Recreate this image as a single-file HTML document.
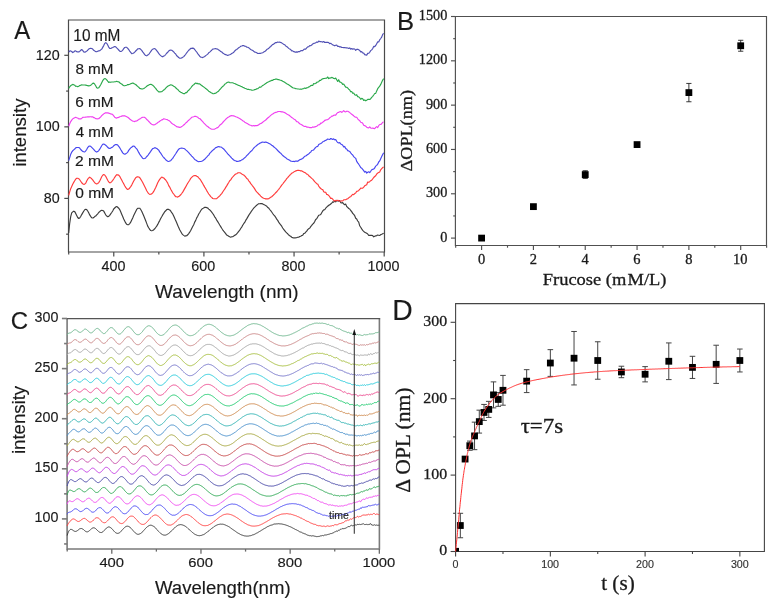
<!DOCTYPE html>
<html><head><meta charset="utf-8"><title>figure</title>
<style>html,body{margin:0;padding:0;background:#fff;}svg{display:block;will-change:transform;}</style></head>
<body><svg width="772" height="602" viewBox="0 0 772 602">
<rect width="772" height="602" fill="#fff"/>
<path d="M68.5 20.0 V252.0 H384.5 V20.0 Z" fill="none" stroke="#4a4a4a" stroke-width="1.2"/>
<path d="M68.7 233.0L69.7 223.3L70.7 216.6L71.7 212.9L72.7 211.9L73.7 211.2L74.7 211.6L75.7 213.4L76.7 215.5L77.7 217.5L78.7 218.5L79.7 217.9L80.7 216.5L81.7 214.6L82.7 212.9L83.7 211.2L84.7 209.7L85.7 209.3L86.7 209.6L87.7 211.0L88.7 212.8L89.7 214.9L90.7 216.4L91.7 217.8L92.7 218.0L93.7 217.6L94.7 216.6L95.7 216.0L96.7 214.9L97.7 213.8L98.7 212.5L99.7 211.6L100.7 210.7L101.7 210.3L102.7 210.5L103.7 211.1L104.7 212.9L105.7 214.8L106.7 216.0L107.7 216.7L108.7 216.4L109.7 215.4L110.7 213.9L111.7 212.5L112.7 211.0L113.7 209.0L114.7 208.0L115.7 207.0L116.7 206.5L117.7 207.3L118.7 208.2L119.7 209.6L120.7 211.8L121.7 214.2L122.7 216.5L123.7 219.0L124.7 221.0L125.7 222.9L126.7 224.3L127.7 224.7L128.7 224.6L129.7 223.6L130.7 222.2L131.7 220.0L132.7 217.9L133.7 215.6L134.7 213.5L135.7 211.5L136.7 209.4L137.7 208.4L138.7 208.2L139.7 208.2L140.7 209.5L141.7 211.2L142.7 213.5L143.7 215.8L144.7 218.2L145.7 220.8L146.7 223.4L147.7 226.1L148.7 227.8L149.7 229.4L150.7 230.5L151.7 230.8L152.7 230.5L153.7 229.7L154.7 228.8L155.7 227.5L156.7 226.2L157.7 224.4L158.7 222.4L159.7 220.6L160.7 218.5L161.7 216.8L162.7 214.9L163.7 213.4L164.7 211.7L165.7 210.8L166.7 209.6L167.7 209.2L168.7 209.4L169.7 209.9L170.7 211.0L171.7 212.7L172.7 213.9L173.7 215.9L174.7 218.2L175.7 220.6L176.7 222.8L177.7 225.2L178.7 227.6L179.7 229.7L180.7 231.5L181.7 233.3L182.7 234.6L183.7 235.4L184.7 236.1L185.7 235.9L186.7 235.7L187.7 234.8L188.7 233.6L189.7 232.1L190.7 230.5L191.7 228.4L192.7 226.5L193.7 224.7L194.7 222.1L195.7 220.4L196.7 217.9L197.7 216.2L198.7 214.0L199.7 212.5L200.7 210.8L201.7 209.2L202.7 208.6L203.7 207.9L204.7 207.3L205.7 207.3L206.7 207.6L207.7 208.0L208.7 209.1L209.7 209.8L210.7 210.9L211.7 212.1L212.7 213.5L213.7 214.9L214.7 216.8L215.7 218.2L216.7 220.1L217.7 221.6L218.7 223.2L219.7 225.0L220.7 226.6L221.7 228.3L222.7 229.8L223.7 231.2L224.7 232.4L225.7 233.7L226.7 235.1L227.7 235.6L228.7 236.2L229.7 236.8L230.7 237.2L231.7 236.7L232.7 236.7L233.7 236.1L234.7 235.3L235.7 234.9L236.7 233.8L237.7 232.7L238.7 231.3L239.7 230.1L240.7 228.5L241.7 227.1L242.7 225.3L243.7 223.7L244.7 222.4L245.7 220.4L246.7 218.9L247.7 217.1L248.7 215.4L249.7 213.8L250.7 212.4L251.7 210.8L252.7 209.5L253.7 208.2L254.7 207.2L255.7 206.1L256.7 205.2L257.7 204.4L258.7 203.7L259.7 203.8L260.7 203.6L261.7 203.6L262.7 203.9L263.7 204.4L264.7 204.9L265.7 205.6L266.7 206.2L267.7 207.5L268.7 208.1L269.7 209.5L270.7 210.7L271.7 212.0L272.7 213.5L273.7 214.9L274.7 215.9L275.7 217.3L276.7 219.2L277.7 220.4L278.7 222.1L279.7 223.7L280.7 224.8L281.7 226.2L282.7 228.0L283.7 229.3L284.7 230.6L285.7 231.9L286.7 232.9L287.7 233.8L288.7 235.0L289.7 235.7L290.7 236.3L291.7 237.2L292.7 237.6L293.7 238.0L294.7 237.8L295.7 237.8L296.7 237.6L297.7 237.3L298.7 237.2L299.7 236.5L300.7 236.2L301.7 235.6L302.7 235.3L303.7 233.6L304.7 233.3L305.7 232.1L306.7 231.1L307.7 229.6L308.7 228.8L309.7 228.1L310.7 226.6L311.7 225.4L312.7 224.1L313.7 223.3L314.7 221.6L315.7 219.5L316.7 218.8L317.7 217.0L318.7 215.2L319.7 215.0L320.7 214.5L321.7 212.7L322.7 211.0L323.7 209.9L324.7 209.8L325.7 208.2L326.7 207.2L327.7 206.2L328.7 205.3L329.7 204.9L330.7 204.0L331.7 203.1L332.7 201.9L333.7 202.2L334.7 201.2L335.7 201.8L336.7 200.4L337.7 200.9L338.7 201.1L339.7 200.6L340.7 202.6L341.7 203.0L342.7 202.6L343.7 204.0L344.7 204.7L345.7 204.1L346.7 206.5L347.7 207.4L348.7 208.5L349.7 209.0L350.7 210.5L351.7 211.6L352.7 213.4L353.7 214.3L354.7 215.7L355.7 218.2L356.7 219.0L357.7 221.0L358.7 222.2L359.7 225.8L360.7 227.3L361.7 228.9L362.7 230.3L363.7 231.3L364.7 232.3L365.7 232.7L366.7 233.3L367.7 234.0L368.7 235.3L369.7 235.3L370.7 235.3L371.7 235.4L372.7 235.6L373.7 236.8L374.7 236.2L375.7 235.9L376.7 235.6L377.7 235.0L378.7 235.3L379.7 235.5L380.7 234.6L381.7 234.2L382.7 233.7L383.7 233.2" fill="none" stroke="#3c3c3c" stroke-width="1.15" stroke-linejoin="round"/>
<path d="M68.7 195.3L69.7 191.9L70.7 188.7L71.7 186.5L72.7 184.2L73.7 182.4L74.7 180.7L75.7 179.1L76.7 178.2L77.7 178.2L78.7 178.7L79.7 179.7L80.7 181.2L81.7 182.8L82.7 183.7L83.7 184.4L84.7 184.2L85.7 183.2L86.7 181.1L87.7 179.2L88.7 178.0L89.7 177.2L90.7 177.9L91.7 178.8L92.7 179.9L93.7 181.3L94.7 182.8L95.7 183.4L96.7 183.9L97.7 183.5L98.7 182.6L99.7 181.0L100.7 178.9L101.7 176.7L102.7 175.2L103.7 174.5L104.7 175.0L105.7 176.3L106.7 178.3L107.7 180.3L108.7 181.9L109.7 182.8L110.7 182.6L111.7 181.6L112.7 180.4L113.7 179.0L114.7 177.3L115.7 175.9L116.7 174.7L117.7 174.9L118.7 175.1L119.7 176.3L120.7 178.2L121.7 180.1L122.7 182.0L123.7 183.8L124.7 185.8L125.7 187.4L126.7 188.7L127.7 189.5L128.7 189.0L129.7 188.0L130.7 186.6L131.7 185.1L132.7 183.1L133.7 181.0L134.7 179.4L135.7 177.7L136.7 177.0L137.7 176.7L138.7 177.0L139.7 177.6L140.7 179.1L141.7 180.7L142.7 182.5L143.7 184.6L144.7 186.6L145.7 188.6L146.7 190.8L147.7 192.3L148.7 193.6L149.7 194.4L150.7 194.2L151.7 193.9L152.7 192.9L153.7 191.4L154.7 189.4L155.7 187.5L156.7 185.2L157.7 182.8L158.7 180.9L159.7 179.4L160.7 178.1L161.7 177.1L162.7 177.6L163.7 177.9L164.7 179.0L165.7 180.0L166.7 181.5L167.7 183.1L168.7 185.6L169.7 187.1L170.7 189.3L171.7 190.9L172.7 192.8L173.7 194.0L174.7 195.5L175.7 196.6L176.7 196.7L177.7 197.1L178.7 196.6L179.7 195.7L180.7 194.8L181.7 193.5L182.7 192.1L183.7 190.4L184.7 188.6L185.7 186.9L186.7 185.0L187.7 183.2L188.7 181.7L189.7 180.2L190.7 178.4L191.7 177.4L192.7 176.4L193.7 175.7L194.7 175.6L195.7 175.5L196.7 176.2L197.7 176.6L198.7 177.8L199.7 178.9L200.7 180.2L201.7 181.9L202.7 183.5L203.7 185.4L204.7 187.1L205.7 188.7L206.7 190.6L207.7 192.3L208.7 194.0L209.7 195.2L210.7 196.6L211.7 197.4L212.7 198.5L213.7 198.7L214.7 198.7L215.7 198.8L216.7 198.6L217.7 197.6L218.7 196.8L219.7 195.9L220.7 194.7L221.7 193.6L222.7 192.0L223.7 190.5L224.7 189.2L225.7 187.4L226.7 185.9L227.7 184.1L228.7 182.5L229.7 180.8L230.7 179.9L231.7 178.2L232.7 177.0L233.7 175.8L234.7 174.8L235.7 174.0L236.7 173.7L237.7 172.9L238.7 172.7L239.7 172.8L240.7 173.1L241.7 173.9L242.7 174.5L243.7 175.0L244.7 175.9L245.7 177.0L246.7 178.4L247.7 179.0L248.7 180.8L249.7 181.9L250.7 183.6L251.7 184.7L252.7 186.2L253.7 187.4L254.7 188.9L255.7 190.6L256.7 191.9L257.7 192.9L258.7 194.0L259.7 194.9L260.7 196.1L261.7 197.0L262.7 197.7L263.7 198.3L264.7 198.5L265.7 198.9L266.7 198.9L267.7 198.9L268.7 198.7L269.7 197.9L270.7 197.3L271.7 196.7L272.7 195.8L273.7 194.8L274.7 193.9L275.7 192.7L276.7 191.8L277.7 190.5L278.7 189.3L279.7 188.0L280.7 186.6L281.7 185.2L282.7 184.0L283.7 182.6L284.7 181.4L285.7 180.1L286.7 178.7L287.7 177.7L288.7 176.3L289.7 175.3L290.7 174.4L291.7 173.2L292.7 172.7L293.7 172.1L294.7 171.4L295.7 170.9L296.7 170.6L297.7 170.3L298.7 170.4L299.7 170.5L300.7 170.9L301.7 170.8L302.7 171.6L303.7 172.1L304.7 172.5L305.7 173.1L306.7 174.1L307.7 174.2L308.7 175.7L309.7 176.5L310.7 177.4L311.7 178.4L312.7 179.1L313.7 180.3L314.7 181.7L315.7 182.7L316.7 183.7L317.7 184.1L318.7 186.1L319.7 187.5L320.7 188.5L321.7 189.3L322.7 189.6L323.7 191.8L324.7 192.3L325.7 192.2L326.7 194.5L327.7 194.6L328.7 195.5L329.7 196.7L330.7 198.4L331.7 198.2L332.7 199.2L333.7 200.5L334.7 200.9L335.7 200.4L336.7 200.6L337.7 200.3L338.7 200.6L339.7 201.2L340.7 201.1L341.7 200.8L342.7 201.0L343.7 199.8L344.7 199.7L345.7 199.7L346.7 199.1L347.7 198.8L348.7 197.9L349.7 197.0L350.7 196.7L351.7 195.3L352.7 194.3L353.7 194.7L354.7 193.6L355.7 193.0L356.7 191.3L357.7 191.2L358.7 190.4L359.7 189.5L360.7 188.1L361.7 188.3L362.7 188.2L363.7 187.1L364.7 185.8L365.7 185.2L366.7 184.7L367.7 182.0L368.7 182.3L369.7 181.7L370.7 180.7L371.7 180.2L372.7 178.9L373.7 177.5L374.7 176.5L375.7 175.7L376.7 174.0L377.7 173.1L378.7 172.5L379.7 171.9L380.7 169.8L381.7 168.7L382.7 167.6L383.7 167.0" fill="none" stroke="#ff3b3b" stroke-width="1.15" stroke-linejoin="round"/>
<path d="M68.7 160.6L69.7 157.6L70.7 154.3L71.7 152.2L72.7 150.8L73.7 149.9L74.7 149.0L75.7 147.9L76.7 147.5L77.7 147.5L78.7 147.5L79.7 148.1L80.7 149.5L81.7 150.5L82.7 151.4L83.7 151.8L84.7 152.0L85.7 150.8L86.7 149.5L87.7 147.6L88.7 146.3L89.7 146.0L90.7 146.3L91.7 147.3L92.7 148.3L93.7 149.3L94.7 150.6L95.7 151.5L96.7 152.1L97.7 151.6L98.7 150.6L99.7 149.2L100.7 147.5L101.7 145.8L102.7 144.3L103.7 144.0L104.7 144.6L105.7 145.2L106.7 146.1L107.7 147.3L108.7 148.2L109.7 148.4L110.7 148.1L111.7 147.5L112.7 146.9L113.7 145.8L114.7 145.0L115.7 144.5L116.7 144.6L117.7 145.1L118.7 146.4L119.7 147.7L120.7 149.5L121.7 151.1L122.7 152.9L123.7 153.7L124.7 154.1L125.7 153.9L126.7 153.1L127.7 152.1L128.7 150.4L129.7 149.1L130.7 147.9L131.7 147.2L132.7 146.3L133.7 146.0L134.7 146.6L135.7 147.8L136.7 148.8L137.7 150.4L138.7 152.4L139.7 154.1L140.7 155.7L141.7 156.9L142.7 158.3L143.7 158.7L144.7 158.5L145.7 157.9L146.7 156.5L147.7 155.7L148.7 154.2L149.7 152.8L150.7 151.4L151.7 149.9L152.7 148.6L153.7 148.2L154.7 147.7L155.7 147.9L156.7 148.4L157.7 149.3L158.7 150.1L159.7 151.9L160.7 153.1L161.7 154.7L162.7 156.3L163.7 157.5L164.7 158.5L165.7 159.7L166.7 160.5L167.7 161.2L168.7 161.5L169.7 161.0L170.7 160.7L171.7 159.4L172.7 158.4L173.7 156.8L174.7 155.2L175.7 153.7L176.7 152.1L177.7 150.6L178.7 149.2L179.7 148.5L180.7 148.2L181.7 148.1L182.7 148.2L183.7 148.5L184.7 148.8L185.7 149.9L186.7 150.6L187.7 151.6L188.7 152.6L189.7 153.8L190.7 154.9L191.7 156.1L192.7 157.0L193.7 158.2L194.7 159.5L195.7 160.0L196.7 160.7L197.7 161.4L198.7 161.7L199.7 161.5L200.7 161.5L201.7 161.3L202.7 160.7L203.7 160.0L204.7 159.3L205.7 158.1L206.7 157.1L207.7 155.9L208.7 155.1L209.7 153.4L210.7 152.4L211.7 151.3L212.7 150.4L213.7 149.5L214.7 148.7L215.7 147.6L216.7 147.4L217.7 146.8L218.7 146.6L219.7 146.9L220.7 147.0L221.7 147.3L222.7 148.3L223.7 149.0L224.7 150.1L225.7 151.3L226.7 152.5L227.7 153.9L228.7 154.8L229.7 155.8L230.7 157.0L231.7 158.1L232.7 159.0L233.7 160.1L234.7 160.6L235.7 160.8L236.7 161.5L237.7 161.4L238.7 161.3L239.7 160.9L240.7 160.6L241.7 159.9L242.7 159.5L243.7 158.6L244.7 157.8L245.7 156.8L246.7 155.6L247.7 154.8L248.7 153.7L249.7 152.7L250.7 151.4L251.7 150.8L252.7 149.5L253.7 148.2L254.7 147.1L255.7 146.4L256.7 145.5L257.7 144.6L258.7 144.0L259.7 143.2L260.7 142.9L261.7 142.3L262.7 142.1L263.7 142.2L264.7 142.4L265.7 142.0L266.7 142.4L267.7 142.7L268.7 143.4L269.7 143.7L270.7 144.4L271.7 145.2L272.7 145.8L273.7 146.7L274.7 147.6L275.7 148.3L276.7 149.4L277.7 150.5L278.7 151.5L279.7 152.5L280.7 153.2L281.7 154.3L282.7 155.5L283.7 156.3L284.7 157.1L285.7 157.7L286.7 158.7L287.7 159.2L288.7 159.7L289.7 160.3L290.7 161.1L291.7 161.2L292.7 161.5L293.7 161.3L294.7 161.6L295.7 161.1L296.7 161.0L297.7 161.3L298.7 160.5L299.7 159.8L300.7 159.4L301.7 158.9L302.7 158.5L303.7 157.4L304.7 156.3L305.7 156.0L306.7 155.2L307.7 154.5L308.7 154.0L309.7 152.8L310.7 152.1L311.7 150.5L312.7 150.3L313.7 149.9L314.7 148.5L315.7 147.4L316.7 146.6L317.7 146.4L318.7 144.5L319.7 144.0L320.7 143.5L321.7 142.9L322.7 141.8L323.7 141.5L324.7 140.7L325.7 140.4L326.7 139.8L327.7 139.0L328.7 139.3L329.7 139.5L330.7 138.5L331.7 138.9L332.7 139.5L333.7 138.8L334.7 139.8L335.7 139.6L336.7 141.3L337.7 142.5L338.7 143.0L339.7 142.6L340.7 143.9L341.7 144.4L342.7 145.3L343.7 146.9L344.7 146.4L345.7 148.6L346.7 149.0L347.7 150.6L348.7 150.9L349.7 151.4L350.7 152.8L351.7 154.1L352.7 155.0L353.7 156.6L354.7 157.6L355.7 158.3L356.7 161.4L357.7 162.9L358.7 164.2L359.7 165.7L360.7 167.6L361.7 168.2L362.7 169.3L363.7 170.6L364.7 172.1L365.7 171.4L366.7 173.1L367.7 172.3L368.7 171.8L369.7 172.6L370.7 171.3L371.7 169.8L372.7 169.4L373.7 169.0L374.7 168.0L375.7 166.1L376.7 165.4L377.7 164.2L378.7 162.0L379.7 160.9L380.7 158.8L381.7 156.6L382.7 154.6L383.7 152.7" fill="none" stroke="#4646f0" stroke-width="1.15" stroke-linejoin="round"/>
<path d="M68.7 126.4L69.7 123.8L70.7 121.6L71.7 120.1L72.7 118.9L73.7 118.2L74.7 117.7L75.7 117.3L76.7 117.7L77.7 118.0L78.7 118.9L79.7 118.8L80.7 118.9L81.7 118.4L82.7 117.4L83.7 117.2L84.7 117.2L85.7 117.1L86.7 117.0L87.7 116.8L88.7 116.8L89.7 116.8L90.7 116.7L91.7 116.9L92.7 116.8L93.7 117.6L94.7 117.9L95.7 118.6L96.7 118.8L97.7 118.8L98.7 118.7L99.7 117.8L100.7 116.8L101.7 115.6L102.7 114.8L103.7 113.9L104.7 113.2L105.7 112.7L106.7 112.9L107.7 112.9L108.7 113.1L109.7 113.5L110.7 113.9L111.7 114.1L112.7 114.6L113.7 115.8L114.7 117.2L115.7 117.9L116.7 118.1L117.7 117.6L118.7 117.4L119.7 116.8L120.7 116.5L121.7 116.1L122.7 115.7L123.7 115.9L124.7 115.7L125.7 116.2L126.7 116.7L127.7 117.2L128.7 118.0L129.7 119.0L130.7 119.8L131.7 120.5L132.7 121.1L133.7 121.2L134.7 121.6L135.7 121.1L136.7 121.0L137.7 120.3L138.7 119.6L139.7 119.0L140.7 118.4L141.7 117.6L142.7 117.2L143.7 117.2L144.7 117.4L145.7 118.2L146.7 119.5L147.7 120.2L148.7 121.5L149.7 122.3L150.7 123.6L151.7 124.2L152.7 124.7L153.7 124.9L154.7 124.8L155.7 124.1L156.7 123.5L157.7 122.6L158.7 122.1L159.7 121.2L160.7 120.6L161.7 119.9L162.7 119.6L163.7 118.8L164.7 119.0L165.7 119.3L166.7 119.5L167.7 119.9L168.7 120.6L169.7 121.1L170.7 122.1L171.7 123.3L172.7 123.9L173.7 124.4L174.7 125.2L175.7 125.9L176.7 126.7L177.7 126.9L178.7 127.1L179.7 127.4L180.7 127.2L181.7 126.6L182.7 125.9L183.7 125.0L184.7 124.2L185.7 123.0L186.7 122.3L187.7 121.1L188.7 120.2L189.7 119.4L190.7 118.4L191.7 117.3L192.7 117.0L193.7 116.7L194.7 116.3L195.7 116.4L196.7 116.8L197.7 117.1L198.7 118.3L199.7 118.5L200.7 119.5L201.7 120.6L202.7 121.7L203.7 122.8L204.7 123.8L205.7 124.8L206.7 126.0L207.7 126.4L208.7 127.5L209.7 128.1L210.7 128.8L211.7 129.1L212.7 129.2L213.7 129.2L214.7 129.1L215.7 128.6L216.7 127.9L217.7 127.6L218.7 126.8L219.7 125.3L220.7 124.5L221.7 123.8L222.7 122.5L223.7 121.4L224.7 120.3L225.7 119.3L226.7 118.4L227.7 117.5L228.7 117.0L229.7 116.3L230.7 115.9L231.7 115.6L232.7 115.8L233.7 115.8L234.7 116.2L235.7 116.7L236.7 117.0L237.7 117.5L238.7 118.1L239.7 118.6L240.7 119.2L241.7 119.9L242.7 120.7L243.7 121.2L244.7 122.2L245.7 122.7L246.7 123.2L247.7 123.8L248.7 124.4L249.7 125.0L250.7 125.2L251.7 125.8L252.7 125.8L253.7 125.6L254.7 125.9L255.7 125.5L256.7 125.6L257.7 125.4L258.7 124.8L259.7 124.0L260.7 123.5L261.7 123.1L262.7 122.2L263.7 121.4L264.7 120.7L265.7 120.1L266.7 119.0L267.7 118.0L268.7 117.2L269.7 116.4L270.7 115.4L271.7 114.6L272.7 114.1L273.7 113.3L274.7 112.8L275.7 112.4L276.7 112.3L277.7 111.6L278.7 111.5L279.7 111.5L280.7 111.6L281.7 111.9L282.7 111.9L283.7 112.2L284.7 112.6L285.7 113.2L286.7 113.9L287.7 114.5L288.7 115.0L289.7 115.8L290.7 116.6L291.7 117.5L292.7 118.1L293.7 118.9L294.7 119.4L295.7 120.3L296.7 121.7L297.7 121.7L298.7 122.8L299.7 123.7L300.7 124.2L301.7 124.7L302.7 125.5L303.7 126.1L304.7 126.5L305.7 126.3L306.7 127.1L307.7 127.1L308.7 127.3L309.7 127.6L310.7 127.6L311.7 127.6L312.7 126.9L313.7 127.2L314.7 126.9L315.7 126.6L316.7 126.3L317.7 125.2L318.7 124.7L319.7 124.6L320.7 123.1L321.7 123.2L322.7 122.2L323.7 121.6L324.7 120.4L325.7 120.1L326.7 119.8L327.7 119.6L328.7 119.0L329.7 117.8L330.7 117.1L331.7 116.1L332.7 116.1L333.7 115.2L334.7 115.1L335.7 115.1L336.7 113.7L337.7 112.5L338.7 112.4L339.7 111.7L340.7 111.5L341.7 112.4L342.7 111.7L343.7 110.7L344.7 111.7L345.7 111.9L346.7 111.2L347.7 111.3L348.7 111.8L349.7 112.6L350.7 113.3L351.7 114.3L352.7 115.0L353.7 115.8L354.7 116.8L355.7 117.3L356.7 117.2L357.7 118.8L358.7 120.0L359.7 120.6L360.7 122.2L361.7 122.5L362.7 123.2L363.7 125.2L364.7 125.6L365.7 126.2L366.7 127.2L367.7 127.8L368.7 127.9L369.7 126.9L370.7 128.0L371.7 128.3L372.7 128.0L373.7 128.4L374.7 128.6L375.7 127.4L376.7 126.6L377.7 127.6L378.7 125.7L379.7 124.5L380.7 124.5L381.7 123.7L382.7 122.2L383.7 122.0" fill="none" stroke="#f040f0" stroke-width="1.15" stroke-linejoin="round"/>
<path d="M68.7 88.4L69.7 86.8L70.7 85.7L71.7 84.9L72.7 84.4L73.7 84.8L74.7 85.2L75.7 86.3L76.7 86.2L77.7 86.7L78.7 86.2L79.7 85.6L80.7 85.2L81.7 84.9L82.7 85.0L83.7 85.0L84.7 85.0L85.7 85.1L86.7 85.4L87.7 85.6L88.7 85.9L89.7 85.7L90.7 85.2L91.7 84.4L92.7 83.4L93.7 83.1L94.7 84.2L95.7 85.8L96.7 87.8L97.7 88.1L98.7 87.8L99.7 86.4L100.7 84.8L101.7 82.7L102.7 80.7L103.7 79.3L104.7 78.6L105.7 78.8L106.7 79.8L107.7 81.2L108.7 82.4L109.7 82.0L110.7 82.3L111.7 82.0L112.7 82.0L113.7 82.0L114.7 81.7L115.7 81.7L116.7 81.3L117.7 81.7L118.7 81.8L119.7 82.7L120.7 83.5L121.7 84.0L122.7 85.0L123.7 85.6L124.7 85.8L125.7 85.5L126.7 85.2L127.7 84.6L128.7 84.6L129.7 84.3L130.7 83.7L131.7 83.4L132.7 83.0L133.7 83.4L134.7 84.0L135.7 84.5L136.7 85.5L137.7 86.4L138.7 87.2L139.7 88.4L140.7 88.6L141.7 89.0L142.7 88.9L143.7 88.5L144.7 87.9L145.7 87.1L146.7 86.2L147.7 85.5L148.7 85.1L149.7 84.5L150.7 84.3L151.7 84.6L152.7 85.3L153.7 86.1L154.7 87.3L155.7 88.4L156.7 89.9L157.7 90.9L158.7 91.9L159.7 91.8L160.7 91.8L161.7 91.7L162.7 90.9L163.7 90.0L164.7 89.4L165.7 88.2L166.7 87.1L167.7 86.2L168.7 85.7L169.7 85.2L170.7 84.8L171.7 85.0L172.7 85.6L173.7 86.2L174.7 86.7L175.7 87.8L176.7 88.7L177.7 89.4L178.7 90.6L179.7 91.6L180.7 92.2L181.7 92.6L182.7 93.3L183.7 93.6L184.7 93.6L185.7 92.6L186.7 92.6L187.7 91.1L188.7 90.3L189.7 89.2L190.7 88.0L191.7 86.7L192.7 85.4L193.7 84.7L194.7 83.8L195.7 83.0L196.7 83.6L197.7 83.4L198.7 83.9L199.7 83.9L200.7 84.8L201.7 85.5L202.7 86.3L203.7 86.9L204.7 87.6L205.7 88.6L206.7 89.2L207.7 90.1L208.7 91.2L209.7 91.8L210.7 92.5L211.7 93.0L212.7 93.6L213.7 93.7L214.7 93.4L215.7 93.3L216.7 92.4L217.7 91.7L218.7 91.0L219.7 89.6L220.7 88.7L221.7 87.4L222.7 86.5L223.7 85.6L224.7 84.3L225.7 83.6L226.7 82.8L227.7 82.3L228.7 82.1L229.7 82.6L230.7 82.8L231.7 82.7L232.7 82.8L233.7 83.3L234.7 83.5L235.7 84.1L236.7 84.4L237.7 84.9L238.7 85.4L239.7 85.7L240.7 86.3L241.7 86.6L242.7 87.2L243.7 87.6L244.7 88.2L245.7 88.5L246.7 89.0L247.7 89.4L248.7 89.4L249.7 89.7L250.7 89.8L251.7 90.1L252.7 90.2L253.7 90.0L254.7 89.6L255.7 89.5L256.7 88.7L257.7 88.7L258.7 87.9L259.7 87.0L260.7 87.2L261.7 86.4L262.7 85.4L263.7 84.9L264.7 84.2L265.7 83.6L266.7 82.7L267.7 82.2L268.7 81.8L269.7 81.2L270.7 80.9L271.7 80.3L272.7 80.3L273.7 79.5L274.7 79.5L275.7 79.0L276.7 79.1L277.7 79.6L278.7 79.5L279.7 80.0L280.7 80.3L281.7 80.6L282.7 81.2L283.7 81.7L284.7 82.3L285.7 83.1L286.7 83.7L287.7 84.2L288.7 84.8L289.7 85.6L290.7 86.2L291.7 87.0L292.7 87.8L293.7 88.0L294.7 88.3L295.7 88.6L296.7 88.8L297.7 89.0L298.7 89.0L299.7 89.2L300.7 89.1L301.7 89.3L302.7 88.8L303.7 88.6L304.7 88.0L305.7 88.5L306.7 87.7L307.7 87.7L308.7 86.9L309.7 86.7L310.7 85.6L311.7 85.4L312.7 85.5L313.7 83.5L314.7 83.8L315.7 83.5L316.7 82.4L317.7 82.0L318.7 81.7L319.7 80.3L320.7 80.3L321.7 79.3L322.7 78.9L323.7 78.5L324.7 78.4L325.7 78.2L326.7 78.1L327.7 77.0L328.7 78.6L329.7 78.1L330.7 77.9L331.7 77.4L332.7 77.8L333.7 78.4L334.7 78.7L335.7 78.1L336.7 79.8L337.7 81.5L338.7 79.7L339.7 81.9L340.7 82.3L341.7 82.9L342.7 84.5L343.7 84.0L344.7 85.6L345.7 87.1L346.7 87.2L347.7 88.0L348.7 89.2L349.7 89.9L350.7 91.8L351.7 91.5L352.7 93.3L353.7 93.0L354.7 94.8L355.7 95.2L356.7 94.7L357.7 96.7L358.7 96.8L359.7 97.8L360.7 99.3L361.7 98.4L362.7 98.8L363.7 100.4L364.7 99.9L365.7 100.8L366.7 100.2L367.7 99.4L368.7 99.4L369.7 99.5L370.7 98.7L371.7 97.3L372.7 96.3L373.7 95.0L374.7 93.5L375.7 93.4L376.7 90.9L377.7 88.7L378.7 87.4L379.7 86.2L380.7 84.4L381.7 82.2L382.7 80.1L383.7 78.6" fill="none" stroke="#2aa84a" stroke-width="1.15" stroke-linejoin="round"/>
<path d="M68.7 52.1L69.7 51.0L70.7 50.9L71.7 51.5L72.7 52.6L73.7 52.0L74.7 51.0L75.7 50.9L76.7 51.7L77.7 51.9L78.7 51.9L79.7 51.4L80.7 50.3L81.7 49.5L82.7 50.4L83.7 52.0L84.7 52.1L85.7 51.9L86.7 51.1L87.7 50.2L88.7 49.1L89.7 48.6L90.7 48.3L91.7 48.5L92.7 49.1L93.7 50.3L94.7 50.9L95.7 51.6L96.7 51.7L97.7 51.2L98.7 50.9L99.7 50.7L100.7 49.9L101.7 49.1L102.7 47.4L103.7 45.6L104.7 43.4L105.7 42.7L106.7 43.2L107.7 45.0L108.7 47.1L109.7 48.4L110.7 48.5L111.7 47.9L112.7 47.5L113.7 47.0L114.7 46.5L115.7 46.8L116.7 47.9L117.7 48.9L118.7 50.0L119.7 51.1L120.7 51.5L121.7 51.2L122.7 50.2L123.7 48.6L124.7 47.5L125.7 47.2L126.7 47.3L127.7 48.4L128.7 49.5L129.7 51.1L130.7 52.4L131.7 53.7L132.7 53.5L133.7 53.0L134.7 52.1L135.7 51.0L136.7 50.0L137.7 48.9L138.7 48.7L139.7 48.5L140.7 49.4L141.7 50.4L142.7 51.9L143.7 53.1L144.7 54.6L145.7 55.5L146.7 55.8L147.7 55.0L148.7 54.5L149.7 53.0L150.7 51.6L151.7 50.2L152.7 49.2L153.7 48.7L154.7 48.6L155.7 49.3L156.7 50.6L157.7 51.9L158.7 53.3L159.7 54.6L160.7 55.6L161.7 56.4L162.7 56.8L163.7 56.0L164.7 55.7L165.7 54.5L166.7 53.2L167.7 52.3L168.7 51.0L169.7 50.2L170.7 50.0L171.7 50.3L172.7 51.0L173.7 51.9L174.7 53.1L175.7 54.0L176.7 55.7L177.7 56.5L178.7 57.6L179.7 58.2L180.7 58.2L181.7 57.9L182.7 57.3L183.7 56.6L184.7 55.5L185.7 54.3L186.7 52.8L187.7 51.5L188.7 50.3L189.7 49.5L190.7 48.4L191.7 48.4L192.7 48.1L193.7 48.4L194.7 49.5L195.7 50.8L196.7 52.0L197.7 53.6L198.7 54.8L199.7 56.2L200.7 57.1L201.7 57.3L202.7 57.6L203.7 57.1L204.7 56.5L205.7 55.6L206.7 54.9L207.7 54.1L208.7 52.8L209.7 52.1L210.7 51.1L211.7 50.2L212.7 49.1L213.7 49.0L214.7 48.8L215.7 48.6L216.7 49.0L217.7 49.1L218.7 50.1L219.7 50.6L220.7 51.5L221.7 51.9L222.7 53.0L223.7 53.6L224.7 54.4L225.7 54.6L226.7 55.0L227.7 55.5L228.7 55.0L229.7 54.7L230.7 54.2L231.7 53.5L232.7 53.0L233.7 52.3L234.7 51.0L235.7 50.0L236.7 49.5L237.7 48.6L238.7 47.8L239.7 47.1L240.7 46.3L241.7 46.0L242.7 45.6L243.7 45.6L244.7 46.2L245.7 46.2L246.7 47.1L247.7 47.3L248.7 47.8L249.7 48.6L250.7 49.5L251.7 50.0L252.7 50.4L253.7 51.3L254.7 52.1L255.7 52.3L256.7 52.8L257.7 53.4L258.7 53.5L259.7 53.3L260.7 53.3L261.7 53.0L262.7 52.7L263.7 52.1L264.7 51.6L265.7 50.8L266.7 49.6L267.7 49.1L268.7 48.3L269.7 47.3L270.7 46.5L271.7 45.4L272.7 44.5L273.7 44.1L274.7 43.2L275.7 42.5L276.7 42.6L277.7 42.1L278.7 42.2L279.7 42.1L280.7 42.5L281.7 42.9L282.7 43.6L283.7 44.4L284.7 44.7L285.7 46.0L286.7 46.5L287.7 47.4L288.7 48.4L289.7 49.1L290.7 49.6L291.7 50.9L292.7 50.9L293.7 51.6L294.7 51.9L295.7 52.3L296.7 51.9L297.7 52.1L298.7 51.5L299.7 51.6L300.7 50.8L301.7 50.5L302.7 50.6L303.7 49.6L304.7 49.0L305.7 49.1L306.7 47.9L307.7 46.9L308.7 46.8L309.7 45.5L310.7 45.7L311.7 45.1L312.7 43.9L313.7 43.4L314.7 43.2L315.7 42.7L316.7 42.0L317.7 42.3L318.7 41.1L319.7 41.6L320.7 41.6L321.7 41.7L322.7 42.1L323.7 41.5L324.7 42.5L325.7 42.4L326.7 42.4L327.7 42.3L328.7 42.6L329.7 43.7L330.7 43.3L331.7 44.1L332.7 44.9L333.7 45.2L334.7 45.8L335.7 45.2L336.7 45.1L337.7 46.4L338.7 46.3L339.7 47.0L340.7 46.7L341.7 47.5L342.7 47.5L343.7 47.6L344.7 47.6L345.7 47.8L346.7 47.8L347.7 48.0L348.7 48.5L349.7 47.9L350.7 49.2L351.7 48.5L352.7 49.2L353.7 48.9L354.7 49.0L355.7 50.4L356.7 49.4L357.7 49.2L358.7 49.8L359.7 50.4L360.7 52.0L361.7 51.6L362.7 53.0L363.7 53.1L364.7 54.6L365.7 54.9L366.7 55.2L367.7 53.4L368.7 53.3L369.7 52.3L370.7 50.6L371.7 49.9L372.7 48.6L373.7 46.4L374.7 46.6L375.7 45.5L376.7 43.7L377.7 41.9L378.7 41.9L379.7 39.8L380.7 38.5L381.7 37.1L382.7 34.4L383.7 33.3" fill="none" stroke="#5050b4" stroke-width="1.15" stroke-linejoin="round"/>
<line x1="64.30" y1="198.40" x2="68.50" y2="198.40" stroke="#4a4a4a" stroke-width="1.20"/>
<line x1="64.30" y1="126.85" x2="68.50" y2="126.85" stroke="#4a4a4a" stroke-width="1.20"/>
<line x1="64.30" y1="55.30" x2="68.50" y2="55.30" stroke="#4a4a4a" stroke-width="1.20"/>
<line x1="66.10" y1="234.18" x2="68.50" y2="234.18" stroke="#4a4a4a" stroke-width="1.20"/>
<line x1="66.10" y1="162.62" x2="68.50" y2="162.62" stroke="#4a4a4a" stroke-width="1.20"/>
<line x1="66.10" y1="91.08" x2="68.50" y2="91.08" stroke="#4a4a4a" stroke-width="1.20"/>
<line x1="113.77" y1="252.00" x2="113.77" y2="256.40" stroke="#4a4a4a" stroke-width="1.20"/>
<line x1="203.91" y1="252.00" x2="203.91" y2="256.40" stroke="#4a4a4a" stroke-width="1.20"/>
<line x1="294.05" y1="252.00" x2="294.05" y2="256.40" stroke="#4a4a4a" stroke-width="1.20"/>
<line x1="384.19" y1="252.00" x2="384.19" y2="256.40" stroke="#4a4a4a" stroke-width="1.20"/>
<line x1="68.70" y1="252.00" x2="68.70" y2="254.40" stroke="#4a4a4a" stroke-width="1.20"/>
<line x1="158.84" y1="252.00" x2="158.84" y2="254.40" stroke="#4a4a4a" stroke-width="1.20"/>
<line x1="248.98" y1="252.00" x2="248.98" y2="254.40" stroke="#4a4a4a" stroke-width="1.20"/>
<line x1="339.12" y1="252.00" x2="339.12" y2="254.40" stroke="#4a4a4a" stroke-width="1.20"/>
<path d="M455.4 16.5 V245.5 H766.5 V16.5 Z" fill="none" stroke="#505050" stroke-width="1.15"/>
<line x1="451.00" y1="238.10" x2="455.40" y2="238.10" stroke="#505050" stroke-width="1.15"/>
<line x1="451.00" y1="193.78" x2="455.40" y2="193.78" stroke="#505050" stroke-width="1.15"/>
<line x1="451.00" y1="149.46" x2="455.40" y2="149.46" stroke="#505050" stroke-width="1.15"/>
<line x1="451.00" y1="105.14" x2="455.40" y2="105.14" stroke="#505050" stroke-width="1.15"/>
<line x1="451.00" y1="60.82" x2="455.40" y2="60.82" stroke="#505050" stroke-width="1.15"/>
<line x1="451.00" y1="16.50" x2="455.40" y2="16.50" stroke="#505050" stroke-width="1.15"/>
<line x1="453.20" y1="215.94" x2="455.40" y2="215.94" stroke="#505050" stroke-width="1.15"/>
<line x1="453.20" y1="171.62" x2="455.40" y2="171.62" stroke="#505050" stroke-width="1.15"/>
<line x1="453.20" y1="127.30" x2="455.40" y2="127.30" stroke="#505050" stroke-width="1.15"/>
<line x1="453.20" y1="82.98" x2="455.40" y2="82.98" stroke="#505050" stroke-width="1.15"/>
<line x1="453.20" y1="38.66" x2="455.40" y2="38.66" stroke="#505050" stroke-width="1.15"/>
<line x1="481.60" y1="245.50" x2="481.60" y2="249.90" stroke="#505050" stroke-width="1.15"/>
<line x1="533.42" y1="245.50" x2="533.42" y2="249.90" stroke="#505050" stroke-width="1.15"/>
<line x1="585.24" y1="245.50" x2="585.24" y2="249.90" stroke="#505050" stroke-width="1.15"/>
<line x1="637.06" y1="245.50" x2="637.06" y2="249.90" stroke="#505050" stroke-width="1.15"/>
<line x1="688.88" y1="245.50" x2="688.88" y2="249.90" stroke="#505050" stroke-width="1.15"/>
<line x1="740.70" y1="245.50" x2="740.70" y2="249.90" stroke="#505050" stroke-width="1.15"/>
<line x1="455.69" y1="245.50" x2="455.69" y2="247.70" stroke="#505050" stroke-width="1.15"/>
<line x1="507.51" y1="245.50" x2="507.51" y2="247.70" stroke="#505050" stroke-width="1.15"/>
<line x1="559.33" y1="245.50" x2="559.33" y2="247.70" stroke="#505050" stroke-width="1.15"/>
<line x1="611.15" y1="245.50" x2="611.15" y2="247.70" stroke="#505050" stroke-width="1.15"/>
<line x1="662.97" y1="245.50" x2="662.97" y2="247.70" stroke="#505050" stroke-width="1.15"/>
<line x1="714.79" y1="245.50" x2="714.79" y2="247.70" stroke="#505050" stroke-width="1.15"/>
<line x1="766.61" y1="245.50" x2="766.61" y2="247.70" stroke="#505050" stroke-width="1.15"/>
<rect x="478.20" y="234.70" width="6.80" height="6.80" fill="#000"/>
<rect x="530.02" y="203.23" width="6.80" height="6.80" fill="#000"/>
<line x1="585.24" y1="170.74" x2="585.24" y2="178.42" stroke="#222" stroke-width="0.90"/>
<line x1="582.64" y1="170.74" x2="587.84" y2="170.74" stroke="#222" stroke-width="0.90"/>
<line x1="582.64" y1="178.42" x2="587.84" y2="178.42" stroke="#222" stroke-width="0.90"/>
<rect x="581.84" y="171.18" width="6.80" height="6.80" fill="#000"/>
<rect x="633.66" y="141.19" width="6.80" height="6.80" fill="#000"/>
<line x1="688.88" y1="83.43" x2="688.88" y2="101.75" stroke="#222" stroke-width="0.90"/>
<line x1="686.28" y1="83.43" x2="691.48" y2="83.43" stroke="#222" stroke-width="0.90"/>
<line x1="686.28" y1="101.75" x2="691.48" y2="101.75" stroke="#222" stroke-width="0.90"/>
<rect x="685.48" y="89.19" width="6.80" height="6.80" fill="#000"/>
<line x1="740.70" y1="40.29" x2="740.70" y2="51.22" stroke="#222" stroke-width="0.90"/>
<line x1="738.10" y1="40.29" x2="743.30" y2="40.29" stroke="#222" stroke-width="0.90"/>
<line x1="738.10" y1="51.22" x2="743.30" y2="51.22" stroke="#222" stroke-width="0.90"/>
<rect x="737.30" y="42.36" width="6.80" height="6.80" fill="#000"/>
<path d="M67.1 318.5 V549.0 H379.4 V318.5" fill="none" stroke="#7a7a7a" stroke-width="1.6"/>
<line x1="66.30" y1="318.50" x2="380.20" y2="318.50" stroke="#555" stroke-width="1.25"/>
<path d="M67.2 535.5L67.6 533.9L68.1 532.7L68.5 531.7L69.0 530.9L69.4 530.3L69.9 529.8L70.3 529.5L70.8 529.4L71.2 529.4L71.7 529.5L72.1 529.7L72.6 530.0L73.0 530.3L73.4 530.6L73.9 531.0L74.3 531.2L74.8 531.3L75.2 531.4L75.7 531.4L76.1 531.3L76.6 531.1L77.0 530.8L77.5 530.6L77.9 530.2L78.3 529.9L78.8 529.5L79.2 529.2L79.7 528.8L80.1 528.7L80.6 528.6L81.0 528.5L81.5 528.5L81.9 528.7L82.4 528.9L82.8 529.1L83.3 529.4L83.7 529.8L84.1 530.2L84.6 530.6L85.0 531.0L85.5 531.3L85.9 531.5L86.4 531.7L86.8 531.9L87.3 531.9L87.7 531.7L88.2 531.5L88.6 531.3L89.0 531.0L89.5 530.6L89.9 530.2L90.4 529.8L90.8 529.4L91.3 529.0L91.7 528.6L92.2 528.3L92.6 528.0L93.1 527.8L93.5 527.8L94.0 527.8L94.4 527.9L94.8 528.2L95.3 528.4L95.7 528.7L96.2 529.1L96.6 529.6L97.1 530.1L97.5 530.5L98.0 530.9L98.4 531.3L98.9 531.7L99.3 532.0L99.8 532.3L100.2 532.4L100.6 532.5L101.1 532.6L101.5 532.5L102.0 532.3L102.4 532.1L102.9 531.8L103.3 531.4L103.8 530.9L104.2 530.5L104.7 530.0L105.1 529.5L105.5 529.0L106.0 528.5L106.4 528.1L106.9 527.8L107.3 527.5L107.8 527.3L108.2 527.1L108.7 526.9L109.1 526.9L109.6 527.1L110.0 527.3L110.5 527.6L110.9 527.9L111.3 528.2L111.8 528.6L112.2 529.1L112.7 529.6L113.1 530.1L113.6 530.7L114.0 531.2L114.5 531.7L114.9 532.1L115.4 532.5L115.8 532.8L116.2 533.0L116.7 533.2L117.1 533.3L117.6 533.4L118.0 533.4L118.5 533.2L118.9 533.1L119.4 532.8L119.8 532.5L120.3 532.1L120.7 531.7L121.2 531.3L121.6 530.7L122.0 530.1L122.5 529.6L122.9 529.2L123.4 528.8L123.8 528.3L124.3 527.8L124.7 527.4L125.2 527.0L125.6 526.7L126.1 526.5L126.5 526.3L127.0 526.2L127.4 526.2L127.8 526.2L128.3 526.3L128.7 526.5L129.2 526.7L129.6 527.0L130.1 527.3L130.5 527.8L131.0 528.2L131.4 528.7L131.9 529.2L132.3 529.7L132.7 530.2L133.2 530.7L133.6 531.2L134.1 531.7L134.5 532.1L135.0 532.6L135.4 533.1L135.9 533.4L136.3 533.7L136.8 533.9L137.2 534.1L137.7 534.3L138.1 534.3L138.5 534.3L139.0 534.2L139.4 534.0L139.9 533.8L140.3 533.6L140.8 533.4L141.2 533.1L141.7 532.7L142.1 532.2L142.6 531.8L143.0 531.3L143.4 530.8L143.9 530.3L144.3 529.8L144.8 529.3L145.2 528.8L145.7 528.3L146.1 527.8L146.6 527.4L147.0 527.0L147.5 526.7L147.9 526.3L148.4 526.0L148.8 525.7L149.2 525.5L149.7 525.4L150.1 525.3L150.6 525.2L151.0 525.2L151.5 525.3L151.9 525.5L152.4 525.7L152.8 525.9L153.3 526.0L153.7 526.4L154.2 526.7L154.6 527.1L155.0 527.4L155.5 527.9L155.9 528.5L156.4 529.0L156.8 529.4L157.3 529.9L157.7 530.5L158.2 531.0L158.6 531.4L159.1 531.9L159.5 532.3L159.9 532.7L160.4 533.1L160.8 533.5L161.3 533.9L161.7 534.1L162.2 534.4L162.6 534.7L163.1 534.9L163.5 535.0L164.0 535.0L164.4 535.1L164.9 535.2L165.3 535.1L165.7 535.1L166.2 534.9L166.6 534.7L167.1 534.5L167.5 534.2L168.0 534.0L168.4 533.7L168.9 533.3L169.3 533.0L169.8 532.6L170.2 532.1L170.6 531.6L171.1 531.3L171.5 530.9L172.0 530.5L172.4 530.0L172.9 529.5L173.3 529.0L173.8 528.6L174.2 528.2L174.7 527.8L175.1 527.4L175.6 526.9L176.0 526.6L176.4 526.3L176.9 526.0L177.3 525.7L177.8 525.4L178.2 525.1L178.7 525.0L179.1 524.9L179.6 524.8L180.0 524.7L180.5 524.6L180.9 524.7L181.4 524.7L181.8 524.8L182.2 524.9L182.7 525.0L183.1 525.1L183.6 525.4L184.0 525.5L184.5 525.8L184.9 526.0L185.4 526.3L185.8 526.6L186.3 526.9L186.7 527.3L187.1 527.6L187.6 528.1L188.0 528.5L188.5 528.9L188.9 529.3L189.4 529.8L189.8 530.1L190.3 530.5L190.7 530.9L191.2 531.3L191.6 531.7L192.1 532.2L192.5 532.5L192.9 532.8L193.4 533.2L193.8 533.5L194.3 533.9L194.7 534.2L195.2 534.5L195.6 534.6L196.1 534.8L196.5 535.0L197.0 535.2L197.4 535.4L197.8 535.5L198.3 535.6L198.7 535.6L199.2 535.7L199.6 535.7L200.1 535.7L200.5 535.5L201.0 535.5L201.4 535.4L201.9 535.2L202.3 535.0L202.8 534.8L203.2 534.7L203.6 534.6L204.1 534.3L204.5 534.1L205.0 533.7L205.4 533.4L205.9 533.1L206.3 532.7L206.8 532.4L207.2 532.1L207.7 531.8L208.1 531.4L208.6 531.0L209.0 530.7L209.4 530.3L209.9 529.9L210.3 529.6L210.8 529.2L211.2 528.9L211.7 528.4L212.1 528.1L212.6 527.8L213.0 527.6L213.5 527.2L213.9 526.8L214.3 526.5L214.8 526.2L215.2 525.9L215.7 525.7L216.1 525.5L216.6 525.2L217.0 525.0L217.5 524.8L217.9 524.6L218.4 524.5L218.8 524.4L219.3 524.3L219.7 524.3L220.1 524.2L220.6 524.1L221.0 524.1L221.5 524.2L221.9 524.3L222.4 524.2L222.8 524.2L223.3 524.3L223.7 524.4L224.2 524.6L224.6 524.7L225.0 524.9L225.5 525.1L225.9 525.2L226.4 525.5L226.8 525.7L227.3 525.9L227.7 526.1L228.2 526.3L228.6 526.6L229.1 526.9L229.5 527.1L230.0 527.4L230.4 527.7L230.8 528.0L231.3 528.5L231.7 528.8L232.2 529.1L232.6 529.4L233.1 529.7L233.5 530.0L234.0 530.3L234.4 530.6L234.9 530.9L235.3 531.2L235.8 531.6L236.2 531.9L236.6 532.2L237.1 532.5L237.5 532.8L238.0 533.1L238.4 533.3L238.9 533.6L239.3 533.8L239.8 534.0L240.2 534.3L240.7 534.6L241.1 534.8L241.5 534.9L242.0 535.1L242.4 535.2L242.9 535.4L243.3 535.5L243.8 535.7L244.2 535.8L244.7 535.9L245.1 535.9L245.6 536.0L246.0 536.1L246.5 536.1L246.9 536.1L247.3 536.1L247.8 536.1L248.2 536.1L248.7 536.0L249.1 535.9L249.6 535.8L250.0 535.8L250.5 535.7L250.9 535.6L251.4 535.5L251.8 535.2L252.2 535.0L252.7 534.9L253.1 534.8L253.6 534.7L254.0 534.5L254.5 534.3L254.9 534.1L255.4 533.8L255.8 533.6L256.3 533.3L256.7 533.1L257.2 532.9L257.6 532.7L258.0 532.4L258.5 532.1L258.9 531.9L259.4 531.6L259.8 531.3L260.3 531.1L260.7 530.8L261.2 530.5L261.6 530.2L262.1 529.9L262.5 529.7L263.0 529.4L263.4 529.1L263.8 528.9L264.3 528.7L264.7 528.3L265.2 528.1L265.6 527.9L266.1 527.6L266.5 527.3L267.0 527.0L267.4 526.7L267.9 526.5L268.3 526.4L268.7 526.2L269.2 525.9L269.6 525.7L270.1 525.5L270.5 525.3L271.0 525.2L271.4 525.1L271.9 525.0L272.3 524.9L272.8 524.7L273.2 524.5L273.7 524.2L274.1 524.1L274.5 524.0L275.0 524.1L275.4 524.0L275.9 524.0L276.3 523.9L276.8 523.9L277.2 523.9L277.7 523.8L278.1 523.7L278.6 523.7L279.0 523.7L279.4 523.8L279.9 523.9L280.3 523.9L280.8 523.9L281.2 523.9L281.7 524.0L282.1 524.1L282.6 524.2L283.0 524.3L283.5 524.4L283.9 524.5L284.4 524.6L284.8 524.7L285.2 524.8L285.7 525.0L286.1 525.2L286.6 525.3L287.0 525.5L287.5 525.6L287.9 525.8L288.4 526.0L288.8 526.2L289.3 526.4L289.7 526.6L290.2 526.7L290.6 526.9L291.0 527.1L291.5 527.3L291.9 527.6L292.4 527.8L292.8 528.1L293.3 528.3L293.7 528.5L294.2 528.7L294.6 529.0L295.1 529.2L295.5 529.5L295.9 529.7L296.4 529.8L296.8 530.1L297.3 530.3L297.7 530.6L298.2 530.8L298.6 531.0L299.1 531.4L299.5 531.7L300.0 531.8L300.4 532.0L300.9 532.1L301.3 532.2L301.7 532.4L302.2 532.8L302.6 533.0L303.1 533.2L303.5 533.3L304.0 533.5L304.4 533.7L304.9 533.9L305.3 534.0L305.8 534.1L306.2 534.4L306.6 534.7L307.1 535.0L307.5 535.1L308.0 535.2L308.4 535.3L308.9 535.6L309.3 535.7L309.8 535.7L310.2 535.7L310.7 535.7L311.1 535.9L311.6 536.0L312.0 536.0L312.4 535.8L312.9 535.8L313.3 535.8L313.8 536.0L314.2 536.1L314.7 536.2L315.1 536.2L315.6 536.4L316.0 536.5L316.5 536.6L316.9 536.7L317.3 536.6L317.8 536.5L318.2 536.4L318.7 536.5L319.1 536.4L319.6 536.3L320.0 536.1L320.5 535.9L320.9 535.8L321.4 535.8L321.8 535.7L322.3 535.5L322.7 535.5L323.1 535.6L323.6 535.7L324.0 535.3L324.5 535.1L324.9 534.9L325.4 535.0L325.8 534.9L326.3 534.9L326.7 534.9L327.2 534.8L327.6 534.5L328.1 534.5L328.5 534.3L328.9 534.3L329.4 534.1L329.8 534.0L330.3 533.7L330.7 533.6L331.2 533.6L331.6 533.5L332.1 533.4L332.5 533.1L333.0 532.9L333.4 532.8L333.8 532.6L334.3 532.1L334.7 531.8L335.2 531.8L335.6 531.7L336.1 531.2L336.5 531.0L337.0 531.2L337.4 531.3L337.9 530.9L338.3 530.4L338.8 530.2L339.2 530.5L339.6 530.2L340.1 529.6L340.5 529.1L341.0 529.1L341.4 529.2L341.9 528.7L342.3 528.5L342.8 528.8L343.2 528.8L343.7 528.5L344.1 528.2L344.5 528.6L345.0 528.4L345.4 528.3L345.9 527.9L346.3 527.8L346.8 527.5L347.2 527.3L347.7 527.0L348.1 526.6L348.6 526.6L349.0 526.7L349.5 526.7L349.9 526.2L350.3 525.9L350.8 525.6L351.2 525.3L351.7 525.4L352.1 525.6L352.6 525.8L353.0 525.7L353.5 525.6L353.9 525.4L354.4 525.3L354.8 525.0L355.3 524.8L355.7 525.0L356.1 525.0L356.6 525.1L357.0 524.6L357.5 524.4L357.9 524.3L358.4 524.5L358.8 524.5L359.3 524.4L359.7 524.3L360.2 524.5L360.6 524.5L361.0 524.4L361.5 524.3L361.9 524.2L362.4 524.0L362.8 524.0L363.3 523.9L363.7 523.8L364.2 524.2L364.6 524.6L365.1 524.6L365.5 524.5L366.0 524.4L366.4 524.4L366.8 524.3L367.3 524.4L367.7 524.8L368.2 524.8L368.6 524.4L369.1 524.2L369.5 524.3L370.0 524.4L370.4 523.7L370.9 523.8L371.3 524.3L371.7 525.0L372.2 525.0L372.6 525.2L373.1 525.2L373.5 525.2L374.0 524.9L374.4 524.8L374.9 524.9L375.3 525.3L375.8 525.1L376.2 525.0L376.7 525.1L377.1 525.2L377.5 525.3L378.0 525.4L378.4 525.3L378.9 525.1L379.3 525.3" fill="none" stroke="#3c3c3c" stroke-width="1" stroke-linejoin="round"/>
<path d="M67.2 525.9L67.6 524.8L68.1 524.0L68.5 523.4L69.0 522.7L69.4 522.1L69.9 521.6L70.3 521.1L70.8 520.5L71.2 520.0L71.7 519.6L72.1 519.3L72.6 519.1L73.0 518.9L73.4 518.9L73.9 519.0L74.3 519.2L74.8 519.4L75.2 519.7L75.7 520.0L76.1 520.4L76.6 520.7L77.0 521.0L77.5 521.3L77.9 521.4L78.3 521.5L78.8 521.4L79.2 521.3L79.7 521.1L80.1 520.9L80.6 520.5L81.0 520.1L81.5 519.7L81.9 519.4L82.4 519.1L82.8 518.9L83.3 518.6L83.7 518.4L84.1 518.3L84.6 518.4L85.0 518.5L85.5 518.8L85.9 519.2L86.4 519.5L86.8 519.9L87.3 520.3L87.7 520.8L88.2 521.1L88.6 521.4L89.0 521.7L89.5 522.0L89.9 522.1L90.4 522.1L90.8 522.0L91.3 521.8L91.7 521.6L92.2 521.3L92.6 521.0L93.1 520.5L93.5 520.0L94.0 519.6L94.4 519.2L94.8 518.7L95.3 518.3L95.7 518.1L96.2 517.9L96.6 517.7L97.1 517.7L97.5 517.8L98.0 517.9L98.4 518.1L98.9 518.4L99.3 518.7L99.8 519.2L100.2 519.7L100.6 520.2L101.1 520.7L101.5 521.3L102.0 521.7L102.4 522.1L102.9 522.3L103.3 522.5L103.8 522.7L104.2 522.8L104.7 522.7L105.1 522.6L105.5 522.5L106.0 522.2L106.4 521.8L106.9 521.4L107.3 521.0L107.8 520.5L108.2 520.1L108.7 519.6L109.1 519.1L109.6 518.6L110.0 518.1L110.5 517.7L110.9 517.4L111.3 517.2L111.8 516.9L112.2 516.8L112.7 516.8L113.1 516.8L113.6 517.0L114.0 517.3L114.5 517.6L114.9 518.0L115.4 518.4L115.8 518.9L116.2 519.4L116.7 519.9L117.1 520.5L117.6 521.0L118.0 521.5L118.5 522.0L118.9 522.5L119.4 522.8L119.8 523.1L120.3 523.3L120.7 523.4L121.2 523.5L121.6 523.6L122.0 523.6L122.5 523.4L122.9 523.2L123.4 522.9L123.8 522.6L124.3 522.2L124.7 521.7L125.2 521.3L125.6 520.8L126.1 520.3L126.5 519.7L127.0 519.1L127.4 518.6L127.8 518.1L128.3 517.7L128.7 517.3L129.2 516.9L129.6 516.6L130.1 516.4L130.5 516.2L131.0 516.1L131.4 516.1L131.9 516.1L132.3 516.1L132.7 516.3L133.2 516.4L133.6 516.7L134.1 517.1L134.5 517.5L135.0 518.0L135.4 518.5L135.9 519.0L136.3 519.4L136.8 519.9L137.2 520.4L137.7 520.9L138.1 521.5L138.5 522.0L139.0 522.4L139.4 522.8L139.9 523.2L140.3 523.6L140.8 523.9L141.2 524.1L141.7 524.3L142.1 524.4L142.6 524.4L143.0 524.5L143.4 524.4L143.9 524.3L144.3 524.1L144.8 523.9L145.2 523.6L145.7 523.2L146.1 522.8L146.6 522.4L147.0 521.9L147.5 521.4L147.9 521.0L148.4 520.4L148.8 519.9L149.2 519.4L149.7 518.9L150.1 518.3L150.6 517.9L151.0 517.5L151.5 517.0L151.9 516.6L152.4 516.3L152.8 516.0L153.3 515.7L153.7 515.4L154.2 515.2L154.6 515.1L155.0 515.0L155.5 515.0L155.9 515.1L156.4 515.2L156.8 515.3L157.3 515.6L157.7 515.9L158.2 516.1L158.6 516.4L159.1 516.8L159.5 517.2L159.9 517.6L160.4 518.1L160.8 518.6L161.3 519.1L161.7 519.5L162.2 519.9L162.6 520.4L163.1 521.0L163.5 521.5L164.0 522.0L164.4 522.4L164.9 522.8L165.3 523.2L165.7 523.6L166.2 523.9L166.6 524.3L167.1 524.6L167.5 524.8L168.0 524.9L168.4 525.0L168.9 525.1L169.3 525.1L169.8 525.1L170.2 525.2L170.6 525.1L171.1 525.0L171.5 524.8L172.0 524.6L172.4 524.3L172.9 524.1L173.3 523.9L173.8 523.5L174.2 523.2L174.7 522.8L175.1 522.4L175.6 521.9L176.0 521.4L176.4 521.0L176.9 520.7L177.3 520.3L177.8 519.8L178.2 519.3L178.7 518.8L179.1 518.4L179.6 518.0L180.0 517.6L180.5 517.2L180.9 516.8L181.4 516.4L181.8 516.1L182.2 515.8L182.7 515.6L183.1 515.4L183.6 515.2L184.0 515.0L184.5 514.9L184.9 514.7L185.4 514.6L185.8 514.5L186.3 514.5L186.7 514.5L187.1 514.6L187.6 514.7L188.0 514.8L188.5 515.0L188.9 515.2L189.4 515.4L189.8 515.6L190.3 515.9L190.7 516.3L191.2 516.6L191.6 516.9L192.1 517.2L192.5 517.6L192.9 518.0L193.4 518.4L193.8 518.7L194.3 519.1L194.7 519.6L195.2 520.0L195.6 520.4L196.1 520.8L196.5 521.2L197.0 521.6L197.4 521.9L197.8 522.3L198.3 522.7L198.7 523.0L199.2 523.4L199.6 523.7L200.1 524.1L200.5 524.3L201.0 524.6L201.4 524.8L201.9 525.1L202.3 525.3L202.8 525.4L203.2 525.5L203.6 525.6L204.1 525.6L204.5 525.7L205.0 525.7L205.4 525.7L205.9 525.7L206.3 525.6L206.8 525.5L207.2 525.5L207.7 525.4L208.1 525.2L208.6 525.0L209.0 524.8L209.4 524.6L209.9 524.3L210.3 524.1L210.8 523.8L211.2 523.5L211.7 523.3L212.1 522.9L212.6 522.6L213.0 522.3L213.5 521.9L213.9 521.5L214.3 521.2L214.8 520.9L215.2 520.6L215.7 520.2L216.1 519.8L216.6 519.4L217.0 519.0L217.5 518.7L217.9 518.4L218.4 518.0L218.8 517.7L219.3 517.3L219.7 517.0L220.1 516.7L220.6 516.4L221.0 516.1L221.5 515.9L221.9 515.6L222.4 515.3L222.8 515.1L223.3 514.9L223.7 514.7L224.2 514.6L224.6 514.4L225.0 514.4L225.5 514.3L225.9 514.2L226.4 514.1L226.8 514.0L227.3 514.0L227.7 514.0L228.2 514.1L228.6 514.1L229.1 514.2L229.5 514.3L230.0 514.4L230.4 514.5L230.8 514.6L231.3 514.8L231.7 514.9L232.2 515.1L232.6 515.3L233.1 515.5L233.5 515.8L234.0 516.0L234.4 516.2L234.9 516.4L235.3 516.7L235.8 517.0L236.2 517.3L236.6 517.5L237.1 517.8L237.5 518.1L238.0 518.3L238.4 518.6L238.9 519.0L239.3 519.4L239.8 519.7L240.2 520.1L240.7 520.4L241.1 520.7L241.5 520.9L242.0 521.2L242.4 521.6L242.9 521.9L243.3 522.2L243.8 522.5L244.2 522.8L244.7 523.0L245.1 523.3L245.6 523.6L246.0 523.8L246.5 524.0L246.9 524.3L247.3 524.6L247.8 524.7L248.2 524.9L248.7 525.1L249.1 525.2L249.6 525.3L250.0 525.5L250.5 525.7L250.9 525.8L251.4 525.9L251.8 526.0L252.2 526.0L252.7 526.1L253.1 526.1L253.6 526.1L254.0 526.1L254.5 526.1L254.9 526.1L255.4 526.0L255.8 526.0L256.3 525.9L256.7 525.9L257.2 525.8L257.6 525.7L258.0 525.6L258.5 525.6L258.9 525.4L259.4 525.2L259.8 525.1L260.3 524.9L260.7 524.7L261.2 524.4L261.6 524.3L262.1 524.1L262.5 523.9L263.0 523.6L263.4 523.4L263.8 523.1L264.3 522.9L264.7 522.6L265.2 522.4L265.6 522.1L266.1 521.9L266.5 521.7L267.0 521.4L267.4 521.1L267.9 520.8L268.3 520.6L268.7 520.3L269.2 520.0L269.6 519.8L270.1 519.5L270.5 519.2L271.0 519.0L271.4 518.7L271.9 518.4L272.3 518.1L272.8 517.9L273.2 517.6L273.7 517.4L274.1 517.2L274.5 517.0L275.0 516.8L275.4 516.5L275.9 516.3L276.3 516.1L276.8 515.9L277.2 515.7L277.7 515.5L278.1 515.3L278.6 515.2L279.0 515.0L279.4 514.9L279.9 514.6L280.3 514.5L280.8 514.4L281.2 514.3L281.7 514.1L282.1 514.1L282.6 514.0L283.0 514.0L283.5 513.9L283.9 513.9L284.4 513.8L284.8 513.9L285.2 513.8L285.7 513.8L286.1 513.7L286.6 513.6L287.0 513.6L287.5 513.7L287.9 513.8L288.4 513.9L288.8 513.9L289.3 514.0L289.7 514.1L290.2 514.0L290.6 514.1L291.0 514.2L291.5 514.4L291.9 514.5L292.4 514.6L292.8 514.7L293.3 514.9L293.7 515.1L294.2 515.2L294.6 515.4L295.1 515.6L295.5 515.6L295.9 515.7L296.4 515.9L296.8 516.2L297.3 516.5L297.7 516.6L298.2 516.7L298.6 516.9L299.1 517.2L299.5 517.3L300.0 517.6L300.4 517.9L300.9 518.1L301.3 518.1L301.7 518.3L302.2 518.6L302.6 519.0L303.1 519.2L303.5 519.4L304.0 519.6L304.4 519.7L304.9 520.0L305.3 520.3L305.8 520.8L306.2 520.9L306.6 521.0L307.1 521.2L307.5 521.4L308.0 521.5L308.4 521.6L308.9 521.9L309.3 522.2L309.8 522.5L310.2 522.7L310.7 523.0L311.1 523.2L311.6 523.3L312.0 523.4L312.4 523.6L312.9 523.9L313.3 524.1L313.8 524.2L314.2 524.3L314.7 524.3L315.1 524.3L315.6 524.5L316.0 524.9L316.5 525.2L316.9 525.3L317.3 525.4L317.8 525.6L318.2 525.8L318.7 525.7L319.1 525.6L319.6 525.7L320.0 525.7L320.5 525.8L320.9 526.0L321.4 526.1L321.8 526.3L322.3 526.3L322.7 526.3L323.1 526.1L323.6 526.1L324.0 526.1L324.5 526.2L324.9 526.5L325.4 526.6L325.8 526.6L326.3 526.4L326.7 526.1L327.2 525.9L327.6 525.9L328.1 526.1L328.5 526.1L328.9 526.3L329.4 526.3L329.8 526.3L330.3 526.1L330.7 526.0L331.2 525.9L331.6 525.9L332.1 525.7L332.5 525.5L333.0 525.7L333.4 525.8L333.8 525.5L334.3 524.9L334.7 524.6L335.2 524.6L335.6 524.7L336.1 524.8L336.5 524.8L337.0 525.0L337.4 524.8L337.9 524.4L338.3 524.1L338.8 524.1L339.2 523.8L339.6 523.6L340.1 523.6L340.5 523.5L341.0 523.4L341.4 523.2L341.9 523.1L342.3 522.9L342.8 522.6L343.2 522.6L343.7 522.5L344.1 522.2L344.5 521.6L345.0 521.2L345.4 520.9L345.9 520.9L346.3 520.9L346.8 520.5L347.2 520.2L347.7 520.2L348.1 520.5L348.6 520.1L349.0 520.0L349.5 519.8L349.9 519.5L350.3 518.9L350.8 518.8L351.2 519.1L351.7 519.3L352.1 519.2L352.6 518.6L353.0 518.1L353.5 517.8L353.9 517.8L354.4 517.5L354.8 517.4L355.3 517.5L355.7 517.6L356.1 517.5L356.6 517.1L357.0 516.7L357.5 516.4L357.9 516.6L358.4 517.0L358.8 516.9L359.3 516.7L359.7 516.4L360.2 516.5L360.6 516.4L361.0 516.2L361.5 515.9L361.9 515.7L362.4 515.4L362.8 514.9L363.3 515.0L363.7 515.1L364.2 515.2L364.6 515.0L365.1 515.2L365.5 515.1L366.0 514.9L366.4 514.8L366.8 515.1L367.3 515.2L367.7 514.6L368.2 514.1L368.6 514.2L369.1 514.5L369.5 514.8L370.0 514.5L370.4 514.4L370.9 514.1L371.3 514.4L371.7 514.4L372.2 514.6L372.6 514.3L373.1 513.9L373.5 513.5L374.0 513.5L374.4 513.6L374.9 514.0L375.3 514.4L375.8 514.7L376.2 514.2L376.7 513.9L377.1 513.8L377.5 514.2L378.0 514.5L378.4 514.6L378.9 514.3L379.3 514.3" fill="none" stroke="#ff4040" stroke-width="1" stroke-linejoin="round"/>
<path d="M67.2 514.3L67.6 513.3L68.1 512.8L68.5 512.5L69.0 512.3L69.4 512.2L69.9 512.1L70.3 512.0L70.8 511.8L71.2 511.6L71.7 511.3L72.1 511.0L72.6 510.6L73.0 510.3L73.4 509.8L73.9 509.4L74.3 509.1L74.8 508.9L75.2 508.8L75.7 508.8L76.1 508.9L76.6 509.0L77.0 509.3L77.5 509.6L77.9 510.0L78.3 510.3L78.8 510.7L79.2 511.0L79.7 511.3L80.1 511.5L80.6 511.6L81.0 511.5L81.5 511.4L81.9 511.3L82.4 511.1L82.8 510.7L83.3 510.4L83.7 510.0L84.1 509.6L84.6 509.2L85.0 508.9L85.5 508.6L85.9 508.4L86.4 508.3L86.8 508.3L87.3 508.4L87.7 508.6L88.2 508.8L88.6 509.1L89.0 509.5L89.5 510.0L89.9 510.4L90.4 510.9L90.8 511.3L91.3 511.7L91.7 511.9L92.2 512.1L92.6 512.2L93.1 512.2L93.5 512.1L94.0 512.0L94.4 511.8L94.8 511.4L95.3 511.0L95.7 510.6L96.2 510.0L96.6 509.5L97.1 509.1L97.5 508.6L98.0 508.3L98.4 507.9L98.9 507.7L99.3 507.7L99.8 507.6L100.2 507.6L100.6 507.7L101.1 508.0L101.5 508.3L102.0 508.7L102.4 509.1L102.9 509.6L103.3 510.1L103.8 510.6L104.2 511.1L104.7 511.6L105.1 512.0L105.5 512.4L106.0 512.7L106.4 512.9L106.9 513.0L107.3 513.0L107.8 513.0L108.2 512.8L108.7 512.6L109.1 512.3L109.6 511.8L110.0 511.4L110.5 510.8L110.9 510.4L111.3 509.8L111.8 509.3L112.2 508.7L112.7 508.3L113.1 507.9L113.6 507.5L114.0 507.1L114.5 506.9L114.9 506.7L115.4 506.7L115.8 506.8L116.2 506.9L116.7 507.1L117.1 507.3L117.6 507.6L118.0 508.0L118.5 508.5L118.9 509.1L119.4 509.6L119.8 510.0L120.3 510.5L120.7 511.1L121.2 511.6L121.6 512.1L122.0 512.5L122.5 512.9L122.9 513.3L123.4 513.5L123.8 513.6L124.3 513.7L124.7 513.8L125.2 513.7L125.6 513.6L126.1 513.4L126.5 513.2L127.0 512.8L127.4 512.3L127.8 512.0L128.3 511.5L128.7 510.9L129.2 510.4L129.6 509.9L130.1 509.4L130.5 508.9L131.0 508.3L131.4 507.8L131.9 507.4L132.3 507.1L132.7 506.7L133.2 506.3L133.6 506.1L134.1 506.1L134.5 505.9L135.0 505.9L135.4 506.0L135.9 506.1L136.3 506.3L136.8 506.5L137.2 506.8L137.7 507.2L138.1 507.6L138.5 508.1L139.0 508.5L139.4 509.1L139.9 509.7L140.3 510.2L140.8 510.7L141.2 511.2L141.7 511.8L142.1 512.3L142.6 512.7L143.0 513.2L143.4 513.5L143.9 513.8L144.3 514.1L144.8 514.3L145.2 514.5L145.7 514.6L146.1 514.5L146.6 514.5L147.0 514.5L147.5 514.5L147.9 514.2L148.4 514.0L148.8 513.7L149.2 513.4L149.7 513.0L150.1 512.5L150.6 512.0L151.0 511.5L151.5 511.0L151.9 510.4L152.4 510.0L152.8 509.5L153.3 509.0L153.7 508.5L154.2 508.0L154.6 507.5L155.0 507.0L155.5 506.7L155.9 506.3L156.4 505.9L156.8 505.6L157.3 505.4L157.7 505.2L158.2 505.1L158.6 505.1L159.1 505.1L159.5 505.0L159.9 505.0L160.4 505.1L160.8 505.3L161.3 505.6L161.7 505.8L162.2 506.2L162.6 506.6L163.1 506.9L163.5 507.3L164.0 507.8L164.4 508.2L164.9 508.7L165.3 509.2L165.7 509.7L166.2 510.2L166.6 510.7L167.1 511.1L167.5 511.6L168.0 512.1L168.4 512.5L168.9 512.9L169.3 513.4L169.8 513.8L170.2 514.1L170.6 514.3L171.1 514.5L171.5 514.8L172.0 515.0L172.4 515.2L172.9 515.3L173.3 515.2L173.8 515.2L174.2 515.2L174.7 515.2L175.1 515.1L175.6 514.9L176.0 514.8L176.4 514.5L176.9 514.2L177.3 513.9L177.8 513.6L178.2 513.3L178.7 512.9L179.1 512.5L179.6 512.1L180.0 511.7L180.5 511.3L180.9 510.8L181.4 510.3L181.8 509.9L182.2 509.4L182.7 509.0L183.1 508.5L183.6 508.1L184.0 507.8L184.5 507.4L184.9 507.0L185.4 506.6L185.8 506.2L186.3 505.9L186.7 505.6L187.1 505.5L187.6 505.2L188.0 505.0L188.5 504.9L188.9 504.7L189.4 504.6L189.8 504.5L190.3 504.5L190.7 504.5L191.2 504.6L191.6 504.6L192.1 504.7L192.5 504.8L192.9 505.0L193.4 505.1L193.8 505.3L194.3 505.6L194.7 506.0L195.2 506.2L195.6 506.5L196.1 506.8L196.5 507.2L197.0 507.6L197.4 508.0L197.8 508.3L198.3 508.8L198.7 509.2L199.2 509.6L199.6 509.9L200.1 510.3L200.5 510.8L201.0 511.2L201.4 511.6L201.9 511.9L202.3 512.3L202.8 512.7L203.2 513.0L203.6 513.3L204.1 513.6L204.5 513.9L205.0 514.2L205.4 514.5L205.9 514.7L206.3 514.9L206.8 515.1L207.2 515.3L207.7 515.4L208.1 515.6L208.6 515.6L209.0 515.7L209.4 515.7L209.9 515.7L210.3 515.7L210.8 515.7L211.2 515.7L211.7 515.5L212.1 515.5L212.6 515.4L213.0 515.3L213.5 515.0L213.9 514.7L214.3 514.5L214.8 514.3L215.2 514.1L215.7 513.8L216.1 513.5L216.6 513.2L217.0 512.9L217.5 512.6L217.9 512.2L218.4 511.9L218.8 511.5L219.3 511.2L219.7 510.9L220.1 510.5L220.6 510.2L221.0 509.8L221.5 509.3L221.9 509.0L222.4 508.6L222.8 508.3L223.3 508.0L223.7 507.6L224.2 507.3L224.6 507.0L225.0 506.8L225.5 506.5L225.9 506.1L226.4 505.9L226.8 505.6L227.3 505.5L227.7 505.2L228.2 505.0L228.6 504.8L229.1 504.7L229.5 504.5L230.0 504.4L230.4 504.3L230.8 504.2L231.3 504.1L231.7 504.0L232.2 504.0L232.6 504.0L233.1 504.1L233.5 504.2L234.0 504.2L234.4 504.2L234.9 504.2L235.3 504.3L235.8 504.4L236.2 504.5L236.6 504.6L237.1 504.8L237.5 505.0L238.0 505.3L238.4 505.6L238.9 505.8L239.3 506.0L239.8 506.2L240.2 506.4L240.7 506.6L241.1 506.9L241.5 507.3L242.0 507.6L242.4 507.8L242.9 508.2L243.3 508.5L243.8 508.8L244.2 509.1L244.7 509.4L245.1 509.7L245.6 510.0L246.0 510.4L246.5 510.6L246.9 510.9L247.3 511.3L247.8 511.6L248.2 511.9L248.7 512.2L249.1 512.5L249.6 512.8L250.0 513.1L250.5 513.3L250.9 513.5L251.4 513.8L251.8 514.1L252.2 514.3L252.7 514.6L253.1 514.8L253.6 514.9L254.0 515.1L254.5 515.2L254.9 515.4L255.4 515.5L255.8 515.6L256.3 515.7L256.7 515.8L257.2 515.9L257.6 516.0L258.0 516.0L258.5 516.1L258.9 516.1L259.4 516.1L259.8 516.1L260.3 516.1L260.7 516.1L261.2 516.0L261.6 515.9L262.1 515.9L262.5 515.8L263.0 515.8L263.4 515.7L263.8 515.5L264.3 515.4L264.7 515.2L265.2 515.1L265.6 515.0L266.1 514.8L266.5 514.7L267.0 514.5L267.4 514.3L267.9 514.0L268.3 513.8L268.7 513.6L269.2 513.4L269.6 513.2L270.1 513.0L270.5 512.7L271.0 512.3L271.4 512.1L271.9 511.8L272.3 511.7L272.8 511.4L273.2 511.1L273.7 510.9L274.1 510.7L274.5 510.4L275.0 510.1L275.4 509.8L275.9 509.5L276.3 509.2L276.8 509.0L277.2 508.7L277.7 508.5L278.1 508.3L278.6 508.0L279.0 507.8L279.4 507.5L279.9 507.2L280.3 506.9L280.8 506.7L281.2 506.6L281.7 506.4L282.1 506.1L282.6 505.9L283.0 505.7L283.5 505.5L283.9 505.4L284.4 505.2L284.8 505.0L285.2 504.9L285.7 504.7L286.1 504.5L286.6 504.4L287.0 504.3L287.5 504.2L287.9 504.2L288.4 504.1L288.8 504.0L289.3 503.9L289.7 503.8L290.2 503.8L290.6 503.8L291.0 503.8L291.5 503.7L291.9 503.6L292.4 503.6L292.8 503.7L293.3 503.7L293.7 503.7L294.2 503.7L294.6 503.8L295.1 503.8L295.5 503.8L295.9 503.9L296.4 504.0L296.8 504.1L297.3 504.3L297.7 504.4L298.2 504.3L298.6 504.4L299.1 504.6L299.5 504.8L300.0 504.9L300.4 504.9L300.9 505.0L301.3 505.2L301.7 505.5L302.2 505.8L302.6 505.9L303.1 506.1L303.5 506.2L304.0 506.4L304.4 506.6L304.9 506.9L305.3 507.2L305.8 507.4L306.2 507.5L306.6 507.6L307.1 507.7L307.5 507.9L308.0 508.2L308.4 508.7L308.9 509.1L309.3 509.2L309.8 509.3L310.2 509.4L310.7 509.5L311.1 509.8L311.6 510.0L312.0 510.3L312.4 510.4L312.9 510.5L313.3 510.6L313.8 510.7L314.2 511.0L314.7 511.4L315.1 511.8L315.6 512.1L316.0 512.3L316.5 512.6L316.9 512.8L317.3 512.9L317.8 513.1L318.2 513.3L318.7 513.4L319.1 513.4L319.6 513.4L320.0 513.6L320.5 514.0L320.9 514.2L321.4 514.3L321.8 514.5L322.3 514.8L322.7 515.1L323.1 515.2L323.6 515.2L324.0 515.1L324.5 515.1L324.9 515.3L325.4 515.3L325.8 515.6L326.3 515.7L326.7 515.7L327.2 515.6L327.6 516.0L328.1 516.2L328.5 516.3L328.9 516.1L329.4 516.0L329.8 515.8L330.3 515.9L330.7 516.2L331.2 516.3L331.6 516.4L332.1 516.2L332.5 516.2L333.0 516.1L333.4 516.3L333.8 516.4L334.3 516.0L334.7 515.9L335.2 515.7L335.6 516.2L336.1 516.2L336.5 516.2L337.0 515.7L337.4 515.5L337.9 515.3L338.3 515.5L338.8 515.5L339.2 515.6L339.6 515.4L340.1 515.2L340.5 515.2L341.0 515.1L341.4 514.7L341.9 514.4L342.3 514.4L342.8 514.4L343.2 514.4L343.7 514.4L344.1 514.4L344.5 514.1L345.0 514.2L345.4 514.3L345.9 514.2L346.3 513.7L346.8 513.2L347.2 513.1L347.7 513.2L348.1 513.0L348.6 512.9L349.0 512.4L349.5 512.2L349.9 511.7L350.3 512.0L350.8 512.2L351.2 512.3L351.7 511.7L352.1 511.6L352.6 511.2L353.0 510.9L353.5 511.1L353.9 511.3L354.4 511.0L354.8 510.6L355.3 510.4L355.7 510.2L356.1 510.1L356.6 510.1L357.0 510.0L357.5 509.6L357.9 509.4L358.4 509.2L358.8 509.4L359.3 509.4L359.7 509.1L360.2 508.2L360.6 508.0L361.0 508.2L361.5 508.3L361.9 507.6L362.4 507.0L362.8 507.2L363.3 507.4L363.7 507.2L364.2 507.0L364.6 507.3L365.1 507.3L365.5 507.0L366.0 506.6L366.4 506.7L366.8 506.9L367.3 506.8L367.7 506.1L368.2 505.6L368.6 505.7L369.1 505.7L369.5 505.8L370.0 505.8L370.4 505.8L370.9 505.7L371.3 505.6L371.7 505.3L372.2 505.0L372.6 505.3L373.1 505.3L373.5 505.0L374.0 504.7L374.4 504.9L374.9 504.7L375.3 504.2L375.8 504.3L376.2 504.6L376.7 505.0L377.1 504.9L377.5 504.8L378.0 504.4L378.4 504.3L378.9 504.0L379.3 504.1" fill="none" stroke="#4a4af5" stroke-width="1" stroke-linejoin="round"/>
<path d="M67.2 504.2L67.6 502.9L68.1 501.9L68.5 501.4L69.0 501.0L69.4 500.9L69.9 500.9L70.3 501.0L70.8 501.2L71.2 501.4L71.7 501.6L72.1 501.6L72.6 501.6L73.0 501.5L73.4 501.2L73.9 500.9L74.3 500.5L74.8 500.2L75.2 499.8L75.7 499.5L76.1 499.1L76.6 498.8L77.0 498.7L77.5 498.7L77.9 498.8L78.3 499.0L78.8 499.3L79.2 499.6L79.7 499.9L80.1 500.2L80.6 500.6L81.0 500.9L81.5 501.3L81.9 501.5L82.4 501.7L82.8 501.8L83.3 501.7L83.7 501.6L84.1 501.4L84.6 501.0L85.0 500.7L85.5 500.2L85.9 499.8L86.4 499.4L86.8 499.0L87.3 498.7L87.7 498.5L88.2 498.3L88.6 498.2L89.0 498.2L89.5 498.3L89.9 498.6L90.4 498.9L90.8 499.4L91.3 499.8L91.7 500.2L92.2 500.7L92.6 501.1L93.1 501.5L93.5 501.9L94.0 502.1L94.4 502.3L94.8 502.4L95.3 502.4L95.7 502.3L96.2 502.0L96.6 501.8L97.1 501.5L97.5 501.1L98.0 500.5L98.4 500.0L98.9 499.5L99.3 499.0L99.8 498.6L100.2 498.2L100.6 497.9L101.1 497.7L101.5 497.5L102.0 497.4L102.4 497.5L102.9 497.6L103.3 497.8L103.8 498.2L104.2 498.6L104.7 499.1L105.1 499.6L105.5 500.2L106.0 500.7L106.4 501.2L106.9 501.6L107.3 502.0L107.8 502.4L108.2 502.8L108.7 503.1L109.1 503.3L109.6 503.3L110.0 503.2L110.5 503.0L110.9 502.7L111.3 502.4L111.8 502.0L112.2 501.6L112.7 501.1L113.1 500.7L113.6 500.2L114.0 499.6L114.5 499.0L114.9 498.5L115.4 498.0L115.8 497.6L116.2 497.3L116.7 497.0L117.1 496.8L117.6 496.7L118.0 496.7L118.5 496.8L118.9 496.9L119.4 497.1L119.8 497.4L120.3 497.7L120.7 498.2L121.2 498.7L121.6 499.2L122.0 499.8L122.5 500.3L122.9 500.8L123.4 501.4L123.8 501.9L124.3 502.4L124.7 502.8L125.2 503.2L125.6 503.5L126.1 503.7L126.5 503.8L127.0 503.9L127.4 503.9L127.8 503.8L128.3 503.7L128.7 503.5L129.2 503.2L129.6 502.8L130.1 502.4L130.5 501.9L131.0 501.5L131.4 501.0L131.9 500.5L132.3 499.9L132.7 499.3L133.2 498.8L133.6 498.3L134.1 497.8L134.5 497.3L135.0 496.9L135.4 496.6L135.9 496.4L136.3 496.1L136.8 495.9L137.2 495.8L137.7 495.7L138.1 495.8L138.5 496.0L139.0 496.2L139.4 496.4L139.9 496.8L140.3 497.1L140.8 497.5L141.2 497.9L141.7 498.4L142.1 498.9L142.6 499.5L143.0 500.0L143.4 500.6L143.9 501.1L144.3 501.6L144.8 502.1L145.2 502.7L145.7 503.1L146.1 503.5L146.6 503.8L147.0 504.2L147.5 504.4L147.9 504.6L148.4 504.7L148.8 504.7L149.2 504.8L149.7 504.8L150.1 504.7L150.6 504.5L151.0 504.3L151.5 504.0L151.9 503.6L152.4 503.3L152.8 502.9L153.3 502.5L153.7 502.0L154.2 501.4L154.6 500.9L155.0 500.4L155.5 499.8L155.9 499.3L156.4 498.8L156.8 498.3L157.3 497.8L157.7 497.4L158.2 497.0L158.6 496.6L159.1 496.2L159.5 495.8L159.9 495.5L160.4 495.4L160.8 495.2L161.3 495.0L161.7 494.9L162.2 494.8L162.6 494.9L163.1 495.0L163.5 495.2L164.0 495.4L164.4 495.6L164.9 495.9L165.3 496.2L165.7 496.6L166.2 496.9L166.6 497.3L167.1 497.7L167.5 498.2L168.0 498.7L168.4 499.2L168.9 499.6L169.3 500.1L169.8 500.6L170.2 501.1L170.6 501.6L171.1 501.9L171.5 502.4L172.0 502.8L172.4 503.2L172.9 503.6L173.3 504.0L173.8 504.3L174.2 504.6L174.7 504.8L175.1 505.0L175.6 505.2L176.0 505.2L176.4 505.3L176.9 505.3L177.3 505.2L177.8 505.2L178.2 505.2L178.7 505.0L179.1 504.8L179.6 504.6L180.0 504.4L180.5 504.2L180.9 503.9L181.4 503.5L181.8 503.1L182.2 502.7L182.7 502.4L183.1 502.0L183.6 501.6L184.0 501.2L184.5 500.7L184.9 500.2L185.4 499.8L185.8 499.3L186.3 498.8L186.7 498.4L187.1 498.0L187.6 497.6L188.0 497.2L188.5 496.9L188.9 496.6L189.4 496.2L189.8 495.8L190.3 495.5L190.7 495.3L191.2 495.1L191.6 494.9L192.1 494.7L192.5 494.5L192.9 494.5L193.4 494.4L193.8 494.4L194.3 494.4L194.7 494.4L195.2 494.5L195.6 494.6L196.1 494.7L196.5 494.9L197.0 495.1L197.4 495.3L197.8 495.6L198.3 495.8L198.7 496.1L199.2 496.4L199.6 496.8L200.1 497.1L200.5 497.5L201.0 497.9L201.4 498.3L201.9 498.7L202.3 499.1L202.8 499.5L203.2 499.9L203.6 500.3L204.1 500.7L204.5 501.1L205.0 501.5L205.4 501.9L205.9 502.3L206.3 502.6L206.8 502.9L207.2 503.2L207.7 503.6L208.1 503.9L208.6 504.2L209.0 504.4L209.4 504.7L209.9 504.9L210.3 505.1L210.8 505.4L211.2 505.5L211.7 505.6L212.1 505.7L212.6 505.7L213.0 505.8L213.5 505.8L213.9 505.8L214.3 505.8L214.8 505.7L215.2 505.7L215.7 505.6L216.1 505.5L216.6 505.3L217.0 505.1L217.5 504.8L217.9 504.7L218.4 504.5L218.8 504.3L219.3 504.0L219.7 503.7L220.1 503.4L220.6 503.1L221.0 502.7L221.5 502.4L221.9 502.2L222.4 501.8L222.8 501.5L223.3 501.2L223.7 500.9L224.2 500.5L224.6 500.0L225.0 499.7L225.5 499.4L225.9 499.0L226.4 498.7L226.8 498.4L227.3 498.0L227.7 497.7L228.2 497.3L228.6 497.0L229.1 496.7L229.5 496.4L230.0 496.1L230.4 495.9L230.8 495.7L231.3 495.4L231.7 495.2L232.2 494.9L232.6 494.7L233.1 494.6L233.5 494.4L234.0 494.3L234.4 494.2L234.9 494.1L235.3 494.1L235.8 494.1L236.2 494.1L236.6 494.0L237.1 494.0L237.5 494.0L238.0 494.0L238.4 494.1L238.9 494.2L239.3 494.3L239.8 494.4L240.2 494.5L240.7 494.7L241.1 494.8L241.5 494.9L242.0 495.1L242.4 495.3L242.9 495.5L243.3 495.8L243.8 496.1L244.2 496.3L244.7 496.5L245.1 496.7L245.6 497.0L246.0 497.3L246.5 497.7L246.9 497.9L247.3 498.2L247.8 498.5L248.2 498.9L248.7 499.2L249.1 499.5L249.6 499.8L250.0 500.1L250.5 500.4L250.9 500.7L251.4 501.0L251.8 501.3L252.2 501.6L252.7 501.9L253.1 502.1L253.6 502.4L254.0 502.7L254.5 503.0L254.9 503.2L255.4 503.5L255.8 503.8L256.3 504.1L256.7 504.3L257.2 504.5L257.6 504.6L258.0 504.8L258.5 505.0L258.9 505.2L259.4 505.3L259.8 505.5L260.3 505.7L260.7 505.8L261.2 505.8L261.6 505.9L262.1 506.0L262.5 506.1L263.0 506.2L263.4 506.2L263.8 506.2L264.3 506.1L264.7 506.1L265.2 506.1L265.6 506.1L266.1 506.1L266.5 506.0L267.0 505.9L267.4 505.8L267.9 505.7L268.3 505.6L268.7 505.5L269.2 505.4L269.6 505.2L270.1 505.0L270.5 504.8L271.0 504.7L271.4 504.5L271.9 504.4L272.3 504.1L272.8 503.9L273.2 503.7L273.7 503.5L274.1 503.3L274.5 503.2L275.0 502.9L275.4 502.6L275.9 502.3L276.3 502.0L276.8 501.8L277.2 501.6L277.7 501.3L278.1 501.1L278.6 500.8L279.0 500.5L279.4 500.2L279.9 499.9L280.3 499.7L280.8 499.4L281.2 499.2L281.7 498.9L282.1 498.7L282.6 498.5L283.0 498.2L283.5 497.9L283.9 497.7L284.4 497.4L284.8 497.2L285.2 496.9L285.7 496.7L286.1 496.5L286.6 496.3L287.0 496.1L287.5 495.9L287.9 495.7L288.4 495.5L288.8 495.3L289.3 495.3L289.7 495.1L290.2 494.9L290.6 494.7L291.0 494.5L291.5 494.4L291.9 494.3L292.4 494.2L292.8 494.1L293.3 494.0L293.7 493.9L294.2 493.8L294.6 493.8L295.1 493.9L295.5 493.8L295.9 493.8L296.4 493.7L296.8 493.6L297.3 493.4L297.7 493.5L298.2 493.5L298.6 493.7L299.1 493.8L299.5 493.8L300.0 493.7L300.4 493.7L300.9 493.8L301.3 493.9L301.7 493.8L302.2 494.0L302.6 494.2L303.1 494.4L303.5 494.4L304.0 494.5L304.4 494.7L304.9 494.8L305.3 495.1L305.8 495.2L306.2 495.2L306.6 495.2L307.1 495.3L307.5 495.4L308.0 495.7L308.4 496.1L308.9 496.2L309.3 496.3L309.8 496.4L310.2 496.6L310.7 496.8L311.1 497.2L311.6 497.4L312.0 497.6L312.4 498.0L312.9 498.2L313.3 498.4L313.8 498.4L314.2 498.4L314.7 498.6L315.1 499.0L315.6 499.4L316.0 499.5L316.5 499.7L316.9 499.9L317.3 500.4L317.8 500.7L318.2 500.6L318.7 500.7L319.1 501.1L319.6 501.5L320.0 501.6L320.5 502.0L320.9 502.2L321.4 502.3L321.8 502.1L322.3 502.2L322.7 502.3L323.1 502.7L323.6 503.0L324.0 503.1L324.5 503.5L324.9 503.6L325.4 503.7L325.8 503.7L326.3 503.8L326.7 504.0L327.2 504.3L327.6 504.5L328.1 504.8L328.5 505.0L328.9 505.1L329.4 504.9L329.8 504.7L330.3 504.7L330.7 504.9L331.2 505.1L331.6 505.4L332.1 505.3L332.5 505.1L333.0 504.9L333.4 505.4L333.8 505.7L334.3 505.8L334.7 505.6L335.2 505.8L335.6 505.9L336.1 506.1L336.5 505.7L337.0 505.8L337.4 506.0L337.9 506.3L338.3 506.4L338.8 506.3L339.2 506.1L339.6 506.0L340.1 506.1L340.5 506.1L341.0 505.9L341.4 505.8L341.9 505.8L342.3 506.0L342.8 506.0L343.2 506.1L343.7 505.7L344.1 505.5L344.5 505.4L345.0 505.6L345.4 505.2L345.9 505.0L346.3 505.2L346.8 505.1L347.2 504.9L347.7 504.6L348.1 504.4L348.6 504.1L349.0 504.1L349.5 504.0L349.9 503.8L350.3 503.7L350.8 503.7L351.2 503.7L351.7 503.8L352.1 503.6L352.6 503.2L353.0 502.7L353.5 502.6L353.9 502.9L354.4 503.3L354.8 503.0L355.3 502.7L355.7 502.3L356.1 502.3L356.6 502.0L357.0 502.1L357.5 501.9L357.9 501.8L358.4 501.5L358.8 501.1L359.3 500.9L359.7 500.9L360.2 501.7L360.6 501.8L361.0 501.3L361.5 500.2L361.9 500.1L362.4 499.7L362.8 499.5L363.3 499.2L363.7 499.2L364.2 499.3L364.6 499.5L365.1 499.4L365.5 498.8L366.0 498.2L366.4 497.9L366.8 497.9L367.3 498.2L367.7 498.3L368.2 498.1L368.6 497.8L369.1 497.6L369.5 497.2L370.0 497.1L370.4 497.2L370.9 497.6L371.3 497.4L371.7 496.9L372.2 496.8L372.6 497.1L373.1 496.8L373.5 496.2L374.0 495.9L374.4 496.3L374.9 496.1L375.3 496.0L375.8 495.7L376.2 496.1L376.7 496.1L377.1 495.9L377.5 495.3L378.0 495.3L378.4 495.5L378.9 495.2L379.3 494.9" fill="none" stroke="#f24af2" stroke-width="1" stroke-linejoin="round"/>
<path d="M67.2 495.0L67.6 493.4L68.1 492.2L68.5 491.2L69.0 490.6L69.4 490.2L69.9 490.0L70.3 490.1L70.8 490.2L71.2 490.4L71.7 490.6L72.1 490.9L72.6 491.1L73.0 491.3L73.4 491.5L73.9 491.6L74.3 491.5L74.8 491.3L75.2 491.0L75.7 490.7L76.1 490.4L76.6 490.0L77.0 489.5L77.5 489.2L77.9 489.0L78.3 488.8L78.8 488.7L79.2 488.7L79.7 488.8L80.1 489.1L80.6 489.4L81.0 489.7L81.5 490.0L81.9 490.4L82.4 490.8L82.8 491.2L83.3 491.5L83.7 491.7L84.1 491.8L84.6 491.9L85.0 491.8L85.5 491.6L85.9 491.3L86.4 491.0L86.8 490.6L87.3 490.2L87.7 489.7L88.2 489.2L88.6 488.8L89.0 488.5L89.5 488.3L89.9 488.1L90.4 488.1L90.8 488.2L91.3 488.4L91.7 488.7L92.2 489.0L92.6 489.4L93.1 489.9L93.5 490.3L94.0 490.8L94.4 491.3L94.8 491.7L95.3 492.1L95.7 492.3L96.2 492.4L96.6 492.5L97.1 492.5L97.5 492.4L98.0 492.2L98.4 491.9L98.9 491.5L99.3 491.0L99.8 490.5L100.2 490.0L100.6 489.5L101.1 489.0L101.5 488.5L102.0 488.2L102.4 487.8L102.9 487.6L103.3 487.5L103.8 487.5L104.2 487.5L104.7 487.7L105.1 487.9L105.5 488.2L106.0 488.5L106.4 489.0L106.9 489.6L107.3 490.1L107.8 490.6L108.2 491.1L108.7 491.6L109.1 492.1L109.6 492.5L110.0 492.9L110.5 493.2L110.9 493.3L111.3 493.4L111.8 493.4L112.2 493.2L112.7 493.0L113.1 492.6L113.6 492.2L114.0 491.8L114.5 491.4L114.9 490.9L115.4 490.3L115.8 489.7L116.2 489.1L116.7 488.6L117.1 488.2L117.6 487.8L118.0 487.3L118.5 487.1L118.9 486.8L119.4 486.7L119.8 486.6L120.3 486.6L120.7 486.7L121.2 486.9L121.6 487.1L122.0 487.5L122.5 487.9L122.9 488.4L123.4 488.9L123.8 489.4L124.3 490.0L124.7 490.6L125.2 491.1L125.6 491.6L126.1 492.1L126.5 492.5L127.0 493.0L127.4 493.4L127.8 493.6L128.3 493.8L128.7 493.9L129.2 494.0L129.6 493.9L130.1 493.9L130.5 493.7L131.0 493.5L131.4 493.1L131.9 492.8L132.3 492.4L132.7 492.0L133.2 491.5L133.6 490.9L134.1 490.4L134.5 489.9L135.0 489.4L135.4 488.8L135.9 488.3L136.3 487.7L136.8 487.2L137.2 486.7L137.7 486.4L138.1 486.2L138.5 486.0L139.0 485.9L139.4 485.9L139.9 485.8L140.3 485.9L140.8 486.0L141.2 486.2L141.7 486.4L142.1 486.7L142.6 487.1L143.0 487.5L143.4 487.9L143.9 488.4L144.3 488.9L144.8 489.5L145.2 490.1L145.7 490.6L146.1 491.1L146.6 491.6L147.0 492.1L147.5 492.6L147.9 493.1L148.4 493.5L148.8 493.9L149.2 494.1L149.7 494.5L150.1 494.7L150.6 494.8L151.0 494.9L151.5 494.9L151.9 494.9L152.4 494.8L152.8 494.6L153.3 494.4L153.7 494.2L154.2 493.8L154.6 493.4L155.0 493.0L155.5 492.6L155.9 492.2L156.4 491.7L156.8 491.2L157.3 490.7L157.7 490.1L158.2 489.6L158.6 489.1L159.1 488.6L159.5 488.1L159.9 487.6L160.4 487.1L160.8 486.7L161.3 486.3L161.7 486.0L162.2 485.7L162.6 485.5L163.1 485.3L163.5 485.1L164.0 485.0L164.4 485.0L164.9 485.0L165.3 485.0L165.7 485.1L166.2 485.2L166.6 485.4L167.1 485.7L167.5 485.9L168.0 486.3L168.4 486.7L168.9 487.1L169.3 487.4L169.8 487.9L170.2 488.3L170.6 488.8L171.1 489.3L171.5 489.8L172.0 490.3L172.4 490.8L172.9 491.2L173.3 491.6L173.8 492.1L174.2 492.6L174.7 493.0L175.1 493.4L175.6 493.7L176.0 494.1L176.4 494.3L176.9 494.6L177.3 494.8L177.8 495.1L178.2 495.2L178.7 495.3L179.1 495.4L179.6 495.4L180.0 495.4L180.5 495.2L180.9 495.2L181.4 495.1L181.8 495.0L182.2 494.7L182.7 494.4L183.1 494.2L183.6 493.9L184.0 493.7L184.5 493.3L184.9 492.8L185.4 492.4L185.8 492.0L186.3 491.6L186.7 491.2L187.1 490.8L187.6 490.4L188.0 489.9L188.5 489.4L188.9 489.0L189.4 488.5L189.8 488.1L190.3 487.8L190.7 487.4L191.2 487.0L191.6 486.6L192.1 486.3L192.5 486.0L192.9 485.7L193.4 485.4L193.8 485.1L194.3 484.9L194.7 484.8L195.2 484.6L195.6 484.5L196.1 484.4L196.5 484.4L197.0 484.4L197.4 484.4L197.8 484.5L198.3 484.6L198.7 484.7L199.2 484.8L199.6 485.0L200.1 485.2L200.5 485.5L201.0 485.7L201.4 486.0L201.9 486.3L202.3 486.6L202.8 486.9L203.2 487.2L203.6 487.6L204.1 488.0L204.5 488.4L205.0 488.8L205.4 489.2L205.9 489.6L206.3 489.9L206.8 490.3L207.2 490.7L207.7 491.1L208.1 491.6L208.6 491.9L209.0 492.3L209.4 492.7L209.9 493.0L210.3 493.3L210.8 493.6L211.2 494.0L211.7 494.3L212.1 494.5L212.6 494.7L213.0 495.0L213.5 495.2L213.9 495.4L214.3 495.5L214.8 495.7L215.2 495.8L215.7 495.8L216.1 495.9L216.6 495.9L217.0 495.9L217.5 495.8L217.9 495.8L218.4 495.7L218.8 495.6L219.3 495.5L219.7 495.4L220.1 495.2L220.6 495.0L221.0 494.8L221.5 494.6L221.9 494.4L222.4 494.2L222.8 493.9L223.3 493.6L223.7 493.2L224.2 492.8L224.6 492.6L225.0 492.3L225.5 492.0L225.9 491.6L226.4 491.2L226.8 490.9L227.3 490.5L227.7 490.2L228.2 489.8L228.6 489.4L229.1 489.1L229.5 488.7L230.0 488.5L230.4 488.1L230.8 487.7L231.3 487.4L231.7 487.1L232.2 486.8L232.6 486.5L233.1 486.3L233.5 486.1L234.0 485.8L234.4 485.5L234.9 485.3L235.3 485.1L235.8 484.9L236.2 484.8L236.6 484.6L237.1 484.4L237.5 484.2L238.0 484.1L238.4 484.0L238.9 484.0L239.3 484.0L239.8 483.9L240.2 483.9L240.7 483.9L241.1 483.9L241.5 484.0L242.0 484.0L242.4 484.1L242.9 484.2L243.3 484.3L243.8 484.5L244.2 484.6L244.7 484.8L245.1 485.0L245.6 485.1L246.0 485.3L246.5 485.6L246.9 485.8L247.3 486.1L247.8 486.4L248.2 486.6L248.7 486.9L249.1 487.1L249.6 487.4L250.0 487.6L250.5 487.9L250.9 488.2L251.4 488.6L251.8 488.9L252.2 489.2L252.7 489.5L253.1 489.8L253.6 490.1L254.0 490.4L254.5 490.6L254.9 491.0L255.4 491.3L255.8 491.5L256.3 491.8L256.7 492.1L257.2 492.4L257.6 492.7L258.0 493.0L258.5 493.2L258.9 493.5L259.4 493.8L259.8 494.1L260.3 494.3L260.7 494.4L261.2 494.6L261.6 494.8L262.1 495.0L262.5 495.1L263.0 495.2L263.4 495.3L263.8 495.5L264.3 495.6L264.7 495.7L265.2 495.8L265.6 495.9L266.1 496.0L266.5 496.1L267.0 496.1L267.4 496.1L267.9 496.1L268.3 496.1L268.7 496.1L269.2 496.1L269.6 496.1L270.1 496.0L270.5 496.0L271.0 496.0L271.4 495.9L271.9 495.7L272.3 495.6L272.8 495.4L273.2 495.3L273.7 495.1L274.1 495.0L274.5 494.8L275.0 494.6L275.4 494.4L275.9 494.2L276.3 494.1L276.8 493.9L277.2 493.8L277.7 493.5L278.1 493.3L278.6 493.1L279.0 492.8L279.4 492.6L279.9 492.3L280.3 492.0L280.8 491.7L281.2 491.5L281.7 491.2L282.1 490.9L282.6 490.7L283.0 490.5L283.5 490.2L283.9 490.0L284.4 489.8L284.8 489.4L285.2 489.1L285.7 488.9L286.1 488.7L286.6 488.4L287.0 488.1L287.5 487.8L287.9 487.6L288.4 487.4L288.8 487.2L289.3 487.0L289.7 486.8L290.2 486.6L290.6 486.3L291.0 486.1L291.5 485.9L291.9 485.7L292.4 485.5L292.8 485.4L293.3 485.3L293.7 485.0L294.2 484.8L294.6 484.6L295.1 484.6L295.5 484.5L295.9 484.4L296.4 484.2L296.8 484.1L297.3 484.0L297.7 484.0L298.2 483.8L298.6 483.8L299.1 483.8L299.5 483.8L300.0 483.8L300.4 483.7L300.9 483.7L301.3 483.6L301.7 483.5L302.2 483.5L302.6 483.5L303.1 483.5L303.5 483.6L304.0 483.7L304.4 483.8L304.9 483.7L305.3 483.7L305.8 483.6L306.2 483.9L306.6 483.9L307.1 484.1L307.5 484.3L308.0 484.4L308.4 484.5L308.9 484.5L309.3 484.6L309.8 484.8L310.2 485.0L310.7 485.2L311.1 485.3L311.6 485.7L312.0 485.9L312.4 485.9L312.9 485.8L313.3 486.0L313.8 486.3L314.2 486.5L314.7 486.7L315.1 486.9L315.6 487.1L316.0 487.3L316.5 487.4L316.9 487.6L317.3 488.0L317.8 488.4L318.2 488.6L318.7 488.7L319.1 488.9L319.6 489.3L320.0 489.5L320.5 489.7L320.9 489.8L321.4 490.0L321.8 490.1L322.3 490.3L322.7 490.6L323.1 490.8L323.6 491.2L324.0 491.5L324.5 491.7L324.9 491.7L325.4 492.1L325.8 492.3L326.3 492.3L326.7 492.4L327.2 492.8L327.6 493.0L328.1 493.1L328.5 493.3L328.9 493.6L329.4 493.7L329.8 493.8L330.3 493.8L330.7 493.9L331.2 494.0L331.6 494.0L332.1 494.2L332.5 494.7L333.0 495.2L333.4 495.4L333.8 495.2L334.3 495.1L334.7 495.1L335.2 495.2L335.6 495.4L336.1 495.5L336.5 495.6L337.0 495.5L337.4 495.7L337.9 495.5L338.3 495.6L338.8 495.6L339.2 495.9L339.6 496.2L340.1 496.1L340.5 495.7L341.0 495.6L341.4 495.6L341.9 495.5L342.3 495.6L342.8 495.8L343.2 495.7L343.7 495.5L344.1 495.7L344.5 495.8L345.0 495.6L345.4 495.7L345.9 496.2L346.3 496.1L346.8 495.4L347.2 495.2L347.7 495.3L348.1 495.3L348.6 495.2L349.0 495.4L349.5 495.0L349.9 494.5L350.3 494.1L350.8 494.6L351.2 495.0L351.7 494.8L352.1 494.5L352.6 494.7L353.0 494.8L353.5 494.5L353.9 494.3L354.4 494.5L354.8 494.5L355.3 494.3L355.7 494.0L356.1 493.8L356.6 493.4L357.0 493.3L357.5 493.2L357.9 493.1L358.4 493.1L358.8 493.2L359.3 493.2L359.7 492.6L360.2 492.4L360.6 492.1L361.0 492.0L361.5 491.6L361.9 491.7L362.4 492.0L362.8 491.8L363.3 491.2L363.7 490.9L364.2 490.8L364.6 491.1L365.1 490.8L365.5 490.2L366.0 489.7L366.4 489.9L366.8 490.1L367.3 490.1L367.7 490.3L368.2 490.2L368.6 489.6L369.1 488.8L369.5 488.7L370.0 488.9L370.4 489.0L370.9 489.0L371.3 488.8L371.7 488.8L372.2 488.6L372.6 488.2L373.1 487.7L373.5 487.2L374.0 486.9L374.4 486.9L374.9 487.3L375.3 487.8L375.8 487.7L376.2 487.3L376.7 486.6L377.1 486.6L377.5 486.7L378.0 486.6L378.4 486.4L378.9 486.4L379.3 486.4" fill="none" stroke="#2faa55" stroke-width="1" stroke-linejoin="round"/>
<path d="M67.2 485.9L67.6 484.4L68.1 483.1L68.5 482.0L69.0 481.2L69.4 480.6L69.9 480.2L70.3 479.8L70.8 479.6L71.2 479.6L71.7 479.8L72.1 480.0L72.6 480.2L73.0 480.6L73.4 481.0L73.9 481.4L74.3 481.5L74.8 481.6L75.2 481.6L75.7 481.5L76.1 481.3L76.6 481.1L77.0 480.7L77.5 480.3L77.9 479.9L78.3 479.6L78.8 479.3L79.2 479.0L79.7 478.8L80.1 478.7L80.6 478.7L81.0 478.9L81.5 479.1L81.9 479.4L82.4 479.7L82.8 480.2L83.3 480.7L83.7 481.0L84.1 481.4L84.6 481.6L85.0 481.8L85.5 481.9L85.9 481.9L86.4 481.9L86.8 481.7L87.3 481.4L87.7 481.0L88.2 480.6L88.6 480.1L89.0 479.6L89.5 479.2L89.9 478.8L90.4 478.5L90.8 478.3L91.3 478.1L91.7 478.1L92.2 478.2L92.6 478.3L93.1 478.6L93.5 479.0L94.0 479.4L94.4 479.9L94.8 480.3L95.3 480.9L95.7 481.3L96.2 481.6L96.6 482.0L97.1 482.3L97.5 482.5L98.0 482.6L98.4 482.6L98.9 482.5L99.3 482.3L99.8 482.0L100.2 481.6L100.6 481.2L101.1 480.7L101.5 480.2L102.0 479.7L102.4 479.1L102.9 478.7L103.3 478.3L103.8 478.0L104.2 477.7L104.7 477.5L105.1 477.4L105.5 477.4L106.0 477.5L106.4 477.7L106.9 477.9L107.3 478.4L107.8 478.9L108.2 479.3L108.7 479.8L109.1 480.5L109.6 481.1L110.0 481.5L110.5 482.0L110.9 482.4L111.3 482.8L111.8 483.1L112.2 483.3L112.7 483.5L113.1 483.5L113.6 483.3L114.0 483.1L114.5 482.8L114.9 482.5L115.4 482.1L115.8 481.7L116.2 481.2L116.7 480.6L117.1 480.0L117.6 479.5L118.0 478.9L118.5 478.4L118.9 478.0L119.4 477.6L119.8 477.2L120.3 476.9L120.7 476.7L121.2 476.6L121.6 476.6L122.0 476.7L122.5 476.8L122.9 477.0L123.4 477.3L123.8 477.8L124.3 478.2L124.7 478.6L125.2 479.1L125.6 479.6L126.1 480.1L126.5 480.7L127.0 481.3L127.4 481.8L127.8 482.3L128.3 482.8L128.7 483.2L129.2 483.5L129.6 483.8L130.1 484.0L130.5 484.1L131.0 484.1L131.4 484.1L131.9 484.0L132.3 483.9L132.7 483.6L133.2 483.2L133.6 482.8L134.1 482.4L134.5 481.9L135.0 481.4L135.4 480.9L135.9 480.4L136.3 479.8L136.8 479.2L137.2 478.6L137.7 478.2L138.1 477.7L138.5 477.2L139.0 476.8L139.4 476.5L139.9 476.3L140.3 476.1L140.8 475.9L141.2 475.8L141.7 475.7L142.1 475.8L142.6 475.9L143.0 476.1L143.4 476.4L143.9 476.6L144.3 477.0L144.8 477.4L145.2 477.8L145.7 478.3L146.1 478.8L146.6 479.4L147.0 479.9L147.5 480.5L147.9 481.0L148.4 481.5L148.8 482.1L149.2 482.6L149.7 483.1L150.1 483.5L150.6 483.8L151.0 484.2L151.5 484.5L151.9 484.7L152.4 484.8L152.8 484.9L153.3 485.0L153.7 485.1L154.2 484.9L154.6 484.8L155.0 484.5L155.5 484.3L155.9 484.0L156.4 483.6L156.8 483.2L157.3 482.8L157.7 482.4L158.2 481.9L158.6 481.4L159.1 480.8L159.5 480.3L159.9 479.7L160.4 479.2L160.8 478.7L161.3 478.2L161.7 477.7L162.2 477.3L162.6 476.9L163.1 476.5L163.5 476.1L164.0 475.8L164.4 475.5L164.9 475.3L165.3 475.2L165.7 475.0L166.2 474.9L166.6 474.9L167.1 475.0L167.5 475.1L168.0 475.2L168.4 475.4L168.9 475.6L169.3 475.9L169.8 476.1L170.2 476.5L170.6 476.8L171.1 477.2L171.5 477.7L172.0 478.1L172.4 478.5L172.9 479.0L173.3 479.5L173.8 479.9L174.2 480.4L174.7 480.8L175.1 481.3L175.6 481.8L176.0 482.3L176.4 482.8L176.9 483.2L177.3 483.6L177.8 483.9L178.2 484.2L178.7 484.4L179.1 484.7L179.6 484.9L180.0 485.1L180.5 485.2L180.9 485.4L181.4 485.5L181.8 485.5L182.2 485.4L182.7 485.3L183.1 485.2L183.6 485.1L184.0 485.0L184.5 484.8L184.9 484.6L185.4 484.2L185.8 484.0L186.3 483.6L186.7 483.3L187.1 482.9L187.6 482.5L188.0 482.1L188.5 481.7L188.9 481.2L189.4 480.8L189.8 480.3L190.3 479.9L190.7 479.4L191.2 479.0L191.6 478.6L192.1 478.1L192.5 477.7L192.9 477.3L193.4 476.9L193.8 476.6L194.3 476.3L194.7 475.9L195.2 475.6L195.6 475.3L196.1 475.1L196.5 474.8L197.0 474.7L197.4 474.5L197.8 474.4L198.3 474.4L198.7 474.4L199.2 474.3L199.6 474.4L200.1 474.5L200.5 474.5L201.0 474.6L201.4 474.8L201.9 475.0L202.3 475.1L202.8 475.4L203.2 475.6L203.6 475.9L204.1 476.1L204.5 476.4L205.0 476.8L205.4 477.1L205.9 477.4L206.3 477.8L206.8 478.2L207.2 478.6L207.7 479.0L208.1 479.4L208.6 479.8L209.0 480.2L209.4 480.6L209.9 481.1L210.3 481.5L210.8 481.9L211.2 482.2L211.7 482.6L212.1 482.9L212.6 483.3L213.0 483.6L213.5 484.0L213.9 484.2L214.3 484.5L214.8 484.7L215.2 484.9L215.7 485.1L216.1 485.3L216.6 485.4L217.0 485.6L217.5 485.7L217.9 485.8L218.4 485.8L218.8 485.9L219.3 485.9L219.7 485.8L220.1 485.8L220.6 485.7L221.0 485.7L221.5 485.6L221.9 485.6L222.4 485.4L222.8 485.3L223.3 485.1L223.7 484.8L224.2 484.6L224.6 484.3L225.0 484.1L225.5 483.8L225.9 483.5L226.4 483.1L226.8 482.8L227.3 482.5L227.7 482.2L228.2 481.9L228.6 481.5L229.1 481.2L229.5 480.9L230.0 480.5L230.4 480.1L230.8 479.7L231.3 479.3L231.7 478.9L232.2 478.6L232.6 478.3L233.1 478.0L233.5 477.7L234.0 477.4L234.4 477.1L234.9 476.9L235.3 476.6L235.8 476.3L236.2 476.1L236.6 475.8L237.1 475.5L237.5 475.2L238.0 475.0L238.4 474.8L238.9 474.6L239.3 474.5L239.8 474.4L240.2 474.2L240.7 474.1L241.1 474.0L241.5 474.0L242.0 473.9L242.4 473.8L242.9 473.8L243.3 473.8L243.8 474.0L244.2 474.1L244.7 474.2L245.1 474.2L245.6 474.2L246.0 474.3L246.5 474.4L246.9 474.5L247.3 474.6L247.8 474.9L248.2 475.1L248.7 475.4L249.1 475.5L249.6 475.7L250.0 475.9L250.5 476.1L250.9 476.4L251.4 476.8L251.8 477.0L252.2 477.3L252.7 477.5L253.1 477.8L253.6 478.1L254.0 478.4L254.5 478.7L254.9 479.0L255.4 479.3L255.8 479.6L256.3 479.9L256.7 480.2L257.2 480.5L257.6 480.8L258.0 481.1L258.5 481.4L258.9 481.7L259.4 481.9L259.8 482.3L260.3 482.6L260.7 482.9L261.2 483.2L261.6 483.4L262.1 483.7L262.5 483.9L263.0 484.1L263.4 484.3L263.8 484.5L264.3 484.7L264.7 484.9L265.2 485.1L265.6 485.2L266.1 485.3L266.5 485.4L267.0 485.6L267.4 485.6L267.9 485.8L268.3 485.9L268.7 486.0L269.2 486.0L269.6 486.0L270.1 486.0L270.5 486.0L271.0 486.0L271.4 486.1L271.9 486.1L272.3 486.1L272.8 486.0L273.2 486.0L273.7 486.0L274.1 485.9L274.5 485.7L275.0 485.6L275.4 485.5L275.9 485.4L276.3 485.2L276.8 485.1L277.2 485.0L277.7 484.8L278.1 484.6L278.6 484.4L279.0 484.3L279.4 484.1L279.9 483.9L280.3 483.6L280.8 483.4L281.2 483.2L281.7 483.1L282.1 482.8L282.6 482.5L283.0 482.2L283.5 482.0L283.9 481.7L284.4 481.4L284.8 481.2L285.2 481.0L285.7 480.8L286.1 480.5L286.6 480.3L287.0 480.0L287.5 479.7L287.9 479.4L288.4 479.2L288.8 478.9L289.3 478.7L289.7 478.5L290.2 478.2L290.6 477.9L291.0 477.6L291.5 477.4L291.9 477.2L292.4 477.0L292.8 476.8L293.3 476.5L293.7 476.4L294.2 476.2L294.6 476.0L295.1 475.7L295.5 475.5L295.9 475.2L296.4 475.1L296.8 475.0L297.3 474.9L297.7 474.7L298.2 474.6L298.6 474.5L299.1 474.4L299.5 474.3L300.0 474.1L300.4 474.0L300.9 473.9L301.3 473.8L301.7 473.7L302.2 473.7L302.6 473.6L303.1 473.7L303.5 473.6L304.0 473.6L304.4 473.5L304.9 473.6L305.3 473.6L305.8 473.5L306.2 473.6L306.6 473.7L307.1 473.8L307.5 473.6L308.0 473.5L308.4 473.6L308.9 473.9L309.3 474.1L309.8 474.1L310.2 474.2L310.7 474.3L311.1 474.4L311.6 474.4L312.0 474.4L312.4 474.6L312.9 474.8L313.3 475.0L313.8 475.0L314.2 475.1L314.7 475.4L315.1 475.7L315.6 475.7L316.0 475.8L316.5 475.9L316.9 475.9L317.3 476.0L317.8 476.3L318.2 476.7L318.7 476.9L319.1 477.2L319.6 477.4L320.0 477.6L320.5 477.7L320.9 478.0L321.4 478.4L321.8 478.7L322.3 479.0L322.7 478.7L323.1 478.6L323.6 478.8L324.0 479.4L324.5 479.6L324.9 479.9L325.4 480.2L325.8 480.5L326.3 480.5L326.7 480.7L327.2 480.9L327.6 481.1L328.1 481.3L328.5 481.4L328.9 481.4L329.4 481.7L329.8 481.9L330.3 482.3L330.7 482.5L331.2 482.9L331.6 483.1L332.1 483.3L332.5 483.2L333.0 483.4L333.4 483.7L333.8 483.7L334.3 483.6L334.7 484.1L335.2 484.3L335.6 484.3L336.1 484.3L336.5 484.6L337.0 484.6L337.4 484.6L337.9 484.9L338.3 485.2L338.8 485.2L339.2 485.3L339.6 485.2L340.1 485.4L340.5 485.4L341.0 485.8L341.4 485.9L341.9 486.0L342.3 485.9L342.8 486.0L343.2 486.0L343.7 486.4L344.1 486.2L344.5 486.3L345.0 486.1L345.4 486.2L345.9 485.9L346.3 485.9L346.8 485.7L347.2 485.5L347.7 485.5L348.1 485.6L348.6 485.9L349.0 485.9L349.5 486.0L349.9 485.8L350.3 485.9L350.8 485.7L351.2 485.6L351.7 485.4L352.1 485.6L352.6 485.8L353.0 486.0L353.5 485.8L353.9 485.5L354.4 484.9L354.8 484.8L355.3 485.0L355.7 485.1L356.1 484.9L356.6 485.0L357.0 485.0L357.5 484.8L357.9 484.6L358.4 484.2L358.8 483.7L359.3 483.5L359.7 483.8L360.2 483.6L360.6 483.4L361.0 483.0L361.5 483.0L361.9 483.0L362.4 483.2L362.8 483.2L363.3 483.1L363.7 482.8L364.2 482.5L364.6 482.4L365.1 482.4L365.5 481.9L366.0 481.5L366.4 481.3L366.8 481.7L367.3 481.5L367.7 481.2L368.2 481.1L368.6 481.1L369.1 480.5L369.5 480.0L370.0 479.8L370.4 480.1L370.9 479.9L371.3 480.2L371.7 480.1L372.2 479.8L372.6 479.2L373.1 478.9L373.5 478.9L374.0 479.2L374.4 479.2L374.9 479.1L375.3 478.6L375.8 478.4L376.2 478.6L376.7 478.5L377.1 478.3L377.5 478.1L378.0 477.9L378.4 477.1L378.9 476.6L379.3 476.8" fill="none" stroke="#4848a8" stroke-width="1" stroke-linejoin="round"/>
<path d="M67.2 476.4L67.6 475.0L68.1 473.9L68.5 472.9L69.0 472.0L69.4 471.2L69.9 470.6L70.3 470.1L70.8 469.7L71.2 469.5L71.7 469.4L72.1 469.5L72.6 469.7L73.0 469.9L73.4 470.2L73.9 470.5L74.3 470.9L74.8 471.2L75.2 471.5L75.7 471.6L76.1 471.7L76.6 471.6L77.0 471.5L77.5 471.2L77.9 470.8L78.3 470.4L78.8 470.0L79.2 469.6L79.7 469.4L80.1 469.1L80.6 468.9L81.0 468.8L81.5 468.8L81.9 468.9L82.4 469.1L82.8 469.4L83.3 469.8L83.7 470.1L84.1 470.5L84.6 470.9L85.0 471.3L85.5 471.6L85.9 471.9L86.4 472.1L86.8 472.1L87.3 472.0L87.7 471.9L88.2 471.7L88.6 471.3L89.0 470.9L89.5 470.4L89.9 470.0L90.4 469.5L90.8 469.1L91.3 468.6L91.7 468.3L92.2 468.1L92.6 468.1L93.1 468.1L93.5 468.3L94.0 468.5L94.4 468.8L94.8 469.2L95.3 469.7L95.7 470.1L96.2 470.7L96.6 471.1L97.1 471.6L97.5 472.0L98.0 472.3L98.4 472.5L98.9 472.7L99.3 472.8L99.8 472.7L100.2 472.5L100.6 472.2L101.1 471.9L101.5 471.5L102.0 471.0L102.4 470.5L102.9 470.0L103.3 469.4L103.8 468.8L104.2 468.4L104.7 468.0L105.1 467.7L105.5 467.4L106.0 467.3L106.4 467.3L106.9 467.4L107.3 467.5L107.8 467.8L108.2 468.0L108.7 468.5L109.1 469.0L109.6 469.6L110.0 470.2L110.5 470.7L110.9 471.3L111.3 471.7L111.8 472.2L112.2 472.6L112.7 472.9L113.1 473.2L113.6 473.4L114.0 473.5L114.5 473.5L114.9 473.4L115.4 473.2L115.8 472.9L116.2 472.5L116.7 472.1L117.1 471.6L117.6 471.1L118.0 470.5L118.5 470.0L118.9 469.4L119.4 468.9L119.8 468.4L120.3 467.9L120.7 467.5L121.2 467.2L121.6 466.9L122.0 466.6L122.5 466.5L122.9 466.5L123.4 466.6L123.8 466.8L124.3 467.0L124.7 467.3L125.2 467.6L125.6 468.0L126.1 468.5L126.5 469.0L127.0 469.6L127.4 470.1L127.8 470.7L128.3 471.3L128.7 471.8L129.2 472.3L129.6 472.8L130.1 473.3L130.5 473.6L131.0 473.8L131.4 474.1L131.9 474.1L132.3 474.2L132.7 474.1L133.2 474.0L133.6 473.9L134.1 473.6L134.5 473.3L135.0 472.9L135.4 472.5L135.9 472.1L136.3 471.6L136.8 471.1L137.2 470.5L137.7 469.9L138.1 469.3L138.5 468.8L139.0 468.3L139.4 467.7L139.9 467.3L140.3 466.8L140.8 466.5L141.2 466.2L141.7 465.9L142.1 465.8L142.6 465.7L143.0 465.8L143.4 465.9L143.9 465.9L144.3 466.0L144.8 466.2L145.2 466.6L145.7 466.9L146.1 467.3L146.6 467.7L147.0 468.2L147.5 468.7L147.9 469.2L148.4 469.7L148.8 470.3L149.2 470.9L149.7 471.4L150.1 471.9L150.6 472.4L151.0 473.0L151.5 473.3L151.9 473.7L152.4 474.1L152.8 474.4L153.3 474.6L153.7 474.8L154.2 474.9L154.6 475.0L155.0 475.0L155.5 475.0L155.9 474.9L156.4 474.7L156.8 474.5L157.3 474.2L157.7 473.9L158.2 473.5L158.6 473.1L159.1 472.6L159.5 472.2L159.9 471.7L160.4 471.2L160.8 470.7L161.3 470.1L161.7 469.7L162.2 469.1L162.6 468.6L163.1 468.0L163.5 467.6L164.0 467.2L164.4 466.8L164.9 466.4L165.3 466.0L165.7 465.7L166.2 465.5L166.6 465.2L167.1 465.0L167.5 465.0L168.0 464.9L168.4 464.9L168.9 464.9L169.3 465.0L169.8 465.2L170.2 465.3L170.6 465.5L171.1 465.8L171.5 466.1L172.0 466.5L172.4 466.9L172.9 467.4L173.3 467.8L173.8 468.2L174.2 468.7L174.7 469.1L175.1 469.5L175.6 470.0L176.0 470.6L176.4 471.0L176.9 471.5L177.3 471.9L177.8 472.4L178.2 472.8L178.7 473.3L179.1 473.6L179.6 473.9L180.0 474.2L180.5 474.5L180.9 474.7L181.4 475.0L181.8 475.3L182.2 475.4L182.7 475.5L183.1 475.5L183.6 475.4L184.0 475.4L184.5 475.4L184.9 475.4L185.4 475.2L185.8 474.9L186.3 474.7L186.7 474.5L187.1 474.3L187.6 474.0L188.0 473.6L188.5 473.2L188.9 472.9L189.4 472.5L189.8 472.1L190.3 471.6L190.7 471.2L191.2 470.8L191.6 470.4L192.1 469.9L192.5 469.5L192.9 469.1L193.4 468.6L193.8 468.1L194.3 467.7L194.7 467.3L195.2 467.1L195.6 466.7L196.1 466.3L196.5 465.9L197.0 465.7L197.4 465.4L197.8 465.2L198.3 464.9L198.7 464.7L199.2 464.6L199.6 464.6L200.1 464.5L200.5 464.4L201.0 464.3L201.4 464.4L201.9 464.4L202.3 464.5L202.8 464.6L203.2 464.7L203.6 464.9L204.1 465.0L204.5 465.2L205.0 465.5L205.4 465.8L205.9 466.1L206.3 466.3L206.8 466.6L207.2 466.9L207.7 467.3L208.1 467.6L208.6 468.0L209.0 468.5L209.4 468.8L209.9 469.2L210.3 469.6L210.8 470.1L211.2 470.5L211.7 470.9L212.1 471.2L212.6 471.6L213.0 472.0L213.5 472.4L213.9 472.8L214.3 473.2L214.8 473.5L215.2 473.8L215.7 474.0L216.1 474.3L216.6 474.5L217.0 474.8L217.5 475.0L217.9 475.2L218.4 475.3L218.8 475.4L219.3 475.6L219.7 475.7L220.1 475.8L220.6 475.9L221.0 475.9L221.5 475.9L221.9 475.9L222.4 475.8L222.8 475.7L223.3 475.7L223.7 475.6L224.2 475.4L224.6 475.2L225.0 475.1L225.5 474.9L225.9 474.7L226.4 474.5L226.8 474.2L227.3 473.9L227.7 473.7L228.2 473.4L228.6 473.1L229.1 472.7L229.5 472.4L230.0 472.1L230.4 471.8L230.8 471.5L231.3 471.1L231.7 470.7L232.2 470.4L232.6 470.1L233.1 469.8L233.5 469.4L234.0 469.0L234.4 468.7L234.9 468.4L235.3 468.0L235.8 467.7L236.2 467.4L236.6 467.1L237.1 466.7L237.5 466.4L238.0 466.2L238.4 465.9L238.9 465.7L239.3 465.4L239.8 465.2L240.2 465.0L240.7 464.8L241.1 464.6L241.5 464.5L242.0 464.4L242.4 464.2L242.9 464.2L243.3 464.1L243.8 464.0L244.2 463.9L244.7 463.9L245.1 463.9L245.6 463.8L246.0 463.9L246.5 463.9L246.9 464.0L247.3 464.1L247.8 464.2L248.2 464.2L248.7 464.3L249.1 464.5L249.6 464.7L250.0 464.9L250.5 465.1L250.9 465.2L251.4 465.4L251.8 465.6L252.2 465.9L252.7 466.1L253.1 466.4L253.6 466.7L254.0 466.9L254.5 467.1L254.9 467.4L255.4 467.6L255.8 468.0L256.3 468.3L256.7 468.6L257.2 468.9L257.6 469.2L258.0 469.6L258.5 469.8L258.9 470.1L259.4 470.4L259.8 470.8L260.3 471.1L260.7 471.4L261.2 471.6L261.6 471.9L262.1 472.2L262.5 472.5L263.0 472.7L263.4 472.9L263.8 473.2L264.3 473.5L264.7 473.8L265.2 474.0L265.6 474.1L266.1 474.3L266.5 474.6L267.0 474.8L267.4 474.9L267.9 475.1L268.3 475.3L268.7 475.4L269.2 475.5L269.6 475.6L270.1 475.7L270.5 475.8L271.0 475.9L271.4 476.0L271.9 476.0L272.3 476.1L272.8 476.1L273.2 476.2L273.7 476.1L274.1 476.0L274.5 476.1L275.0 476.1L275.4 476.0L275.9 475.9L276.3 475.9L276.8 475.8L277.2 475.7L277.7 475.6L278.1 475.5L278.6 475.3L279.0 475.2L279.4 475.0L279.9 474.8L280.3 474.6L280.8 474.5L281.2 474.4L281.7 474.3L282.1 474.1L282.6 473.8L283.0 473.6L283.5 473.4L283.9 473.2L284.4 472.9L284.8 472.6L285.2 472.4L285.7 472.2L286.1 472.0L286.6 471.8L287.0 471.6L287.5 471.3L287.9 470.9L288.4 470.6L288.8 470.4L289.3 470.1L289.7 469.9L290.2 469.6L290.6 469.4L291.0 469.2L291.5 468.9L291.9 468.6L292.4 468.4L292.8 468.1L293.3 467.9L293.7 467.6L294.2 467.4L294.6 467.1L295.1 467.0L295.5 466.8L295.9 466.5L296.4 466.3L296.8 466.1L297.3 465.8L297.7 465.5L298.2 465.4L298.6 465.4L299.1 465.2L299.5 465.1L300.0 464.9L300.4 464.6L300.9 464.4L301.3 464.2L301.7 464.3L302.2 464.2L302.6 464.0L303.1 463.9L303.5 463.8L304.0 463.6L304.4 463.4L304.9 463.5L305.3 463.6L305.8 463.4L306.2 463.3L306.6 463.3L307.1 463.4L307.5 463.4L308.0 463.5L308.4 463.5L308.9 463.5L309.3 463.6L309.8 463.7L310.2 463.8L310.7 463.9L311.1 463.8L311.6 463.9L312.0 463.9L312.4 463.9L312.9 463.9L313.3 464.0L313.8 464.1L314.2 464.2L314.7 464.5L315.1 464.7L315.6 464.8L316.0 464.7L316.5 464.8L316.9 465.1L317.3 465.5L317.8 465.7L318.2 465.7L318.7 465.7L319.1 465.8L319.6 465.9L320.0 466.0L320.5 466.3L320.9 466.6L321.4 467.1L321.8 467.1L322.3 467.3L322.7 467.3L323.1 467.6L323.6 467.7L324.0 468.0L324.5 468.2L324.9 468.5L325.4 468.7L325.8 469.1L326.3 469.4L326.7 469.5L327.2 469.6L327.6 469.9L328.1 470.2L328.5 470.3L328.9 470.2L329.4 470.0L329.8 470.4L330.3 470.7L330.7 471.6L331.2 472.0L331.6 472.3L332.1 472.3L332.5 472.3L333.0 472.3L333.4 472.6L333.8 472.9L334.3 473.0L334.7 473.0L335.2 472.9L335.6 472.9L336.1 473.0L336.5 473.5L337.0 473.7L337.4 473.7L337.9 473.7L338.3 474.0L338.8 474.3L339.2 474.5L339.6 474.6L340.1 474.4L340.5 474.3L341.0 474.4L341.4 474.6L341.9 474.8L342.3 474.8L342.8 475.0L343.2 475.1L343.7 475.2L344.1 475.2L344.5 475.1L345.0 475.3L345.4 475.9L345.9 475.9L346.3 475.7L346.8 475.3L347.2 475.8L347.7 475.9L348.1 475.5L348.6 475.4L349.0 475.5L349.5 475.8L349.9 475.4L350.3 475.3L350.8 475.2L351.2 475.6L351.7 476.0L352.1 475.9L352.6 475.8L353.0 475.6L353.5 475.6L353.9 475.5L354.4 475.7L354.8 475.5L355.3 475.3L355.7 475.2L356.1 475.3L356.6 475.1L357.0 475.2L357.5 475.2L357.9 475.2L358.4 475.0L358.8 475.1L359.3 474.6L359.7 474.6L360.2 474.5L360.6 474.4L361.0 473.9L361.5 474.3L361.9 474.6L362.4 474.1L362.8 473.5L363.3 473.5L363.7 473.5L364.2 473.2L364.6 472.9L365.1 473.3L365.5 473.3L366.0 473.3L366.4 472.8L366.8 472.4L367.3 472.2L367.7 472.4L368.2 472.1L368.6 471.7L369.1 471.7L369.5 471.8L370.0 471.5L370.4 471.3L370.9 471.2L371.3 470.8L371.7 470.5L372.2 470.4L372.6 470.1L373.1 470.0L373.5 469.7L374.0 469.7L374.4 469.7L374.9 469.6L375.3 469.5L375.8 469.8L376.2 470.1L376.7 469.5L377.1 469.1L377.5 468.9L378.0 468.9L378.4 468.5L378.9 468.2L379.3 468.1" fill="none" stroke="#c43ce6" stroke-width="1" stroke-linejoin="round"/>
<path d="M67.2 466.5L67.6 465.3L68.1 464.2L68.5 463.3L69.0 462.6L69.4 461.9L69.9 461.2L70.3 460.6L70.8 460.1L71.2 459.7L71.7 459.4L72.1 459.3L72.6 459.3L73.0 459.4L73.4 459.7L73.9 460.0L74.3 460.4L74.8 460.7L75.2 461.1L75.7 461.4L76.1 461.6L76.6 461.7L77.0 461.7L77.5 461.6L77.9 461.4L78.3 461.2L78.8 460.8L79.2 460.4L79.7 460.0L80.1 459.6L80.6 459.3L81.0 459.1L81.5 458.8L81.9 458.7L82.4 458.7L82.8 458.9L83.3 459.2L83.7 459.5L84.1 459.9L84.6 460.3L85.0 460.7L85.5 461.1L85.9 461.5L86.4 461.8L86.8 462.0L87.3 462.1L87.7 462.2L88.2 462.1L88.6 461.9L89.0 461.6L89.5 461.2L89.9 460.8L90.4 460.4L90.8 459.9L91.3 459.4L91.7 459.0L92.2 458.7L92.6 458.5L93.1 458.2L93.5 458.0L94.0 458.1L94.4 458.2L94.8 458.5L95.3 458.8L95.7 459.3L96.2 459.6L96.6 460.1L97.1 460.6L97.5 461.1L98.0 461.6L98.4 462.0L98.9 462.4L99.3 462.6L99.8 462.8L100.2 462.9L100.6 462.8L101.1 462.6L101.5 462.4L102.0 462.1L102.4 461.6L102.9 461.1L103.3 460.6L103.8 460.1L104.2 459.5L104.7 459.0L105.1 458.5L105.5 458.2L106.0 457.9L106.4 457.6L106.9 457.4L107.3 457.3L107.8 457.3L108.2 457.5L108.7 457.7L109.1 458.0L109.6 458.4L110.0 458.9L110.5 459.4L110.9 460.0L111.3 460.5L111.8 461.1L112.2 461.6L112.7 462.1L113.1 462.6L113.6 463.0L114.0 463.3L114.5 463.4L114.9 463.5L115.4 463.5L115.8 463.5L116.2 463.3L116.7 463.0L117.1 462.7L117.6 462.4L118.0 461.9L118.5 461.3L118.9 460.8L119.4 460.3L119.8 459.8L120.3 459.2L120.7 458.6L121.2 458.1L121.6 457.6L122.0 457.3L122.5 456.9L122.9 456.7L123.4 456.6L123.8 456.5L124.3 456.5L124.7 456.6L125.2 456.9L125.6 457.2L126.1 457.5L126.5 457.9L127.0 458.4L127.4 458.9L127.8 459.4L128.3 459.9L128.7 460.6L129.2 461.2L129.6 461.7L130.1 462.1L130.5 462.6L131.0 463.1L131.4 463.5L131.9 463.7L132.3 463.9L132.7 464.1L133.2 464.3L133.6 464.3L134.1 464.2L134.5 464.0L135.0 463.8L135.4 463.6L135.9 463.2L136.3 462.8L136.8 462.3L137.2 461.8L137.7 461.4L138.1 460.9L138.5 460.3L139.0 459.8L139.4 459.1L139.9 458.6L140.3 458.0L140.8 457.5L141.2 457.1L141.7 456.7L142.1 456.4L142.6 456.1L143.0 455.9L143.4 455.8L143.9 455.7L144.3 455.7L144.8 455.8L145.2 455.9L145.7 456.1L146.1 456.3L146.6 456.6L147.0 457.0L147.5 457.4L147.9 457.9L148.4 458.4L148.8 458.9L149.2 459.4L149.7 459.9L150.1 460.4L150.6 461.1L151.0 461.6L151.5 462.1L151.9 462.6L152.4 463.1L152.8 463.5L153.3 463.9L153.7 464.3L154.2 464.5L154.6 464.7L155.0 464.9L155.5 465.0L155.9 465.0L156.4 465.0L156.8 465.0L157.3 464.9L157.7 464.7L158.2 464.5L158.6 464.2L159.1 463.8L159.5 463.4L159.9 463.0L160.4 462.6L160.8 462.1L161.3 461.6L161.7 461.1L162.2 460.7L162.6 460.1L163.1 459.6L163.5 459.1L164.0 458.6L164.4 458.1L164.9 457.5L165.3 457.1L165.7 456.7L166.2 456.3L166.6 456.0L167.1 455.7L167.5 455.5L168.0 455.3L168.4 455.2L168.9 455.0L169.3 454.9L169.8 454.9L170.2 455.0L170.6 455.0L171.1 455.2L171.5 455.4L172.0 455.6L172.4 455.9L172.9 456.3L173.3 456.6L173.8 456.9L174.2 457.2L174.7 457.6L175.1 458.1L175.6 458.5L176.0 459.0L176.4 459.5L176.9 460.0L177.3 460.5L177.8 461.0L178.2 461.5L178.7 461.9L179.1 462.4L179.6 462.8L180.0 463.2L180.5 463.6L180.9 463.9L181.4 464.3L181.8 464.6L182.2 464.8L182.7 465.0L183.1 465.2L183.6 465.4L184.0 465.5L184.5 465.5L184.9 465.5L185.4 465.5L185.8 465.4L186.3 465.3L186.7 465.2L187.1 465.0L187.6 464.8L188.0 464.6L188.5 464.3L188.9 464.0L189.4 463.7L189.8 463.3L190.3 462.9L190.7 462.6L191.2 462.2L191.6 461.8L192.1 461.4L192.5 461.0L192.9 460.6L193.4 460.2L193.8 459.7L194.3 459.2L194.7 458.8L195.2 458.4L195.6 458.0L196.1 457.5L196.5 457.1L197.0 456.7L197.4 456.4L197.8 456.1L198.3 455.7L198.7 455.5L199.2 455.3L199.6 455.1L200.1 454.9L200.5 454.7L201.0 454.5L201.4 454.4L201.9 454.4L202.3 454.4L202.8 454.4L203.2 454.3L203.6 454.4L204.1 454.6L204.5 454.7L205.0 454.8L205.4 454.9L205.9 455.1L206.3 455.3L206.8 455.6L207.2 455.9L207.7 456.2L208.1 456.5L208.6 456.8L209.0 457.1L209.4 457.4L209.9 457.8L210.3 458.2L210.8 458.6L211.2 459.0L211.7 459.4L212.1 459.8L212.6 460.2L213.0 460.6L213.5 461.0L213.9 461.4L214.3 461.8L214.8 462.2L215.2 462.5L215.7 462.8L216.1 463.2L216.6 463.6L217.0 463.8L217.5 464.1L217.9 464.4L218.4 464.7L218.8 464.9L219.3 465.0L219.7 465.2L220.1 465.4L220.6 465.5L221.0 465.6L221.5 465.7L221.9 465.8L222.4 465.8L222.8 465.9L223.3 465.9L223.7 466.0L224.2 465.9L224.6 465.7L225.0 465.6L225.5 465.5L225.9 465.4L226.4 465.2L226.8 465.0L227.3 464.8L227.7 464.7L228.2 464.5L228.6 464.3L229.1 463.9L229.5 463.6L230.0 463.3L230.4 463.0L230.8 462.7L231.3 462.3L231.7 462.1L232.2 461.8L232.6 461.4L233.1 461.0L233.5 460.7L234.0 460.4L234.4 460.0L234.9 459.6L235.3 459.2L235.8 458.9L236.2 458.6L236.6 458.2L237.1 458.0L237.5 457.6L238.0 457.3L238.4 456.9L238.9 456.6L239.3 456.4L239.8 456.2L240.2 455.9L240.7 455.7L241.1 455.4L241.5 455.1L242.0 454.9L242.4 454.7L242.9 454.5L243.3 454.4L243.8 454.2L244.2 454.1L244.7 454.0L245.1 453.9L245.6 453.8L246.0 453.8L246.5 453.8L246.9 453.8L247.3 453.8L247.8 453.9L248.2 453.9L248.7 453.9L249.1 454.0L249.6 454.1L250.0 454.2L250.5 454.4L250.9 454.5L251.4 454.6L251.8 454.8L252.2 455.0L252.7 455.2L253.1 455.4L253.6 455.6L254.0 455.8L254.5 456.0L254.9 456.3L255.4 456.6L255.8 456.9L256.3 457.1L256.7 457.4L257.2 457.6L257.6 457.9L258.0 458.2L258.5 458.5L258.9 458.8L259.4 459.1L259.8 459.4L260.3 459.7L260.7 460.1L261.2 460.3L261.6 460.6L262.1 460.9L262.5 461.2L263.0 461.5L263.4 461.8L263.8 462.1L264.3 462.3L264.7 462.7L265.2 462.9L265.6 463.1L266.1 463.3L266.5 463.6L267.0 463.8L267.4 464.1L267.9 464.3L268.3 464.4L268.7 464.6L269.2 464.9L269.6 465.0L270.1 465.2L270.5 465.3L271.0 465.4L271.4 465.5L271.9 465.7L272.3 465.8L272.8 465.8L273.2 465.9L273.7 466.0L274.1 466.1L274.5 466.2L275.0 466.2L275.4 466.1L275.9 466.1L276.3 466.1L276.8 466.1L277.2 466.1L277.7 466.0L278.1 465.9L278.6 465.9L279.0 465.7L279.4 465.6L279.9 465.4L280.3 465.3L280.8 465.2L281.2 465.1L281.7 465.0L282.1 464.8L282.6 464.6L283.0 464.5L283.5 464.3L283.9 464.1L284.4 463.9L284.8 463.7L285.2 463.5L285.7 463.2L286.1 463.0L286.6 462.8L287.0 462.6L287.5 462.3L287.9 462.1L288.4 461.8L288.8 461.6L289.3 461.3L289.7 461.0L290.2 460.8L290.6 460.5L291.0 460.3L291.5 460.1L291.9 459.8L292.4 459.6L292.8 459.2L293.3 459.0L293.7 458.7L294.2 458.4L294.6 458.1L295.1 457.9L295.5 457.7L295.9 457.6L296.4 457.3L296.8 457.1L297.3 456.9L297.7 456.7L298.2 456.4L298.6 456.2L299.1 456.0L299.5 455.8L300.0 455.7L300.4 455.6L300.9 455.4L301.3 455.2L301.7 455.0L302.2 454.8L302.6 454.7L303.1 454.5L303.5 454.2L304.0 454.1L304.4 454.0L304.9 453.8L305.3 453.8L305.8 453.8L306.2 453.7L306.6 453.5L307.1 453.5L307.5 453.5L308.0 453.5L308.4 453.4L308.9 453.5L309.3 453.5L309.8 453.3L310.2 453.2L310.7 453.3L311.1 453.4L311.6 453.3L312.0 453.4L312.4 453.5L312.9 453.6L313.3 453.5L313.8 453.6L314.2 453.7L314.7 454.0L315.1 454.1L315.6 454.0L316.0 454.0L316.5 454.1L316.9 454.3L317.3 454.4L317.8 454.5L318.2 454.7L318.7 454.9L319.1 455.0L319.6 455.1L320.0 455.2L320.5 455.4L320.9 455.7L321.4 455.8L321.8 455.8L322.3 455.9L322.7 456.3L323.1 456.8L323.6 457.1L324.0 457.2L324.5 457.3L324.9 457.2L325.4 457.4L325.8 457.9L326.3 458.3L326.7 458.4L327.2 458.6L327.6 458.7L328.1 458.9L328.5 459.1L328.9 459.3L329.4 459.4L329.8 459.5L330.3 459.7L330.7 460.0L331.2 460.0L331.6 460.0L332.1 460.1L332.5 460.7L333.0 461.2L333.4 461.7L333.8 461.5L334.3 461.4L334.7 461.5L335.2 461.8L335.6 462.0L336.1 462.2L336.5 462.5L337.0 462.9L337.4 462.9L337.9 462.6L338.3 462.7L338.8 463.0L339.2 463.4L339.6 463.9L340.1 464.4L340.5 464.5L341.0 464.5L341.4 464.7L341.9 464.8L342.3 464.7L342.8 464.7L343.2 464.8L343.7 464.8L344.1 464.6L344.5 464.7L345.0 464.8L345.4 465.1L345.9 465.2L346.3 465.5L346.8 465.8L347.2 465.7L347.7 465.5L348.1 465.5L348.6 465.8L349.0 465.9L349.5 465.9L349.9 465.8L350.3 465.7L350.8 465.7L351.2 465.7L351.7 465.8L352.1 465.8L352.6 465.6L353.0 465.6L353.5 465.5L353.9 465.6L354.4 465.7L354.8 465.9L355.3 465.7L355.7 466.0L356.1 466.0L356.6 465.9L357.0 465.3L357.5 465.4L357.9 465.4L358.4 465.5L358.8 465.1L359.3 465.1L359.7 464.8L360.2 465.0L360.6 464.9L361.0 464.7L361.5 464.5L361.9 464.3L362.4 464.1L362.8 464.1L363.3 463.9L363.7 464.0L364.2 463.8L364.6 463.8L365.1 463.5L365.5 463.6L366.0 463.6L366.4 463.3L366.8 463.2L367.3 463.4L367.7 463.3L368.2 462.8L368.6 462.4L369.1 462.2L369.5 462.3L370.0 462.4L370.4 462.4L370.9 462.4L371.3 462.1L371.7 461.8L372.2 461.3L372.6 461.5L373.1 461.2L373.5 461.0L374.0 460.7L374.4 460.9L374.9 461.1L375.3 461.1L375.8 461.0L376.2 460.4L376.7 460.0L377.1 459.8L377.5 459.7L378.0 459.5L378.4 459.4L378.9 459.3L379.3 459.2" fill="none" stroke="#c84aa8" stroke-width="1" stroke-linejoin="round"/>
<path d="M67.2 456.3L67.6 455.3L68.1 454.4L68.5 453.6L69.0 453.0L69.4 452.4L69.9 451.7L70.3 451.1L70.8 450.6L71.2 450.1L71.7 449.7L72.1 449.4L72.6 449.3L73.0 449.2L73.4 449.3L73.9 449.6L74.3 449.9L74.8 450.2L75.2 450.6L75.7 451.0L76.1 451.3L76.6 451.6L77.0 451.7L77.5 451.7L77.9 451.7L78.3 451.5L78.8 451.3L79.2 451.1L79.7 450.7L80.1 450.2L80.6 449.8L81.0 449.5L81.5 449.2L81.9 448.9L82.4 448.8L82.8 448.7L83.3 448.8L83.7 449.0L84.1 449.3L84.6 449.6L85.0 450.0L85.5 450.4L85.9 450.9L86.4 451.3L86.8 451.7L87.3 452.0L87.7 452.2L88.2 452.3L88.6 452.3L89.0 452.2L89.5 451.9L89.9 451.5L90.4 451.1L90.8 450.6L91.3 450.2L91.7 449.8L92.2 449.3L92.6 448.8L93.1 448.5L93.5 448.3L94.0 448.2L94.4 448.1L94.8 448.1L95.3 448.3L95.7 448.6L96.2 449.0L96.6 449.4L97.1 449.9L97.5 450.4L98.0 450.9L98.4 451.4L98.9 451.8L99.3 452.2L99.8 452.5L100.2 452.7L100.6 452.8L101.1 452.9L101.5 452.8L102.0 452.6L102.4 452.3L102.9 451.9L103.3 451.5L103.8 451.0L104.2 450.5L104.7 449.9L105.1 449.4L105.5 448.9L106.0 448.5L106.4 448.1L106.9 447.7L107.3 447.4L107.8 447.3L108.2 447.3L108.7 447.4L109.1 447.6L109.6 447.8L110.0 448.1L110.5 448.6L110.9 449.0L111.3 449.5L111.8 450.0L112.2 450.7L112.7 451.3L113.1 451.8L113.6 452.2L114.0 452.6L114.5 453.1L114.9 453.4L115.4 453.6L115.8 453.6L116.2 453.6L116.7 453.5L117.1 453.3L117.6 453.1L118.0 452.7L118.5 452.3L118.9 451.8L119.4 451.3L119.8 450.7L120.3 450.1L120.7 449.6L121.2 449.1L121.6 448.6L122.0 448.1L122.5 447.6L122.9 447.3L123.4 446.9L123.8 446.7L124.3 446.6L124.7 446.6L125.2 446.6L125.6 446.7L126.1 446.9L126.5 447.2L127.0 447.5L127.4 447.9L127.8 448.4L128.3 448.9L128.7 449.5L129.2 450.0L129.6 450.6L130.1 451.1L130.5 451.7L131.0 452.3L131.4 452.8L131.9 453.2L132.3 453.5L132.7 453.8L133.2 454.1L133.6 454.3L134.1 454.3L134.5 454.3L135.0 454.3L135.4 454.1L135.9 453.9L136.3 453.7L136.8 453.3L137.2 452.9L137.7 452.5L138.1 452.0L138.5 451.5L139.0 450.9L139.4 450.4L139.9 449.8L140.3 449.2L140.8 448.6L141.2 448.1L141.7 447.6L142.1 447.1L142.6 446.8L143.0 446.5L143.4 446.2L143.9 446.0L144.3 445.8L144.8 445.7L145.2 445.7L145.7 445.7L146.1 445.8L146.6 446.0L147.0 446.3L147.5 446.6L147.9 446.9L148.4 447.3L148.8 447.7L149.2 448.2L149.7 448.8L150.1 449.3L150.6 449.9L151.0 450.5L151.5 451.1L151.9 451.6L152.4 452.1L152.8 452.5L153.3 452.9L153.7 453.4L154.2 453.8L154.6 454.2L155.0 454.5L155.5 454.7L155.9 454.9L156.4 455.1L156.8 455.1L157.3 455.1L157.7 455.1L158.2 455.0L158.6 454.9L159.1 454.6L159.5 454.3L159.9 453.9L160.4 453.6L160.8 453.2L161.3 452.8L161.7 452.3L162.2 451.8L162.6 451.4L163.1 450.8L163.5 450.3L164.0 449.7L164.4 449.2L164.9 448.7L165.3 448.3L165.7 447.8L166.2 447.3L166.6 446.8L167.1 446.5L167.5 446.1L168.0 445.8L168.4 445.5L168.9 445.3L169.3 445.1L169.8 445.0L170.2 445.0L170.6 445.0L171.1 445.0L171.5 445.0L172.0 445.2L172.4 445.3L172.9 445.4L173.3 445.7L173.8 446.0L174.2 446.3L174.7 446.7L175.1 447.0L175.6 447.4L176.0 447.8L176.4 448.3L176.9 448.8L177.3 449.3L177.8 449.8L178.2 450.3L178.7 450.8L179.1 451.2L179.6 451.7L180.0 452.2L180.5 452.6L180.9 453.0L181.4 453.4L181.8 453.8L182.2 454.1L182.7 454.4L183.1 454.7L183.6 454.9L184.0 455.1L184.5 455.3L184.9 455.4L185.4 455.5L185.8 455.6L186.3 455.5L186.7 455.5L187.1 455.4L187.6 455.4L188.0 455.2L188.5 455.1L188.9 454.9L189.4 454.6L189.8 454.4L190.3 454.1L190.7 453.7L191.2 453.2L191.6 452.8L192.1 452.5L192.5 452.1L192.9 451.7L193.4 451.2L193.8 450.8L194.3 450.4L194.7 449.9L195.2 449.4L195.6 449.0L196.1 448.7L196.5 448.2L197.0 447.8L197.4 447.4L197.8 447.0L198.3 446.7L198.7 446.4L199.2 446.0L199.6 445.7L200.1 445.4L200.5 445.2L201.0 445.0L201.4 444.7L201.9 444.5L202.3 444.4L202.8 444.4L203.2 444.4L203.6 444.3L204.1 444.3L204.5 444.4L205.0 444.5L205.4 444.6L205.9 444.6L206.3 444.7L206.8 444.9L207.2 445.1L207.7 445.4L208.1 445.8L208.6 446.0L209.0 446.2L209.4 446.5L209.9 446.9L210.3 447.2L210.8 447.5L211.2 447.9L211.7 448.3L212.1 448.8L212.6 449.1L213.0 449.5L213.5 449.9L213.9 450.3L214.3 450.7L214.8 451.1L215.2 451.5L215.7 451.8L216.1 452.2L216.6 452.5L217.0 452.8L217.5 453.2L217.9 453.6L218.4 453.9L218.8 454.1L219.3 454.4L219.7 454.7L220.1 454.8L220.6 455.0L221.0 455.2L221.5 455.5L221.9 455.5L222.4 455.6L222.8 455.7L223.3 455.9L223.7 455.9L224.2 455.9L224.6 455.9L225.0 455.9L225.5 455.8L225.9 455.7L226.4 455.6L226.8 455.5L227.3 455.4L227.7 455.3L228.2 455.1L228.6 454.9L229.1 454.7L229.5 454.5L230.0 454.2L230.4 454.0L230.8 453.7L231.3 453.4L231.7 453.1L232.2 452.9L232.6 452.5L233.1 452.1L233.5 451.7L234.0 451.4L234.4 451.1L234.9 450.8L235.3 450.4L235.8 450.1L236.2 449.7L236.6 449.3L237.1 448.9L237.5 448.6L238.0 448.3L238.4 448.0L238.9 447.7L239.3 447.3L239.8 446.9L240.2 446.6L240.7 446.4L241.1 446.2L241.5 445.9L242.0 445.6L242.4 445.5L242.9 445.3L243.3 445.0L243.8 444.8L244.2 444.6L244.7 444.5L245.1 444.4L245.6 444.3L246.0 444.2L246.5 444.0L246.9 444.0L247.3 443.9L247.8 443.9L248.2 443.9L248.7 443.9L249.1 443.8L249.6 443.8L250.0 443.9L250.5 444.0L250.9 444.1L251.4 444.1L251.8 444.3L252.2 444.4L252.7 444.5L253.1 444.7L253.6 444.9L254.0 445.1L254.5 445.2L254.9 445.4L255.4 445.7L255.8 445.9L256.3 446.1L256.7 446.4L257.2 446.7L257.6 447.0L258.0 447.3L258.5 447.6L258.9 447.9L259.4 448.2L259.8 448.4L260.3 448.7L260.7 449.0L261.2 449.4L261.6 449.7L262.1 449.9L262.5 450.2L263.0 450.5L263.4 450.8L263.8 451.1L264.3 451.4L264.7 451.7L265.2 452.0L265.6 452.3L266.1 452.5L266.5 452.8L267.0 453.1L267.4 453.3L267.9 453.5L268.3 453.7L268.7 454.0L269.2 454.2L269.6 454.3L270.1 454.6L270.5 454.8L271.0 455.0L271.4 455.1L271.9 455.3L272.3 455.4L272.8 455.5L273.2 455.6L273.7 455.7L274.1 455.9L274.5 455.9L275.0 456.0L275.4 456.1L275.9 456.1L276.3 456.1L276.8 456.2L277.2 456.2L277.7 456.1L278.1 456.1L278.6 456.0L279.0 456.0L279.4 456.0L279.9 455.9L280.3 455.8L280.8 455.7L281.2 455.6L281.7 455.5L282.1 455.4L282.6 455.3L283.0 455.0L283.5 454.9L283.9 454.7L284.4 454.6L284.8 454.5L285.2 454.3L285.7 454.0L286.1 453.8L286.6 453.6L287.0 453.4L287.5 453.1L287.9 452.9L288.4 452.7L288.8 452.5L289.3 452.2L289.7 452.0L290.2 451.7L290.6 451.5L291.0 451.2L291.5 451.0L291.9 450.7L292.4 450.5L292.8 450.3L293.3 450.0L293.7 449.7L294.2 449.4L294.6 449.2L295.1 449.0L295.5 448.7L295.9 448.4L296.4 448.2L296.8 448.0L297.3 447.8L297.7 447.5L298.2 447.3L298.6 447.2L299.1 446.9L299.5 446.6L300.0 446.3L300.4 446.1L300.9 445.9L301.3 445.7L301.7 445.4L302.2 445.1L302.6 445.0L303.1 444.9L303.5 444.9L304.0 444.8L304.4 444.6L304.9 444.4L305.3 444.4L305.8 444.3L306.2 444.1L306.6 444.1L307.1 444.0L307.5 443.9L308.0 443.5L308.4 443.5L308.9 443.5L309.3 443.7L309.8 443.6L310.2 443.6L310.7 443.5L311.1 443.7L311.6 443.5L312.0 443.5L312.4 443.5L312.9 443.5L313.3 443.4L313.8 443.4L314.2 443.4L314.7 443.3L315.1 443.4L315.6 443.6L316.0 443.8L316.5 443.8L316.9 444.1L317.3 444.4L317.8 444.4L318.2 444.4L318.7 444.5L319.1 444.6L319.6 444.5L320.0 444.7L320.5 444.9L320.9 445.2L321.4 445.3L321.8 445.3L322.3 445.5L322.7 445.7L323.1 445.8L323.6 445.9L324.0 446.0L324.5 446.2L324.9 446.4L325.4 446.7L325.8 446.9L326.3 447.1L326.7 447.1L327.2 447.3L327.6 447.6L328.1 447.9L328.5 448.1L328.9 448.2L329.4 448.6L329.8 449.0L330.3 449.3L330.7 449.4L331.2 449.6L331.6 449.7L332.1 449.8L332.5 450.3L333.0 450.8L333.4 451.0L333.8 450.8L334.3 450.9L334.7 451.3L335.2 451.7L335.6 451.9L336.1 452.0L336.5 452.2L337.0 452.4L337.4 452.5L337.9 452.6L338.3 452.5L338.8 452.9L339.2 453.2L339.6 453.4L340.1 453.4L340.5 453.5L341.0 453.5L341.4 453.4L341.9 453.6L342.3 453.7L342.8 454.0L343.2 454.2L343.7 454.2L344.1 454.2L344.5 454.3L345.0 454.4L345.4 454.7L345.9 455.0L346.3 455.2L346.8 454.9L347.2 454.9L347.7 454.9L348.1 455.1L348.6 455.1L349.0 455.3L349.5 455.2L349.9 455.1L350.3 455.6L350.8 455.8L351.2 455.8L351.7 455.7L352.1 455.9L352.6 456.1L353.0 455.8L353.5 455.4L353.9 455.8L354.4 456.2L354.8 456.2L355.3 455.6L355.7 455.8L356.1 455.7L356.6 455.6L357.0 455.5L357.5 455.7L357.9 455.7L358.4 455.5L358.8 455.2L359.3 454.7L359.7 454.8L360.2 454.8L360.6 455.0L361.0 455.0L361.5 455.2L361.9 455.2L362.4 454.9L362.8 454.9L363.3 454.8L363.7 454.6L364.2 454.6L364.6 454.5L365.1 454.2L365.5 453.8L366.0 453.9L366.4 453.8L366.8 453.8L367.3 453.8L367.7 454.2L368.2 453.9L368.6 453.6L369.1 453.0L369.5 452.7L370.0 452.6L370.4 452.8L370.9 452.7L371.3 452.6L371.7 452.2L372.2 452.0L372.6 451.9L373.1 452.0L373.5 452.1L374.0 452.0L374.4 452.0L374.9 451.5L375.3 450.9L375.8 450.6L376.2 450.7L376.7 450.7L377.1 450.8L377.5 450.7L378.0 450.4L378.4 450.3L378.9 450.2L379.3 449.9" fill="none" stroke="#c84848" stroke-width="1" stroke-linejoin="round"/>
<path d="M67.2 446.0L67.6 445.1L68.1 444.4L68.5 443.8L69.0 443.3L69.4 442.7L69.9 442.1L70.3 441.6L70.8 441.0L71.2 440.5L71.7 440.1L72.1 439.8L72.6 439.5L73.0 439.3L73.4 439.3L73.9 439.4L74.3 439.7L74.8 440.0L75.2 440.3L75.7 440.7L76.1 441.0L76.6 441.3L77.0 441.6L77.5 441.8L77.9 441.8L78.3 441.8L78.8 441.6L79.2 441.4L79.7 441.1L80.1 440.7L80.6 440.3L81.0 440.0L81.5 439.6L81.9 439.3L82.4 439.0L82.8 438.8L83.3 438.8L83.7 438.9L84.1 439.0L84.6 439.2L85.0 439.5L85.5 440.0L85.9 440.4L86.4 440.9L86.8 441.4L87.3 441.7L87.7 442.0L88.2 442.2L88.6 442.3L89.0 442.4L89.5 442.2L89.9 442.0L90.4 441.7L90.8 441.3L91.3 440.9L91.7 440.3L92.2 439.8L92.6 439.4L93.1 439.0L93.5 438.7L94.0 438.4L94.4 438.3L94.8 438.2L95.3 438.1L95.7 438.3L96.2 438.6L96.6 438.9L97.1 439.2L97.5 439.7L98.0 440.2L98.4 440.7L98.9 441.2L99.3 441.7L99.8 442.1L100.2 442.4L100.6 442.7L101.1 443.0L101.5 443.0L102.0 443.0L102.4 442.8L102.9 442.5L103.3 442.1L103.8 441.7L104.2 441.2L104.7 440.8L105.1 440.3L105.5 439.7L106.0 439.1L106.4 438.6L106.9 438.2L107.3 437.9L107.8 437.5L108.2 437.3L108.7 437.3L109.1 437.3L109.6 437.4L110.0 437.6L110.5 437.9L110.9 438.3L111.3 438.8L111.8 439.3L112.2 439.9L112.7 440.4L113.1 441.0L113.6 441.6L114.0 442.1L114.5 442.5L114.9 442.9L115.4 443.2L115.8 443.5L116.2 443.6L116.7 443.7L117.1 443.7L117.6 443.5L118.0 443.2L118.5 443.0L118.9 442.6L119.4 442.1L119.8 441.6L120.3 441.1L120.7 440.5L121.2 440.0L121.6 439.4L122.0 438.8L122.5 438.3L122.9 437.8L123.4 437.4L123.8 437.0L124.3 436.8L124.7 436.6L125.2 436.5L125.6 436.6L126.1 436.7L126.5 436.8L127.0 437.0L127.4 437.3L127.8 437.7L128.3 438.2L128.7 438.6L129.2 439.1L129.6 439.7L130.1 440.4L130.5 440.9L131.0 441.4L131.4 442.0L131.9 442.5L132.3 443.0L132.7 443.4L133.2 443.7L133.6 444.0L134.1 444.2L134.5 444.3L135.0 444.4L135.4 444.4L135.9 444.3L136.3 444.1L136.8 443.9L137.2 443.6L137.7 443.1L138.1 442.7L138.5 442.3L139.0 441.8L139.4 441.3L139.9 440.7L140.3 440.2L140.8 439.6L141.2 439.1L141.7 438.6L142.1 438.0L142.6 437.6L143.0 437.1L143.4 436.7L143.9 436.4L144.3 436.1L144.8 435.9L145.2 435.7L145.7 435.7L146.1 435.7L146.6 435.7L147.0 435.9L147.5 436.1L147.9 436.4L148.4 436.7L148.8 437.0L149.2 437.4L149.7 437.8L150.1 438.3L150.6 438.9L151.0 439.4L151.5 440.0L151.9 440.5L152.4 441.1L152.8 441.7L153.3 442.2L153.7 442.7L154.2 443.1L154.6 443.6L155.0 443.9L155.5 444.3L155.9 444.6L156.4 444.9L156.8 445.0L157.3 445.1L157.7 445.2L158.2 445.2L158.6 445.1L159.1 445.0L159.5 444.9L159.9 444.6L160.4 444.3L160.8 444.0L161.3 443.7L161.7 443.2L162.2 442.8L162.6 442.3L163.1 441.8L163.5 441.3L164.0 440.8L164.4 440.2L164.9 439.6L165.3 439.2L165.7 438.7L166.2 438.1L166.6 437.7L167.1 437.3L167.5 436.9L168.0 436.6L168.4 436.2L168.9 435.9L169.3 435.5L169.8 435.3L170.2 435.1L170.6 435.0L171.1 434.9L171.5 434.8L172.0 434.8L172.4 435.0L172.9 435.1L173.3 435.3L173.8 435.5L174.2 435.7L174.7 436.0L175.1 436.3L175.6 436.6L176.0 437.0L176.4 437.5L176.9 438.0L177.3 438.4L177.8 438.9L178.2 439.4L178.7 439.9L179.1 440.3L179.6 440.7L180.0 441.2L180.5 441.7L180.9 442.2L181.4 442.6L181.8 443.0L182.2 443.4L182.7 443.7L183.1 444.0L183.6 444.3L184.0 444.6L184.5 444.9L184.9 445.1L185.4 445.2L185.8 445.4L186.3 445.5L186.7 445.6L187.1 445.6L187.6 445.5L188.0 445.5L188.5 445.4L188.9 445.3L189.4 445.1L189.8 444.9L190.3 444.7L190.7 444.4L191.2 444.1L191.6 443.8L192.1 443.4L192.5 443.0L192.9 442.6L193.4 442.2L193.8 441.8L194.3 441.4L194.7 440.9L195.2 440.5L195.6 440.0L196.1 439.6L196.5 439.2L197.0 438.8L197.4 438.3L197.8 437.9L198.3 437.5L198.7 437.1L199.2 436.7L199.6 436.3L200.1 435.9L200.5 435.7L201.0 435.5L201.4 435.3L201.9 435.0L202.3 434.8L202.8 434.7L203.2 434.5L203.6 434.4L204.1 434.3L204.5 434.3L205.0 434.2L205.4 434.3L205.9 434.3L206.3 434.4L206.8 434.6L207.2 434.7L207.7 434.9L208.1 435.1L208.6 435.3L209.0 435.5L209.4 435.8L209.9 436.1L210.3 436.5L210.8 436.8L211.2 437.1L211.7 437.4L212.1 437.8L212.6 438.2L213.0 438.5L213.5 438.9L213.9 439.4L214.3 439.7L214.8 440.0L215.2 440.4L215.7 440.8L216.1 441.3L216.6 441.7L217.0 442.0L217.5 442.3L217.9 442.7L218.4 443.1L218.8 443.4L219.3 443.7L219.7 444.0L220.1 444.3L220.6 444.5L221.0 444.7L221.5 445.0L221.9 445.2L222.4 445.4L222.8 445.5L223.3 445.6L223.7 445.7L224.2 445.8L224.6 445.9L225.0 445.9L225.5 445.9L225.9 445.8L226.4 445.8L226.8 445.7L227.3 445.6L227.7 445.5L228.2 445.4L228.6 445.3L229.1 445.2L229.5 445.0L230.0 444.9L230.4 444.6L230.8 444.4L231.3 444.1L231.7 443.9L232.2 443.7L232.6 443.4L233.1 443.0L233.5 442.7L234.0 442.3L234.4 442.0L234.9 441.7L235.3 441.3L235.8 441.0L236.2 440.6L236.6 440.2L237.1 439.8L237.5 439.5L238.0 439.1L238.4 438.8L238.9 438.5L239.3 438.2L239.8 437.8L240.2 437.5L240.7 437.2L241.1 436.8L241.5 436.6L242.0 436.3L242.4 436.1L242.9 435.8L243.3 435.6L243.8 435.3L244.2 435.1L244.7 434.9L245.1 434.7L245.6 434.5L246.0 434.3L246.5 434.2L246.9 434.1L247.3 434.0L247.8 433.9L248.2 433.9L248.7 433.9L249.1 433.9L249.6 433.9L250.0 433.9L250.5 433.8L250.9 433.9L251.4 433.9L251.8 434.0L252.2 434.1L252.7 434.2L253.1 434.2L253.6 434.4L254.0 434.5L254.5 434.7L254.9 434.9L255.4 435.2L255.8 435.4L256.3 435.6L256.7 435.8L257.2 436.0L257.6 436.3L258.0 436.5L258.5 436.7L258.9 437.0L259.4 437.4L259.8 437.7L260.3 437.8L260.7 438.1L261.2 438.4L261.6 438.7L262.1 439.0L262.5 439.4L263.0 439.6L263.4 439.8L263.8 440.1L264.3 440.4L264.7 440.8L265.2 441.1L265.6 441.3L266.1 441.6L266.5 441.9L267.0 442.2L267.4 442.5L267.9 442.8L268.3 443.1L268.7 443.3L269.2 443.5L269.6 443.8L270.1 444.0L270.5 444.2L271.0 444.5L271.4 444.7L271.9 444.8L272.3 445.0L272.8 445.1L273.2 445.2L273.7 445.3L274.1 445.5L274.5 445.6L275.0 445.7L275.4 445.8L275.9 445.9L276.3 445.9L276.8 446.0L277.2 446.0L277.7 446.1L278.1 446.1L278.6 446.1L279.0 446.1L279.4 446.0L279.9 445.9L280.3 445.9L280.8 445.9L281.2 445.9L281.7 445.8L282.1 445.6L282.6 445.5L283.0 445.4L283.5 445.3L283.9 445.1L284.4 444.9L284.8 444.9L285.2 444.7L285.7 444.6L286.1 444.4L286.6 444.2L287.0 444.0L287.5 443.8L287.9 443.6L288.4 443.4L288.8 443.2L289.3 443.0L289.7 442.7L290.2 442.4L290.6 442.2L291.0 442.0L291.5 441.7L291.9 441.5L292.4 441.2L292.8 441.0L293.3 440.7L293.7 440.4L294.2 440.2L294.6 440.0L295.1 439.8L295.5 439.6L295.9 439.3L296.4 439.0L296.8 438.7L297.3 438.5L297.7 438.3L298.2 438.0L298.6 437.8L299.1 437.6L299.5 437.4L300.0 437.1L300.4 436.8L300.9 436.5L301.3 436.2L301.7 436.1L302.2 436.0L302.6 435.7L303.1 435.7L303.5 435.5L304.0 435.5L304.4 435.2L304.9 434.9L305.3 434.6L305.8 434.5L306.2 434.4L306.6 434.2L307.1 434.0L307.5 434.0L308.0 433.9L308.4 433.7L308.9 433.6L309.3 433.5L309.8 433.5L310.2 433.5L310.7 433.8L311.1 433.9L311.6 433.7L312.0 433.4L312.4 433.3L312.9 433.3L313.3 433.4L313.8 433.5L314.2 433.6L314.7 433.5L315.1 433.7L315.6 433.6L316.0 433.6L316.5 433.5L316.9 433.8L317.3 433.7L317.8 433.6L318.2 433.6L318.7 433.9L319.1 434.0L319.6 433.9L320.0 434.1L320.5 434.5L320.9 434.7L321.4 434.6L321.8 434.6L322.3 435.0L322.7 435.4L323.1 435.6L323.6 435.6L324.0 436.0L324.5 436.3L324.9 436.2L325.4 436.0L325.8 436.1L326.3 436.3L326.7 436.4L327.2 436.6L327.6 436.7L328.1 437.0L328.5 437.3L328.9 437.5L329.4 437.4L329.8 437.5L330.3 438.0L330.7 438.5L331.2 438.8L331.6 438.4L332.1 438.4L332.5 438.6L333.0 439.2L333.4 439.3L333.8 439.5L334.3 439.7L334.7 440.4L335.2 440.9L335.6 441.1L336.1 440.9L336.5 440.9L337.0 441.2L337.4 441.3L337.9 441.5L338.3 441.8L338.8 442.2L339.2 442.5L339.6 442.7L340.1 442.8L340.5 442.7L341.0 442.4L341.4 442.3L341.9 442.7L342.3 443.2L342.8 443.6L343.2 443.7L343.7 443.6L344.1 443.7L344.5 444.2L345.0 444.4L345.4 444.3L345.9 444.5L346.3 444.8L346.8 444.8L347.2 444.3L347.7 444.5L348.1 444.9L348.6 445.3L349.0 445.1L349.5 444.8L349.9 444.8L350.3 445.0L350.8 445.4L351.2 445.4L351.7 445.5L352.1 445.6L352.6 445.9L353.0 445.6L353.5 445.6L353.9 445.7L354.4 445.9L354.8 445.6L355.3 445.2L355.7 445.4L356.1 445.4L356.6 445.1L357.0 445.1L357.5 445.2L357.9 445.5L358.4 445.3L358.8 445.0L359.3 444.7L359.7 445.2L360.2 445.4L360.6 445.4L361.0 445.2L361.5 445.1L361.9 445.1L362.4 445.2L362.8 445.3L363.3 444.8L363.7 444.2L364.2 443.6L364.6 443.7L365.1 444.0L365.5 444.5L366.0 444.7L366.4 444.7L366.8 444.3L367.3 444.0L367.7 444.3L368.2 444.1L368.6 443.9L369.1 443.6L369.5 443.5L370.0 443.4L370.4 443.2L370.9 442.9L371.3 442.7L371.7 442.8L372.2 442.7L372.6 442.5L373.1 442.4L373.5 442.3L374.0 442.2L374.4 442.2L374.9 442.3L375.3 442.3L375.8 442.2L376.2 441.8L376.7 441.4L377.1 441.0L377.5 441.3L378.0 441.3L378.4 441.1L378.9 440.8L379.3 440.7" fill="none" stroke="#a8a840" stroke-width="1" stroke-linejoin="round"/>
<path d="M67.2 435.7L67.6 434.8L68.1 434.2L68.5 433.6L69.0 433.2L69.4 432.8L69.9 432.5L70.3 432.0L70.8 431.5L71.2 430.9L71.7 430.4L72.1 430.0L72.6 429.7L73.0 429.4L73.4 429.3L73.9 429.3L74.3 429.3L74.8 429.6L75.2 429.8L75.7 430.2L76.1 430.7L76.6 431.1L77.0 431.4L77.5 431.6L77.9 431.9L78.3 431.9L78.8 431.9L79.2 431.7L79.7 431.5L80.1 431.2L80.6 430.8L81.0 430.3L81.5 429.9L81.9 429.5L82.4 429.2L82.8 429.0L83.3 428.8L83.7 428.8L84.1 428.7L84.6 428.9L85.0 429.2L85.5 429.6L85.9 430.0L86.4 430.5L86.8 431.0L87.3 431.4L87.7 431.8L88.2 432.1L88.6 432.3L89.0 432.3L89.5 432.3L89.9 432.3L90.4 432.1L90.8 431.9L91.3 431.4L91.7 430.9L92.2 430.4L92.6 430.0L93.1 429.5L93.5 429.1L94.0 428.7L94.4 428.4L94.8 428.2L95.3 428.1L95.7 428.1L96.2 428.3L96.6 428.5L97.1 428.8L97.5 429.2L98.0 429.7L98.4 430.3L98.9 430.8L99.3 431.3L99.8 431.8L100.2 432.2L100.6 432.6L101.1 432.9L101.5 433.0L102.0 433.1L102.4 433.0L102.9 432.9L103.3 432.6L103.8 432.2L104.2 431.8L104.7 431.4L105.1 430.8L105.5 430.3L106.0 429.7L106.4 429.2L106.9 428.7L107.3 428.3L107.8 427.9L108.2 427.6L108.7 427.4L109.1 427.3L109.6 427.3L110.0 427.4L110.5 427.6L110.9 428.0L111.3 428.4L111.8 428.8L112.2 429.2L112.7 429.7L113.1 430.3L113.6 431.0L114.0 431.6L114.5 432.1L114.9 432.6L115.4 433.0L115.8 433.3L116.2 433.5L116.7 433.6L117.1 433.7L117.6 433.7L118.0 433.7L118.5 433.4L118.9 433.1L119.4 432.7L119.8 432.3L120.3 431.7L120.7 431.1L121.2 430.6L121.6 430.0L122.0 429.5L122.5 429.0L122.9 428.4L123.4 428.0L123.8 427.5L124.3 427.2L124.7 426.9L125.2 426.7L125.6 426.5L126.1 426.5L126.5 426.5L127.0 426.7L127.4 426.9L127.8 427.3L128.3 427.6L128.7 428.1L129.2 428.5L129.6 429.1L130.1 429.6L130.5 430.2L131.0 430.7L131.4 431.3L131.9 431.8L132.3 432.4L132.7 432.8L133.2 433.2L133.6 433.6L134.1 433.9L134.5 434.1L135.0 434.3L135.4 434.4L135.9 434.4L136.3 434.3L136.8 434.2L137.2 434.1L137.7 433.8L138.1 433.4L138.5 432.9L139.0 432.6L139.4 432.0L139.9 431.5L140.3 430.9L140.8 430.4L141.2 429.8L141.7 429.2L142.1 428.7L142.6 428.1L143.0 427.6L143.4 427.2L143.9 426.8L144.3 426.5L144.8 426.2L145.2 425.9L145.7 425.8L146.1 425.7L146.6 425.7L147.0 425.7L147.5 425.8L147.9 426.0L148.4 426.2L148.8 426.5L149.2 426.9L149.7 427.3L150.1 427.7L150.6 428.1L151.0 428.6L151.5 429.2L151.9 429.8L152.4 430.3L152.8 430.8L153.3 431.4L153.7 431.9L154.2 432.4L154.6 432.9L155.0 433.3L155.5 433.8L155.9 434.2L156.4 434.5L156.8 434.8L157.3 435.0L157.7 435.2L158.2 435.2L158.6 435.2L159.1 435.2L159.5 435.1L159.9 435.0L160.4 434.8L160.8 434.6L161.3 434.2L161.7 433.9L162.2 433.5L162.6 433.0L163.1 432.6L163.5 432.0L164.0 431.6L164.4 431.0L164.9 430.5L165.3 430.0L165.7 429.5L166.2 428.9L166.6 428.5L167.1 427.9L167.5 427.4L168.0 427.0L168.4 426.7L168.9 426.3L169.3 426.0L169.8 425.7L170.2 425.5L170.6 425.2L171.1 425.1L171.5 425.0L172.0 425.0L172.4 425.0L172.9 425.1L173.3 425.1L173.8 425.2L174.2 425.4L174.7 425.6L175.1 425.8L175.6 426.1L176.0 426.5L176.4 426.9L176.9 427.2L177.3 427.6L177.8 428.0L178.2 428.5L178.7 428.9L179.1 429.4L179.6 429.9L180.0 430.4L180.5 430.9L180.9 431.3L181.4 431.8L181.8 432.3L182.2 432.7L182.7 433.1L183.1 433.5L183.6 433.9L184.0 434.2L184.5 434.5L184.9 434.8L185.4 435.0L185.8 435.2L186.3 435.3L186.7 435.5L187.1 435.6L187.6 435.6L188.0 435.6L188.5 435.6L188.9 435.5L189.4 435.4L189.8 435.2L190.3 435.1L190.7 434.9L191.2 434.6L191.6 434.3L192.1 434.0L192.5 433.7L192.9 433.4L193.4 433.0L193.8 432.6L194.3 432.1L194.7 431.7L195.2 431.3L195.6 430.9L196.1 430.5L196.5 430.1L197.0 429.6L197.4 429.1L197.8 428.7L198.3 428.2L198.7 427.9L199.2 427.5L199.6 427.1L200.1 426.7L200.5 426.4L201.0 426.0L201.4 425.7L201.9 425.5L202.3 425.2L202.8 424.9L203.2 424.8L203.6 424.7L204.1 424.6L204.5 424.4L205.0 424.4L205.4 424.3L205.9 424.4L206.3 424.4L206.8 424.4L207.2 424.5L207.7 424.7L208.1 424.8L208.6 424.9L209.0 425.1L209.4 425.4L209.9 425.6L210.3 425.8L210.8 426.1L211.2 426.4L211.7 426.8L212.1 427.1L212.6 427.5L213.0 427.8L213.5 428.2L213.9 428.6L214.3 429.0L214.8 429.4L215.2 429.8L215.7 430.2L216.1 430.6L216.6 431.0L217.0 431.3L217.5 431.6L217.9 432.0L218.4 432.4L218.8 432.7L219.3 433.1L219.7 433.5L220.1 433.7L220.6 434.0L221.0 434.3L221.5 434.6L221.9 434.8L222.4 435.0L222.8 435.1L223.3 435.3L223.7 435.4L224.2 435.5L224.6 435.7L225.0 435.8L225.5 435.9L225.9 436.0L226.4 436.0L226.8 436.0L227.3 435.9L227.7 435.8L228.2 435.7L228.6 435.6L229.1 435.5L229.5 435.3L230.0 435.2L230.4 435.1L230.8 434.9L231.3 434.6L231.7 434.3L232.2 434.1L232.6 433.8L233.1 433.6L233.5 433.3L234.0 433.0L234.4 432.7L234.9 432.5L235.3 432.1L235.8 431.7L236.2 431.4L236.6 431.1L237.1 430.7L237.5 430.3L238.0 429.9L238.4 429.6L238.9 429.2L239.3 428.9L239.8 428.6L240.2 428.2L240.7 427.9L241.1 427.5L241.5 427.2L242.0 426.9L242.4 426.7L242.9 426.3L243.3 426.1L243.8 425.8L244.2 425.5L244.7 425.3L245.1 425.1L245.6 424.9L246.0 424.7L246.5 424.5L246.9 424.4L247.3 424.3L247.8 424.2L248.2 424.1L248.7 424.0L249.1 423.9L249.6 423.8L250.0 423.8L250.5 423.8L250.9 423.8L251.4 423.8L251.8 423.9L252.2 423.9L252.7 424.0L253.1 424.1L253.6 424.2L254.0 424.3L254.5 424.4L254.9 424.5L255.4 424.7L255.8 424.9L256.3 425.1L256.7 425.2L257.2 425.4L257.6 425.6L258.0 425.9L258.5 426.2L258.9 426.4L259.4 426.7L259.8 426.9L260.3 427.2L260.7 427.5L261.2 427.7L261.6 428.0L262.1 428.3L262.5 428.6L263.0 428.9L263.4 429.2L263.8 429.5L264.3 429.8L264.7 430.1L265.2 430.4L265.6 430.7L266.1 431.0L266.5 431.2L267.0 431.5L267.4 431.8L267.9 432.0L268.3 432.3L268.7 432.7L269.2 433.0L269.6 433.2L270.1 433.5L270.5 433.6L271.0 433.9L271.4 434.1L271.9 434.4L272.3 434.6L272.8 434.7L273.2 434.8L273.7 434.9L274.1 435.1L274.5 435.3L275.0 435.5L275.4 435.5L275.9 435.7L276.3 435.8L276.8 435.9L277.2 436.0L277.7 436.1L278.1 436.1L278.6 436.0L279.0 436.1L279.4 436.1L279.9 436.1L280.3 436.0L280.8 435.9L281.2 436.0L281.7 435.9L282.1 435.9L282.6 435.8L283.0 435.7L283.5 435.6L283.9 435.5L284.4 435.4L284.8 435.2L285.2 435.1L285.7 435.0L286.1 434.9L286.6 434.7L287.0 434.5L287.5 434.3L287.9 434.1L288.4 434.0L288.8 433.8L289.3 433.5L289.7 433.3L290.2 433.1L290.6 432.8L291.0 432.5L291.5 432.2L291.9 432.0L292.4 431.9L292.8 431.6L293.3 431.4L293.7 431.1L294.2 430.9L294.6 430.6L295.1 430.4L295.5 430.1L295.9 429.9L296.4 429.6L296.8 429.3L297.3 429.1L297.7 428.9L298.2 428.6L298.6 428.4L299.1 428.1L299.5 427.8L300.0 427.6L300.4 427.4L300.9 427.1L301.3 426.8L301.7 426.6L302.2 426.4L302.6 426.3L303.1 426.2L303.5 426.0L304.0 425.6L304.4 425.3L304.9 425.1L305.3 424.9L305.8 424.8L306.2 424.8L306.6 424.7L307.1 424.4L307.5 424.3L308.0 424.1L308.4 424.0L308.9 423.9L309.3 424.0L309.8 423.9L310.2 423.8L310.7 423.6L311.1 423.7L311.6 423.5L312.0 423.5L312.4 423.4L312.9 423.3L313.3 423.2L313.8 423.3L314.2 423.4L314.7 423.6L315.1 423.6L315.6 423.4L316.0 423.1L316.5 423.0L316.9 423.2L317.3 423.4L317.8 423.5L318.2 423.5L318.7 423.5L319.1 423.7L319.6 424.0L320.0 424.2L320.5 424.4L320.9 424.5L321.4 424.6L321.8 424.6L322.3 424.4L322.7 424.6L323.1 424.9L323.6 425.3L324.0 425.4L324.5 425.4L324.9 425.3L325.4 425.3L325.8 425.5L326.3 426.0L326.7 426.1L327.2 425.9L327.6 426.1L328.1 426.5L328.5 426.8L328.9 426.8L329.4 427.2L329.8 427.5L330.3 427.9L330.7 428.1L331.2 428.2L331.6 428.4L332.1 428.8L332.5 429.2L333.0 429.2L333.4 429.0L333.8 429.0L334.3 429.3L334.7 429.6L335.2 429.8L335.6 430.0L336.1 430.3L336.5 430.6L337.0 430.7L337.4 431.0L337.9 431.0L338.3 431.3L338.8 431.6L339.2 431.9L339.6 432.0L340.1 432.3L340.5 432.5L341.0 432.6L341.4 432.6L341.9 432.4L342.3 432.5L342.8 432.7L343.2 433.0L343.7 433.5L344.1 433.6L344.5 433.6L345.0 433.6L345.4 434.3L345.9 434.6L346.3 434.3L346.8 434.0L347.2 434.0L347.7 434.4L348.1 434.9L348.6 435.0L349.0 435.1L349.5 435.0L349.9 435.0L350.3 435.1L350.8 435.0L351.2 435.0L351.7 435.0L352.1 435.2L352.6 435.1L353.0 434.9L353.5 435.0L353.9 435.4L354.4 435.5L354.8 435.3L355.3 435.2L355.7 435.7L356.1 435.6L356.6 435.9L357.0 435.6L357.5 435.8L357.9 435.5L358.4 435.5L358.8 435.6L359.3 435.8L359.7 435.8L360.2 435.4L360.6 435.6L361.0 436.0L361.5 436.0L361.9 435.5L362.4 435.3L362.8 435.2L363.3 435.4L363.7 435.2L364.2 435.0L364.6 434.6L365.1 434.9L365.5 435.2L366.0 435.3L366.4 435.0L366.8 434.8L367.3 434.7L367.7 434.3L368.2 434.1L368.6 434.2L369.1 434.2L369.5 434.1L370.0 434.1L370.4 433.6L370.9 433.2L371.3 433.1L371.7 433.6L372.2 433.5L372.6 433.3L373.1 432.9L373.5 432.8L374.0 432.5L374.4 432.2L374.9 432.0L375.3 432.3L375.8 432.7L376.2 432.4L376.7 431.7L377.1 431.0L377.5 431.0L378.0 430.9L378.4 430.9L378.9 431.1L379.3 431.1" fill="none" stroke="#4890cc" stroke-width="1" stroke-linejoin="round"/>
<path d="M67.2 425.4L67.6 424.5L68.1 424.0L68.5 423.7L69.0 423.3L69.4 422.9L69.9 422.5L70.3 422.2L70.8 421.8L71.2 421.3L71.7 420.8L72.1 420.4L72.6 420.0L73.0 419.7L73.4 419.5L73.9 419.3L74.3 419.3L74.8 419.4L75.2 419.7L75.7 420.0L76.1 420.4L76.6 420.8L77.0 421.2L77.5 421.6L77.9 421.8L78.3 421.9L78.8 421.9L79.2 421.8L79.7 421.7L80.1 421.4L80.6 421.1L81.0 420.7L81.5 420.3L81.9 419.9L82.4 419.6L82.8 419.3L83.3 419.0L83.7 418.9L84.1 418.8L84.6 419.0L85.0 419.2L85.5 419.4L85.9 419.7L86.4 420.2L86.8 420.7L87.3 421.1L87.7 421.5L88.2 421.9L88.6 422.2L89.0 422.3L89.5 422.4L89.9 422.4L90.4 422.3L90.8 422.1L91.3 421.8L91.7 421.4L92.2 420.9L92.6 420.5L93.1 420.0L93.5 419.5L94.0 419.1L94.4 418.7L94.8 418.4L95.3 418.2L95.7 418.1L96.2 418.2L96.6 418.3L97.1 418.6L97.5 418.9L98.0 419.4L98.4 419.8L98.9 420.4L99.3 420.9L99.8 421.4L100.2 421.9L100.6 422.3L101.1 422.5L101.5 422.8L102.0 423.0L102.4 423.1L102.9 423.1L103.3 422.9L103.8 422.6L104.2 422.2L104.7 421.9L105.1 421.4L105.5 420.9L106.0 420.3L106.4 419.8L106.9 419.3L107.3 418.8L107.8 418.3L108.2 417.9L108.7 417.6L109.1 417.4L109.6 417.3L110.0 417.3L110.5 417.4L110.9 417.7L111.3 418.0L111.8 418.4L112.2 418.8L112.7 419.3L113.1 419.9L113.6 420.6L114.0 421.2L114.5 421.7L114.9 422.1L115.4 422.5L115.8 422.9L116.2 423.3L116.7 423.5L117.1 423.7L117.6 423.8L118.0 423.8L118.5 423.6L118.9 423.5L119.4 423.1L119.8 422.7L120.3 422.3L120.7 421.8L121.2 421.3L121.6 420.7L122.0 420.1L122.5 419.6L122.9 419.0L123.4 418.5L123.8 418.0L124.3 417.6L124.7 417.2L125.2 416.8L125.6 416.7L126.1 416.6L126.5 416.6L127.0 416.6L127.4 416.8L127.8 417.0L128.3 417.2L128.7 417.6L129.2 418.0L129.6 418.5L130.1 419.0L130.5 419.6L131.0 420.1L131.4 420.7L131.9 421.3L132.3 421.9L132.7 422.4L133.2 422.8L133.6 423.2L134.1 423.6L134.5 424.0L135.0 424.2L135.4 424.4L135.9 424.5L136.3 424.5L136.8 424.4L137.2 424.3L137.7 424.1L138.1 423.8L138.5 423.5L139.0 423.1L139.4 422.6L139.9 422.1L140.3 421.6L140.8 421.1L141.2 420.5L141.7 419.9L142.1 419.3L142.6 418.9L143.0 418.3L143.4 417.7L143.9 417.3L144.3 416.9L144.8 416.5L145.2 416.2L145.7 416.0L146.1 415.9L146.6 415.8L147.0 415.8L147.5 415.7L147.9 415.8L148.4 415.9L148.8 416.2L149.2 416.5L149.7 416.8L150.1 417.2L150.6 417.6L151.0 418.1L151.5 418.6L151.9 419.1L152.4 419.7L152.8 420.2L153.3 420.7L153.7 421.2L154.2 421.7L154.6 422.3L155.0 422.9L155.5 423.4L155.9 423.8L156.4 424.1L156.8 424.4L157.3 424.7L157.7 425.0L158.2 425.2L158.6 425.4L159.1 425.4L159.5 425.4L159.9 425.2L160.4 425.0L160.8 424.8L161.3 424.6L161.7 424.3L162.2 424.0L162.6 423.5L163.1 423.1L163.5 422.7L164.0 422.2L164.4 421.8L164.9 421.2L165.3 420.7L165.7 420.2L166.2 419.7L166.6 419.2L167.1 418.7L167.5 418.1L168.0 417.6L168.4 417.2L168.9 416.8L169.3 416.5L169.8 416.1L170.2 415.8L170.6 415.5L171.1 415.3L171.5 415.1L172.0 414.9L172.4 414.9L172.9 414.9L173.3 415.0L173.8 415.1L174.2 415.2L174.7 415.4L175.1 415.6L175.6 415.8L176.0 416.1L176.4 416.4L176.9 416.7L177.3 417.1L177.8 417.6L178.2 418.0L178.7 418.4L179.1 418.8L179.6 419.3L180.0 419.8L180.5 420.3L180.9 420.8L181.4 421.2L181.8 421.7L182.2 422.2L182.7 422.7L183.1 423.0L183.6 423.3L184.0 423.7L184.5 424.1L184.9 424.4L185.4 424.7L185.8 424.9L186.3 425.1L186.7 425.2L187.1 425.4L187.6 425.5L188.0 425.6L188.5 425.7L188.9 425.7L189.4 425.6L189.8 425.5L190.3 425.3L190.7 425.1L191.2 424.9L191.6 424.8L192.1 424.5L192.5 424.2L192.9 423.8L193.4 423.5L193.8 423.2L194.3 422.8L194.7 422.4L195.2 422.0L195.6 421.5L196.1 421.0L196.5 420.5L197.0 420.1L197.4 419.6L197.8 419.2L198.3 418.8L198.7 418.4L199.2 418.0L199.6 417.6L200.1 417.2L200.5 416.8L201.0 416.5L201.4 416.1L201.9 415.8L202.3 415.5L202.8 415.2L203.2 415.0L203.6 414.8L204.1 414.7L204.5 414.7L205.0 414.6L205.4 414.5L205.9 414.4L206.3 414.4L206.8 414.4L207.2 414.4L207.7 414.5L208.1 414.5L208.6 414.7L209.0 414.9L209.4 415.0L209.9 415.2L210.3 415.5L210.8 415.8L211.2 416.1L211.7 416.2L212.1 416.5L212.6 416.9L213.0 417.3L213.5 417.6L213.9 417.9L214.3 418.3L214.8 418.7L215.2 419.1L215.7 419.6L216.1 419.9L216.6 420.3L217.0 420.6L217.5 421.1L217.9 421.4L218.4 421.9L218.8 422.2L219.3 422.6L219.7 422.9L220.1 423.2L220.6 423.6L221.0 423.8L221.5 424.1L221.9 424.3L222.4 424.5L222.8 424.8L223.3 425.0L223.7 425.3L224.2 425.5L224.6 425.6L225.0 425.7L225.5 425.8L225.9 425.9L226.4 425.9L226.8 425.9L227.3 425.9L227.7 425.8L228.2 425.8L228.6 425.7L229.1 425.7L229.5 425.5L230.0 425.4L230.4 425.3L230.8 425.2L231.3 425.0L231.7 424.8L232.2 424.5L232.6 424.2L233.1 423.9L233.5 423.6L234.0 423.3L234.4 423.1L234.9 422.8L235.3 422.5L235.8 422.2L236.2 421.9L236.6 421.5L237.1 421.1L237.5 420.8L238.0 420.5L238.4 420.2L238.9 419.8L239.3 419.4L239.8 419.2L240.2 418.8L240.7 418.5L241.1 418.1L241.5 417.8L242.0 417.4L242.4 417.1L242.9 416.8L243.3 416.6L243.8 416.3L244.2 416.1L244.7 415.7L245.1 415.5L245.6 415.3L246.0 415.1L246.5 414.8L246.9 414.6L247.3 414.5L247.8 414.3L248.2 414.3L248.7 414.2L249.1 414.1L249.6 414.0L250.0 413.9L250.5 413.8L250.9 413.8L251.4 413.8L251.8 413.8L252.2 413.8L252.7 413.9L253.1 413.9L253.6 414.0L254.0 414.0L254.5 414.2L254.9 414.3L255.4 414.4L255.8 414.5L256.3 414.7L256.7 414.9L257.2 415.0L257.6 415.3L258.0 415.5L258.5 415.8L258.9 416.0L259.4 416.3L259.8 416.5L260.3 416.7L260.7 416.9L261.2 417.2L261.6 417.5L262.1 417.8L262.5 418.1L263.0 418.3L263.4 418.6L263.8 418.9L264.3 419.3L264.7 419.6L265.2 419.8L265.6 420.1L266.1 420.4L266.5 420.7L267.0 421.0L267.4 421.3L267.9 421.6L268.3 421.9L268.7 422.1L269.2 422.4L269.6 422.7L270.1 423.0L270.5 423.3L271.0 423.5L271.4 423.6L271.9 423.8L272.3 424.1L272.8 424.2L273.2 424.4L273.7 424.7L274.1 424.9L274.5 425.0L275.0 425.2L275.4 425.3L275.9 425.4L276.3 425.5L276.8 425.6L277.2 425.7L277.7 425.8L278.1 425.9L278.6 425.9L279.0 426.0L279.4 426.1L279.9 426.1L280.3 426.0L280.8 426.1L281.2 426.1L281.7 426.0L282.1 425.9L282.6 425.8L283.0 425.8L283.5 425.8L283.9 425.7L284.4 425.6L284.8 425.5L285.2 425.4L285.7 425.2L286.1 425.0L286.6 424.9L287.0 424.7L287.5 424.6L287.9 424.4L288.4 424.2L288.8 424.0L289.3 423.8L289.7 423.7L290.2 423.5L290.6 423.3L291.0 423.1L291.5 422.9L291.9 422.6L292.4 422.3L292.8 422.0L293.3 421.7L293.7 421.5L294.2 421.2L294.6 421.1L295.1 420.9L295.5 420.7L295.9 420.4L296.4 420.1L296.8 419.9L297.3 419.6L297.7 419.3L298.2 419.0L298.6 418.9L299.1 418.7L299.5 418.5L300.0 418.1L300.4 417.7L300.9 417.6L301.3 417.5L301.7 417.3L302.2 417.1L302.6 416.9L303.1 416.5L303.5 416.1L304.0 415.9L304.4 415.9L304.9 415.8L305.3 415.5L305.8 415.2L306.2 414.9L306.6 414.7L307.1 414.5L307.5 414.3L308.0 414.2L308.4 414.2L308.9 414.3L309.3 414.2L309.8 414.0L310.2 413.8L310.7 413.8L311.1 413.7L311.6 413.6L312.0 413.5L312.4 413.4L312.9 413.3L313.3 413.2L313.8 413.3L314.2 413.2L314.7 413.3L315.1 413.1L315.6 413.3L316.0 413.4L316.5 413.5L316.9 413.3L317.3 413.2L317.8 413.2L318.2 413.4L318.7 413.8L319.1 413.8L319.6 413.9L320.0 413.7L320.5 413.9L320.9 414.0L321.4 414.2L321.8 414.4L322.3 414.4L322.7 414.4L323.1 414.5L323.6 414.8L324.0 414.8L324.5 414.8L324.9 414.7L325.4 414.9L325.8 415.0L326.3 415.4L326.7 416.0L327.2 416.5L327.6 416.4L328.1 416.2L328.5 416.1L328.9 416.5L329.4 416.9L329.8 417.3L330.3 417.5L330.7 417.5L331.2 417.4L331.6 417.1L332.1 417.3L332.5 417.9L333.0 418.6L333.4 418.8L333.8 418.8L334.3 418.9L334.7 419.3L335.2 419.5L335.6 419.5L336.1 419.7L336.5 420.0L337.0 420.4L337.4 420.3L337.9 420.3L338.3 420.3L338.8 420.3L339.2 420.4L339.6 420.9L340.1 421.4L340.5 421.9L341.0 422.2L341.4 422.5L341.9 422.4L342.3 422.6L342.8 422.4L343.2 422.5L343.7 422.6L344.1 422.9L344.5 423.1L345.0 423.1L345.4 423.1L345.9 423.2L346.3 423.6L346.8 423.8L347.2 424.0L347.7 424.0L348.1 423.9L348.6 424.1L349.0 424.2L349.5 424.5L349.9 424.4L350.3 424.7L350.8 424.7L351.2 425.1L351.7 425.0L352.1 425.2L352.6 425.1L353.0 425.3L353.5 425.4L353.9 425.6L354.4 425.7L354.8 425.8L355.3 426.0L355.7 425.8L356.1 425.8L356.6 425.7L357.0 425.5L357.5 425.3L357.9 425.3L358.4 425.8L358.8 425.8L359.3 425.7L359.7 425.4L360.2 425.2L360.6 425.1L361.0 425.0L361.5 425.5L361.9 425.8L362.4 425.9L362.8 425.3L363.3 424.9L363.7 424.9L364.2 425.3L364.6 425.1L365.1 424.8L365.5 424.5L366.0 424.4L366.4 424.8L366.8 424.7L367.3 424.6L367.7 424.2L368.2 424.0L368.6 423.9L369.1 423.8L369.5 423.8L370.0 423.7L370.4 423.9L370.9 424.0L371.3 423.7L371.7 423.2L372.2 423.1L372.6 423.2L373.1 423.1L373.5 422.9L374.0 422.9L374.4 422.8L374.9 422.6L375.3 422.2L375.8 422.1L376.2 421.9L376.7 422.1L377.1 422.1L377.5 422.0L378.0 421.6L378.4 421.5L378.9 421.4L379.3 421.1" fill="none" stroke="#30b4b4" stroke-width="1" stroke-linejoin="round"/>
<path d="M67.2 415.3L67.6 414.5L68.1 413.9L68.5 413.5L69.0 413.3L69.4 413.0L69.9 412.7L70.3 412.3L70.8 412.0L71.2 411.6L71.7 411.1L72.1 410.6L72.6 410.2L73.0 409.8L73.4 409.5L73.9 409.4L74.3 409.3L74.8 409.4L75.2 409.6L75.7 409.9L76.1 410.3L76.6 410.6L77.0 411.0L77.5 411.3L77.9 411.7L78.3 411.9L78.8 412.0L79.2 412.0L79.7 411.8L80.1 411.7L80.6 411.4L81.0 411.0L81.5 410.6L81.9 410.1L82.4 409.7L82.8 409.4L83.3 409.1L83.7 408.9L84.1 408.8L84.6 408.9L85.0 409.0L85.5 409.3L85.9 409.5L86.4 409.8L86.8 410.2L87.3 410.7L87.7 411.3L88.2 411.8L88.6 412.1L89.0 412.3L89.5 412.5L89.9 412.6L90.4 412.5L90.8 412.4L91.3 412.1L91.7 411.6L92.2 411.2L92.6 410.8L93.1 410.3L93.5 409.7L94.0 409.3L94.4 408.8L94.8 408.5L95.3 408.3L95.7 408.2L96.2 408.2L96.6 408.3L97.1 408.4L97.5 408.7L98.0 409.1L98.4 409.6L98.9 410.0L99.3 410.6L99.8 411.1L100.2 411.6L100.6 412.1L101.1 412.4L101.5 412.8L102.0 413.0L102.4 413.2L102.9 413.2L103.3 413.1L103.8 412.9L104.2 412.6L104.7 412.3L105.1 411.9L105.5 411.3L106.0 410.7L106.4 410.1L106.9 409.6L107.3 409.1L107.8 408.6L108.2 408.1L108.7 407.8L109.1 407.6L109.6 407.4L110.0 407.3L110.5 407.3L110.9 407.4L111.3 407.8L111.8 408.2L112.2 408.6L112.7 409.0L113.1 409.4L113.6 410.0L114.0 410.5L114.5 411.1L114.9 411.8L115.4 412.3L115.8 412.7L116.2 413.1L116.7 413.4L117.1 413.7L117.6 413.7L118.0 413.8L118.5 413.8L118.9 413.7L119.4 413.5L119.8 413.1L120.3 412.7L120.7 412.3L121.2 411.8L121.6 411.2L122.0 410.6L122.5 410.1L122.9 409.5L123.4 408.9L123.8 408.4L124.3 407.9L124.7 407.5L125.2 407.2L125.6 407.0L126.1 406.7L126.5 406.6L127.0 406.5L127.4 406.6L127.8 406.8L128.3 407.0L128.7 407.3L129.2 407.6L129.6 408.1L130.1 408.6L130.5 409.1L131.0 409.7L131.4 410.3L131.9 410.8L132.3 411.3L132.7 411.8L133.2 412.4L133.6 413.0L134.1 413.4L134.5 413.8L135.0 414.0L135.4 414.2L135.9 414.3L136.3 414.4L136.8 414.5L137.2 414.4L137.7 414.3L138.1 414.1L138.5 413.9L139.0 413.6L139.4 413.1L139.9 412.6L140.3 412.1L140.8 411.6L141.2 411.0L141.7 410.5L142.1 409.9L142.6 409.3L143.0 408.8L143.4 408.4L143.9 407.9L144.3 407.4L144.8 407.0L145.2 406.6L145.7 406.3L146.1 406.0L146.6 405.8L147.0 405.7L147.5 405.6L147.9 405.7L148.4 405.8L148.8 406.0L149.2 406.2L149.7 406.5L150.1 406.8L150.6 407.2L151.0 407.6L151.5 408.2L151.9 408.7L152.4 409.3L152.8 409.8L153.3 410.3L153.7 410.9L154.2 411.4L154.6 411.9L155.0 412.4L155.5 412.9L155.9 413.4L156.4 413.8L156.8 414.2L157.3 414.5L157.7 414.8L158.2 415.0L158.6 415.1L159.1 415.2L159.5 415.2L159.9 415.2L160.4 415.2L160.8 415.1L161.3 414.9L161.7 414.6L162.2 414.3L162.6 414.0L163.1 413.6L163.5 413.3L164.0 412.9L164.4 412.4L164.9 411.9L165.3 411.3L165.7 410.8L166.2 410.2L166.6 409.7L167.1 409.1L167.5 408.7L168.0 408.3L168.4 407.8L168.9 407.3L169.3 406.9L169.8 406.5L170.2 406.1L170.6 405.8L171.1 405.6L171.5 405.3L172.0 405.1L172.4 405.0L172.9 404.9L173.3 404.9L173.8 404.9L174.2 405.0L174.7 405.1L175.1 405.2L175.6 405.3L176.0 405.6L176.4 406.0L176.9 406.3L177.3 406.7L177.8 407.0L178.2 407.4L178.7 407.9L179.1 408.4L179.6 408.9L180.0 409.4L180.5 409.9L180.9 410.3L181.4 410.7L181.8 411.1L182.2 411.6L182.7 412.1L183.1 412.6L183.6 413.0L184.0 413.4L184.5 413.8L184.9 414.2L185.4 414.5L185.8 414.7L186.3 415.0L186.7 415.1L187.1 415.3L187.6 415.4L188.0 415.6L188.5 415.6L188.9 415.6L189.4 415.7L189.8 415.6L190.3 415.5L190.7 415.3L191.2 415.2L191.6 415.0L192.1 414.8L192.5 414.5L192.9 414.2L193.4 413.9L193.8 413.5L194.3 413.2L194.7 412.8L195.2 412.4L195.6 411.9L196.1 411.5L196.5 411.1L197.0 410.7L197.4 410.2L197.8 409.8L198.3 409.4L198.7 409.0L199.2 408.5L199.6 408.1L200.1 407.8L200.5 407.3L201.0 406.9L201.4 406.6L201.9 406.2L202.3 405.9L202.8 405.6L203.2 405.3L203.6 405.1L204.1 404.8L204.5 404.7L205.0 404.6L205.4 404.5L205.9 404.4L206.3 404.4L206.8 404.3L207.2 404.3L207.7 404.3L208.1 404.4L208.6 404.5L209.0 404.6L209.4 404.8L209.9 405.0L210.3 405.2L210.8 405.4L211.2 405.7L211.7 405.9L212.1 406.1L212.6 406.4L213.0 406.8L213.5 407.2L213.9 407.5L214.3 407.9L214.8 408.3L215.2 408.7L215.7 409.1L216.1 409.5L216.6 409.8L217.0 410.2L217.5 410.5L217.9 411.0L218.4 411.4L218.8 411.8L219.3 412.1L219.7 412.5L220.1 412.9L220.6 413.2L221.0 413.5L221.5 413.7L221.9 413.9L222.4 414.2L222.8 414.5L223.3 414.8L223.7 415.0L224.2 415.2L224.6 415.4L225.0 415.5L225.5 415.7L225.9 415.8L226.4 415.8L226.8 415.8L227.3 415.9L227.7 416.0L228.2 415.9L228.6 415.8L229.1 415.8L229.5 415.7L230.0 415.6L230.4 415.5L230.8 415.3L231.3 415.2L231.7 415.0L232.2 414.7L232.6 414.5L233.1 414.3L233.5 414.1L234.0 413.9L234.4 413.6L234.9 413.2L235.3 412.9L235.8 412.6L236.2 412.3L236.6 412.1L237.1 411.8L237.5 411.4L238.0 411.0L238.4 410.7L238.9 410.3L239.3 409.9L239.8 409.5L240.2 409.3L240.7 408.9L241.1 408.6L241.5 408.3L242.0 408.0L242.4 407.6L242.9 407.2L243.3 406.9L243.8 406.7L244.2 406.5L244.7 406.2L245.1 405.8L245.6 405.5L246.0 405.3L246.5 405.2L246.9 405.0L247.3 404.8L247.8 404.6L248.2 404.4L248.7 404.3L249.1 404.1L249.6 404.0L250.0 404.0L250.5 403.9L250.9 403.8L251.4 403.8L251.8 403.8L252.2 403.8L252.7 403.8L253.1 403.8L253.6 403.8L254.0 403.8L254.5 403.9L254.9 404.1L255.4 404.2L255.8 404.3L256.3 404.4L256.7 404.6L257.2 404.8L257.6 405.0L258.0 405.2L258.5 405.3L258.9 405.5L259.4 405.8L259.8 406.1L260.3 406.3L260.7 406.6L261.2 406.9L261.6 407.1L262.1 407.3L262.5 407.6L263.0 407.9L263.4 408.3L263.8 408.6L264.3 408.8L264.7 409.1L265.2 409.4L265.6 409.6L266.1 409.9L266.5 410.2L267.0 410.6L267.4 410.9L267.9 411.2L268.3 411.4L268.7 411.7L269.2 412.0L269.6 412.3L270.1 412.6L270.5 412.8L271.0 413.0L271.4 413.3L271.9 413.5L272.3 413.7L272.8 413.9L273.2 414.1L273.7 414.4L274.1 414.6L274.5 414.8L275.0 414.9L275.4 415.1L275.9 415.3L276.3 415.4L276.8 415.5L277.2 415.6L277.7 415.7L278.1 415.7L278.6 415.7L279.0 415.8L279.4 415.8L279.9 415.9L280.3 416.0L280.8 416.1L281.2 416.1L281.7 416.0L282.1 416.0L282.6 416.0L283.0 415.9L283.5 415.9L283.9 415.8L284.4 415.7L284.8 415.6L285.2 415.5L285.7 415.5L286.1 415.3L286.6 415.2L287.0 415.0L287.5 414.8L287.9 414.7L288.4 414.5L288.8 414.4L289.3 414.2L289.7 414.0L290.2 413.8L290.6 413.6L291.0 413.4L291.5 413.2L291.9 413.0L292.4 412.7L292.8 412.4L293.3 412.2L293.7 412.0L294.2 411.8L294.6 411.5L295.1 411.2L295.5 411.0L295.9 410.8L296.4 410.5L296.8 410.2L297.3 409.9L297.7 409.6L298.2 409.4L298.6 409.2L299.1 409.0L299.5 408.6L300.0 408.3L300.4 408.0L300.9 407.8L301.3 407.7L301.7 407.6L302.2 407.2L302.6 406.9L303.1 406.8L303.5 406.5L304.0 406.3L304.4 406.1L304.9 405.9L305.3 405.7L305.8 405.5L306.2 405.3L306.6 405.1L307.1 404.9L307.5 404.8L308.0 404.6L308.4 404.5L308.9 404.3L309.3 404.3L309.8 404.2L310.2 404.2L310.7 404.0L311.1 403.8L311.6 403.6L312.0 403.6L312.4 403.5L312.9 403.5L313.3 403.5L313.8 403.4L314.2 403.2L314.7 403.2L315.1 403.3L315.6 403.3L316.0 403.3L316.5 403.3L316.9 403.4L317.3 403.5L317.8 403.5L318.2 403.6L318.7 403.5L319.1 403.6L319.6 403.6L320.0 403.7L320.5 403.5L320.9 403.6L321.4 403.8L321.8 403.9L322.3 404.0L322.7 404.2L323.1 404.6L323.6 404.8L324.0 405.0L324.5 404.9L324.9 405.0L325.4 404.9L325.8 405.0L326.3 405.1L326.7 405.4L327.2 405.5L327.6 405.5L328.1 405.8L328.5 406.2L328.9 406.4L329.4 406.4L329.8 406.6L330.3 407.1L330.7 407.1L331.2 406.9L331.6 407.2L332.1 407.8L332.5 408.0L333.0 408.0L333.4 407.9L333.8 408.2L334.3 408.4L334.7 408.7L335.2 408.9L335.6 409.3L336.1 409.6L336.5 409.7L337.0 409.8L337.4 410.1L337.9 410.2L338.3 410.4L338.8 410.5L339.2 410.7L339.6 411.0L340.1 411.5L340.5 411.5L341.0 411.5L341.4 411.3L341.9 411.4L342.3 411.7L342.8 412.3L343.2 412.6L343.7 412.6L344.1 412.5L344.5 412.6L345.0 412.8L345.4 413.3L345.9 413.5L346.3 413.5L346.8 413.4L347.2 413.5L347.7 413.6L348.1 413.4L348.6 413.3L349.0 413.3L349.5 413.8L349.9 414.3L350.3 414.6L350.8 414.8L351.2 414.8L351.7 414.9L352.1 415.0L352.6 415.1L353.0 415.2L353.5 415.0L353.9 414.9L354.4 414.7L354.8 415.1L355.3 415.3L355.7 415.0L356.1 414.8L356.6 415.0L357.0 415.8L357.5 416.2L357.9 416.2L358.4 415.5L358.8 415.3L359.3 415.2L359.7 415.3L360.2 415.4L360.6 415.5L361.0 415.4L361.5 415.3L361.9 415.2L362.4 415.4L362.8 415.6L363.3 415.6L363.7 415.1L364.2 415.0L364.6 415.1L365.1 415.3L365.5 415.5L366.0 415.4L366.4 415.0L366.8 414.9L367.3 415.1L367.7 415.3L368.2 415.1L368.6 414.6L369.1 414.1L369.5 413.8L370.0 414.1L370.4 414.0L370.9 413.8L371.3 413.8L371.7 414.0L372.2 413.9L372.6 413.7L373.1 413.4L373.5 413.3L374.0 412.9L374.4 413.0L374.9 412.8L375.3 412.5L375.8 412.3L376.2 412.1L376.7 412.1L377.1 411.9L377.5 412.1L378.0 411.9L378.4 411.6L378.9 411.4L379.3 411.4" fill="none" stroke="#d08c50" stroke-width="1" stroke-linejoin="round"/>
<path d="M67.2 405.2L67.6 404.3L68.1 403.8L68.5 403.5L69.0 403.2L69.4 402.9L69.9 402.7L70.3 402.4L70.8 402.1L71.2 401.7L71.7 401.3L72.1 400.7L72.6 400.3L73.0 399.9L73.4 399.7L73.9 399.5L74.3 399.4L74.8 399.4L75.2 399.6L75.7 399.8L76.1 400.1L76.6 400.5L77.0 400.9L77.5 401.2L77.9 401.5L78.3 401.8L78.8 402.0L79.2 402.0L79.7 402.0L80.1 401.8L80.6 401.6L81.0 401.3L81.5 400.9L81.9 400.4L82.4 400.0L82.8 399.6L83.3 399.3L83.7 399.0L84.1 398.9L84.6 398.9L85.0 399.0L85.5 399.1L85.9 399.3L86.4 399.6L86.8 400.0L87.3 400.5L87.7 401.1L88.2 401.6L88.6 402.0L89.0 402.2L89.5 402.5L89.9 402.5L90.4 402.5L90.8 402.4L91.3 402.3L91.7 402.0L92.2 401.6L92.6 401.1L93.1 400.6L93.5 400.1L94.0 399.5L94.4 399.1L94.8 398.7L95.3 398.5L95.7 398.3L96.2 398.2L96.6 398.2L97.1 398.3L97.5 398.5L98.0 398.9L98.4 399.3L98.9 399.8L99.3 400.3L99.8 400.8L100.2 401.4L100.6 401.8L101.1 402.3L101.5 402.7L102.0 403.0L102.4 403.2L102.9 403.2L103.3 403.2L103.8 403.1L104.2 402.8L104.7 402.5L105.1 402.1L105.5 401.7L106.0 401.1L106.4 400.5L106.9 399.9L107.3 399.4L107.8 398.9L108.2 398.4L108.7 398.0L109.1 397.7L109.6 397.4L110.0 397.3L110.5 397.3L110.9 397.4L111.3 397.6L111.8 397.9L112.2 398.3L112.7 398.7L113.1 399.2L113.6 399.7L114.0 400.3L114.5 400.8L114.9 401.5L115.4 402.0L115.8 402.5L116.2 402.9L116.7 403.2L117.1 403.5L117.6 403.8L118.0 403.9L118.5 403.9L118.9 403.8L119.4 403.6L119.8 403.3L120.3 403.0L120.7 402.5L121.2 402.0L121.6 401.6L122.0 401.1L122.5 400.5L122.9 399.9L123.4 399.3L123.8 398.8L124.3 398.3L124.7 397.8L125.2 397.4L125.6 397.1L126.1 396.9L126.5 396.7L127.0 396.7L127.4 396.7L127.8 396.8L128.3 396.9L128.7 397.1L129.2 397.4L129.6 397.8L130.1 398.2L130.5 398.7L131.0 399.3L131.4 399.8L131.9 400.3L132.3 400.9L132.7 401.5L133.2 402.1L133.6 402.6L134.1 403.1L134.5 403.5L135.0 403.8L135.4 404.1L135.9 404.4L136.3 404.5L136.8 404.6L137.2 404.6L137.7 404.5L138.1 404.2L138.5 404.0L139.0 403.7L139.4 403.4L139.9 403.0L140.3 402.5L140.8 402.1L141.2 401.5L141.7 401.0L142.1 400.4L142.6 399.8L143.0 399.2L143.4 398.7L143.9 398.2L144.3 397.6L144.8 397.1L145.2 396.8L145.7 396.5L146.1 396.2L146.6 396.0L147.0 395.8L147.5 395.7L147.9 395.7L148.4 395.7L148.8 395.8L149.2 396.0L149.7 396.2L150.1 396.5L150.6 396.8L151.0 397.3L151.5 397.7L151.9 398.2L152.4 398.7L152.8 399.3L153.3 399.9L153.7 400.4L154.2 400.9L154.6 401.4L155.0 402.0L155.5 402.6L155.9 403.1L156.4 403.5L156.8 403.9L157.3 404.2L157.7 404.6L158.2 404.8L158.6 405.0L159.1 405.2L159.5 405.3L159.9 405.3L160.4 405.3L160.8 405.2L161.3 405.1L161.7 404.8L162.2 404.6L162.6 404.3L163.1 403.9L163.5 403.6L164.0 403.2L164.4 402.7L164.9 402.3L165.3 401.7L165.7 401.2L166.2 400.8L166.6 400.3L167.1 399.7L167.5 399.1L168.0 398.6L168.4 398.1L168.9 397.7L169.3 397.2L169.8 396.8L170.2 396.5L170.6 396.2L171.1 395.9L171.5 395.6L172.0 395.3L172.4 395.2L172.9 395.1L173.3 395.0L173.8 395.0L174.2 395.0L174.7 395.1L175.1 395.2L175.6 395.4L176.0 395.5L176.4 395.8L176.9 396.1L177.3 396.4L177.8 396.8L178.2 397.1L178.7 397.5L179.1 397.9L179.6 398.3L180.0 398.8L180.5 399.3L180.9 399.9L181.4 400.3L181.8 400.8L182.2 401.3L182.7 401.7L183.1 402.1L183.6 402.6L184.0 403.0L184.5 403.4L184.9 403.8L185.4 404.1L185.8 404.4L186.3 404.7L186.7 405.0L187.1 405.2L187.6 405.3L188.0 405.4L188.5 405.6L188.9 405.7L189.4 405.7L189.8 405.7L190.3 405.6L190.7 405.5L191.2 405.3L191.6 405.1L192.1 405.0L192.5 404.8L192.9 404.5L193.4 404.2L193.8 403.9L194.3 403.5L194.7 403.2L195.2 402.9L195.6 402.5L196.1 402.0L196.5 401.5L197.0 401.0L197.4 400.6L197.8 400.2L198.3 399.7L198.7 399.3L199.2 398.9L199.6 398.5L200.1 398.0L200.5 397.6L201.0 397.2L201.4 396.9L201.9 396.6L202.3 396.2L202.8 395.9L203.2 395.6L203.6 395.3L204.1 395.1L204.5 394.8L205.0 394.6L205.4 394.5L205.9 394.5L206.3 394.5L206.8 394.5L207.2 394.4L207.7 394.4L208.1 394.4L208.6 394.4L209.0 394.5L209.4 394.7L209.9 394.8L210.3 394.9L210.8 395.2L211.2 395.4L211.7 395.7L212.1 395.9L212.6 396.2L213.0 396.5L213.5 396.8L213.9 397.1L214.3 397.5L214.8 397.8L215.2 398.2L215.7 398.7L216.1 399.1L216.6 399.4L217.0 399.8L217.5 400.2L217.9 400.6L218.4 400.9L218.8 401.3L219.3 401.7L219.7 402.1L220.1 402.5L220.6 402.8L221.0 403.1L221.5 403.4L221.9 403.7L222.4 404.0L222.8 404.3L223.3 404.5L223.7 404.8L224.2 405.0L224.6 405.2L225.0 405.4L225.5 405.5L225.9 405.6L226.4 405.7L226.8 405.8L227.3 405.8L227.7 405.9L228.2 405.9L228.6 405.9L229.1 406.0L229.5 405.9L230.0 405.7L230.4 405.5L230.8 405.4L231.3 405.4L231.7 405.2L232.2 405.0L232.6 404.8L233.1 404.6L233.5 404.4L234.0 404.1L234.4 403.9L234.9 403.6L235.3 403.3L235.8 403.0L236.2 402.7L236.6 402.4L237.1 402.1L237.5 401.7L238.0 401.4L238.4 401.0L238.9 400.7L239.3 400.3L239.8 400.0L240.2 399.7L240.7 399.3L241.1 398.9L241.5 398.6L242.0 398.3L242.4 398.0L242.9 397.7L243.3 397.3L243.8 397.0L244.2 396.7L244.7 396.4L245.1 396.2L245.6 395.9L246.0 395.6L246.5 395.4L246.9 395.2L247.3 394.9L247.8 394.7L248.2 394.6L248.7 394.4L249.1 394.3L249.6 394.1L250.0 394.0L250.5 393.9L250.9 393.8L251.4 393.7L251.8 393.7L252.2 393.8L252.7 393.8L253.1 393.8L253.6 393.8L254.0 393.8L254.5 393.9L254.9 394.0L255.4 394.1L255.8 394.2L256.3 394.3L256.7 394.4L257.2 394.6L257.6 394.8L258.0 394.9L258.5 395.1L258.9 395.3L259.4 395.5L259.8 395.7L260.3 396.0L260.7 396.2L261.2 396.4L261.6 396.6L262.1 397.0L262.5 397.3L263.0 397.6L263.4 397.8L263.8 398.1L264.3 398.4L264.7 398.7L265.2 399.0L265.6 399.3L266.1 399.6L266.5 399.9L267.0 400.2L267.4 400.5L267.9 400.8L268.3 401.0L268.7 401.3L269.2 401.6L269.6 402.0L270.1 402.3L270.5 402.5L271.0 402.7L271.4 402.9L271.9 403.2L272.3 403.5L272.8 403.7L273.2 403.9L273.7 404.0L274.1 404.3L274.5 404.5L275.0 404.7L275.4 404.8L275.9 405.0L276.3 405.1L276.8 405.3L277.2 405.5L277.7 405.6L278.1 405.6L278.6 405.7L279.0 405.8L279.4 405.9L279.9 405.9L280.3 405.9L280.8 406.0L281.2 406.0L281.7 406.0L282.1 406.0L282.6 406.0L283.0 406.0L283.5 406.0L283.9 405.9L284.4 405.8L284.8 405.7L285.2 405.6L285.7 405.5L286.1 405.4L286.6 405.3L287.0 405.2L287.5 405.1L287.9 404.9L288.4 404.7L288.8 404.5L289.3 404.3L289.7 404.1L290.2 403.9L290.6 403.7L291.0 403.5L291.5 403.3L291.9 403.1L292.4 403.0L292.8 402.8L293.3 402.5L293.7 402.3L294.2 402.0L294.6 401.8L295.1 401.6L295.5 401.3L295.9 401.0L296.4 400.7L296.8 400.5L297.3 400.2L297.7 400.1L298.2 399.9L298.6 399.7L299.1 399.4L299.5 399.1L300.0 399.0L300.4 398.8L300.9 398.6L301.3 398.3L301.7 398.0L302.2 397.6L302.6 397.4L303.1 397.2L303.5 396.8L304.0 396.6L304.4 396.4L304.9 396.3L305.3 396.1L305.8 395.7L306.2 395.5L306.6 395.4L307.1 395.3L307.5 395.0L308.0 394.7L308.4 394.6L308.9 394.4L309.3 394.4L309.8 394.4L310.2 394.3L310.7 393.9L311.1 393.7L311.6 393.9L312.0 394.0L312.4 394.0L312.9 393.7L313.3 393.5L313.8 393.3L314.2 393.4L314.7 393.5L315.1 393.4L315.6 392.9L316.0 392.9L316.5 393.2L316.9 393.3L317.3 393.3L317.8 393.5L318.2 393.6L318.7 393.4L319.1 393.2L319.6 393.1L320.0 393.2L320.5 393.3L320.9 393.6L321.4 393.6L321.8 393.6L322.3 393.7L322.7 393.9L323.1 394.0L323.6 394.2L324.0 394.3L324.5 394.5L324.9 394.6L325.4 394.7L325.8 394.7L326.3 394.9L326.7 394.9L327.2 395.3L327.6 395.5L328.1 395.8L328.5 395.6L328.9 395.8L329.4 396.0L329.8 396.2L330.3 396.4L330.7 396.3L331.2 396.4L331.6 396.5L332.1 397.1L332.5 397.4L333.0 397.4L333.4 397.4L333.8 398.0L334.3 398.2L334.7 398.0L335.2 398.1L335.6 398.6L336.1 398.8L336.5 398.7L337.0 398.7L337.4 399.2L337.9 399.8L338.3 400.2L338.8 400.3L339.2 400.4L339.6 400.6L340.1 400.8L340.5 401.0L341.0 401.0L341.4 401.0L341.9 401.3L342.3 401.6L342.8 401.7L343.2 401.9L343.7 402.3L344.1 402.5L344.5 402.5L345.0 402.6L345.4 403.3L345.9 403.5L346.3 403.1L346.8 402.7L347.2 402.8L347.7 403.0L348.1 403.0L348.6 403.5L349.0 404.0L349.5 404.6L349.9 404.7L350.3 404.6L350.8 404.6L351.2 404.5L351.7 404.5L352.1 404.3L352.6 404.6L353.0 405.1L353.5 405.2L353.9 405.0L354.4 404.9L354.8 405.1L355.3 405.3L355.7 405.4L356.1 405.4L356.6 405.1L357.0 405.0L357.5 404.7L357.9 405.2L358.4 405.7L358.8 406.1L359.3 406.0L359.7 406.1L360.2 406.2L360.6 405.7L361.0 405.1L361.5 404.7L361.9 404.6L362.4 404.5L362.8 404.9L363.3 405.1L363.7 405.1L364.2 405.0L364.6 404.9L365.1 405.0L365.5 405.0L366.0 404.5L366.4 404.2L366.8 404.4L367.3 404.9L367.7 404.6L368.2 404.2L368.6 404.2L369.1 404.2L369.5 404.2L370.0 404.0L370.4 404.0L370.9 403.8L371.3 404.2L371.7 404.2L372.2 403.9L372.6 403.5L373.1 403.4L373.5 403.3L374.0 402.8L374.4 402.6L374.9 402.6L375.3 402.6L375.8 402.6L376.2 402.6L376.7 402.5L377.1 402.0L377.5 401.5L378.0 401.3L378.4 401.2L378.9 401.3L379.3 401.4" fill="none" stroke="#20cc70" stroke-width="1" stroke-linejoin="round"/>
<path d="M67.2 395.2L67.6 394.3L68.1 393.7L68.5 393.3L69.0 393.1L69.4 393.0L69.9 392.8L70.3 392.6L70.8 392.3L71.2 392.0L71.7 391.5L72.1 391.1L72.6 390.6L73.0 390.2L73.4 389.8L73.9 389.6L74.3 389.5L74.8 389.4L75.2 389.5L75.7 389.7L76.1 390.0L76.6 390.4L77.0 390.8L77.5 391.2L77.9 391.6L78.3 391.8L78.8 392.0L79.2 392.1L79.7 392.1L80.1 392.0L80.6 391.8L81.0 391.5L81.5 391.2L81.9 390.7L82.4 390.3L82.8 389.9L83.3 389.5L83.7 389.2L84.1 389.0L84.6 388.9L85.0 388.9L85.5 389.1L85.9 389.4L86.4 389.6L86.8 390.0L87.3 390.4L87.7 390.9L88.2 391.4L88.6 391.8L89.0 392.2L89.5 392.4L89.9 392.6L90.4 392.7L90.8 392.6L91.3 392.4L91.7 392.1L92.2 391.7L92.6 391.3L93.1 390.8L93.5 390.3L94.0 389.7L94.4 389.3L94.8 389.0L95.3 388.7L95.7 388.4L96.2 388.1L96.6 388.1L97.1 388.2L97.5 388.4L98.0 388.7L98.4 389.0L98.9 389.4L99.3 390.0L99.8 390.5L100.2 391.0L100.6 391.5L101.1 392.1L101.5 392.6L102.0 392.9L102.4 393.1L102.9 393.2L103.3 393.2L103.8 393.2L104.2 393.1L104.7 392.7L105.1 392.3L105.5 391.9L106.0 391.5L106.4 390.9L106.9 390.3L107.3 389.7L107.8 389.1L108.2 388.6L108.7 388.2L109.1 387.9L109.6 387.6L110.0 387.4L110.5 387.3L110.9 387.4L111.3 387.5L111.8 387.7L112.2 388.0L112.7 388.5L113.1 389.0L113.6 389.5L114.0 390.0L114.5 390.6L114.9 391.2L115.4 391.8L115.8 392.3L116.2 392.8L116.7 393.1L117.1 393.4L117.6 393.6L118.0 393.9L118.5 394.0L118.9 393.9L119.4 393.8L119.8 393.6L120.3 393.3L120.7 392.9L121.2 392.5L121.6 392.0L122.0 391.4L122.5 390.7L122.9 390.2L123.4 389.7L123.8 389.2L124.3 388.6L124.7 388.1L125.2 387.6L125.6 387.3L126.1 387.0L126.5 386.8L127.0 386.7L127.4 386.6L127.8 386.7L128.3 386.7L128.7 386.9L129.2 387.2L129.6 387.6L130.1 388.0L130.5 388.5L131.0 389.0L131.4 389.6L131.9 390.2L132.3 390.8L132.7 391.3L133.2 391.9L133.6 392.3L134.1 392.8L134.5 393.2L135.0 393.6L135.4 394.0L135.9 394.2L136.3 394.5L136.8 394.6L137.2 394.6L137.7 394.6L138.1 394.5L138.5 394.3L139.0 394.0L139.4 393.7L139.9 393.2L140.3 392.7L140.8 392.2L141.2 391.8L141.7 391.3L142.1 390.7L142.6 390.1L143.0 389.6L143.4 389.1L143.9 388.5L144.3 387.9L144.8 387.5L145.2 387.1L145.7 386.6L146.1 386.3L146.6 386.0L147.0 385.9L147.5 385.7L147.9 385.6L148.4 385.5L148.8 385.6L149.2 385.8L149.7 386.1L150.1 386.4L150.6 386.8L151.0 387.1L151.5 387.5L151.9 388.0L152.4 388.4L152.8 388.9L153.3 389.5L153.7 390.1L154.2 390.6L154.6 391.2L155.0 391.8L155.5 392.3L155.9 392.8L156.4 393.2L156.8 393.7L157.3 394.1L157.7 394.4L158.2 394.8L158.6 395.0L159.1 395.1L159.5 395.2L159.9 395.2L160.4 395.3L160.8 395.3L161.3 395.1L161.7 394.9L162.2 394.7L162.6 394.5L163.1 394.2L163.5 393.8L164.0 393.4L164.4 393.0L164.9 392.5L165.3 392.1L165.7 391.6L166.2 391.1L166.6 390.5L167.1 390.0L167.5 389.5L168.0 389.0L168.4 388.4L168.9 387.9L169.3 387.5L169.8 387.1L170.2 386.6L170.6 386.2L171.1 385.9L171.5 385.7L172.0 385.5L172.4 385.3L172.9 385.2L173.3 385.0L173.8 385.0L174.2 385.0L174.7 385.1L175.1 385.1L175.6 385.2L176.0 385.4L176.4 385.6L176.9 386.0L177.3 386.3L177.8 386.6L178.2 386.9L178.7 387.3L179.1 387.7L179.6 388.1L180.0 388.6L180.5 389.1L180.9 389.6L181.4 390.0L181.8 390.5L182.2 391.0L182.7 391.5L183.1 391.8L183.6 392.2L184.0 392.6L184.5 393.1L184.9 393.5L185.4 393.9L185.8 394.3L186.3 394.6L186.7 394.9L187.1 395.2L187.6 395.3L188.0 395.5L188.5 395.5L188.9 395.6L189.4 395.6L189.8 395.6L190.3 395.6L190.7 395.5L191.2 395.4L191.6 395.3L192.1 395.1L192.5 394.9L192.9 394.7L193.4 394.5L193.8 394.2L194.3 393.9L194.7 393.5L195.2 393.2L195.6 392.7L196.1 392.2L196.5 391.8L197.0 391.5L197.4 391.1L197.8 390.7L198.3 390.2L198.7 389.8L199.2 389.3L199.6 388.8L200.1 388.4L200.5 388.0L201.0 387.5L201.4 387.1L201.9 386.8L202.3 386.4L202.8 386.1L203.2 385.8L203.6 385.5L204.1 385.3L204.5 385.0L205.0 384.8L205.4 384.7L205.9 384.6L206.3 384.5L206.8 384.4L207.2 384.4L207.7 384.4L208.1 384.4L208.6 384.4L209.0 384.5L209.4 384.6L209.9 384.7L210.3 384.8L210.8 385.0L211.2 385.2L211.7 385.5L212.1 385.7L212.6 386.0L213.0 386.3L213.5 386.6L213.9 386.9L214.3 387.2L214.8 387.5L215.2 387.9L215.7 388.4L216.1 388.7L216.6 389.1L217.0 389.4L217.5 389.9L217.9 390.3L218.4 390.7L218.8 391.0L219.3 391.4L219.7 391.8L220.1 392.1L220.6 392.5L221.0 392.8L221.5 393.2L221.9 393.5L222.4 393.8L222.8 394.1L223.3 394.3L223.7 394.7L224.2 394.9L224.6 395.1L225.0 395.2L225.5 395.4L225.9 395.6L226.4 395.7L226.8 395.8L227.3 395.8L227.7 395.8L228.2 395.8L228.6 395.9L229.1 395.9L229.5 395.9L230.0 395.8L230.4 395.7L230.8 395.6L231.3 395.5L231.7 395.3L232.2 395.1L232.6 395.0L233.1 394.8L233.5 394.6L234.0 394.4L234.4 394.1L234.9 393.8L235.3 393.6L235.8 393.3L236.2 393.0L236.6 392.7L237.1 392.3L237.5 392.0L238.0 391.6L238.4 391.3L238.9 390.9L239.3 390.6L239.8 390.2L240.2 389.9L240.7 389.6L241.1 389.2L241.5 388.9L242.0 388.5L242.4 388.2L242.9 387.9L243.3 387.6L243.8 387.3L244.2 387.0L244.7 386.7L245.1 386.4L245.6 386.1L246.0 385.8L246.5 385.5L246.9 385.3L247.3 385.1L247.8 385.0L248.2 384.7L248.7 384.6L249.1 384.4L249.6 384.2L250.0 384.1L250.5 384.0L250.9 384.0L251.4 383.9L251.8 383.8L252.2 383.8L252.7 383.8L253.1 383.8L253.6 383.7L254.0 383.7L254.5 383.8L254.9 383.9L255.4 384.0L255.8 384.1L256.3 384.2L256.7 384.2L257.2 384.3L257.6 384.5L258.0 384.7L258.5 384.9L258.9 385.2L259.4 385.4L259.8 385.6L260.3 385.8L260.7 386.0L261.2 386.2L261.6 386.5L262.1 386.8L262.5 387.0L263.0 387.3L263.4 387.5L263.8 387.8L264.3 388.1L264.7 388.4L265.2 388.7L265.6 389.0L266.1 389.3L266.5 389.6L267.0 389.8L267.4 390.1L267.9 390.4L268.3 390.7L268.7 391.0L269.2 391.4L269.6 391.6L270.1 391.9L270.5 392.1L271.0 392.4L271.4 392.6L271.9 392.8L272.3 393.1L272.8 393.3L273.2 393.5L273.7 393.8L274.1 394.0L274.5 394.2L275.0 394.5L275.4 394.7L275.9 394.9L276.3 395.0L276.8 395.2L277.2 395.3L277.7 395.4L278.1 395.5L278.6 395.5L279.0 395.6L279.4 395.8L279.9 395.8L280.3 395.9L280.8 396.0L281.2 396.0L281.7 396.1L282.1 396.1L282.6 396.0L283.0 395.9L283.5 395.9L283.9 395.9L284.4 395.9L284.8 395.8L285.2 395.7L285.7 395.7L286.1 395.6L286.6 395.4L287.0 395.3L287.5 395.2L287.9 395.0L288.4 394.9L288.8 394.7L289.3 394.6L289.7 394.4L290.2 394.2L290.6 394.0L291.0 393.8L291.5 393.7L291.9 393.5L292.4 393.3L292.8 393.0L293.3 392.8L293.7 392.5L294.2 392.3L294.6 392.1L295.1 391.8L295.5 391.5L295.9 391.2L296.4 391.0L296.8 390.8L297.3 390.6L297.7 390.4L298.2 390.1L298.6 389.8L299.1 389.5L299.5 389.3L300.0 389.1L300.4 388.8L300.9 388.5L301.3 388.2L301.7 387.9L302.2 387.7L302.6 387.5L303.1 387.3L303.5 387.0L304.0 386.8L304.4 386.7L304.9 386.5L305.3 386.3L305.8 386.0L306.2 385.8L306.6 385.4L307.1 385.0L307.5 385.0L308.0 385.0L308.4 384.8L308.9 384.6L309.3 384.4L309.8 384.3L310.2 384.2L310.7 384.3L311.1 384.2L311.6 384.0L312.0 383.7L312.4 383.6L312.9 383.4L313.3 383.4L313.8 383.3L314.2 383.4L314.7 383.4L315.1 383.3L315.6 383.4L316.0 383.3L316.5 383.3L316.9 383.4L317.3 383.5L317.8 383.5L318.2 383.5L318.7 383.6L319.1 383.3L319.6 383.3L320.0 383.4L320.5 383.5L320.9 383.6L321.4 383.6L321.8 383.8L322.3 383.7L322.7 383.9L323.1 383.8L323.6 383.9L324.0 383.8L324.5 384.0L324.9 384.2L325.4 384.4L325.8 384.6L326.3 384.9L326.7 385.1L327.2 385.0L327.6 384.9L328.1 385.1L328.5 385.6L328.9 386.0L329.4 386.3L329.8 386.3L330.3 386.4L330.7 386.3L331.2 386.6L331.6 386.8L332.1 387.2L332.5 387.2L333.0 387.3L333.4 387.4L333.8 387.7L334.3 387.7L334.7 388.1L335.2 388.4L335.6 389.0L336.1 389.1L336.5 389.1L337.0 389.1L337.4 389.3L337.9 389.5L338.3 389.5L338.8 389.5L339.2 389.6L339.6 389.9L340.1 390.1L340.5 390.2L341.0 390.4L341.4 390.9L341.9 391.3L342.3 391.6L342.8 391.8L343.2 392.2L343.7 392.2L344.1 392.0L344.5 391.8L345.0 391.8L345.4 392.2L345.9 392.5L346.3 392.9L346.8 393.4L347.2 393.7L347.7 393.6L348.1 393.4L348.6 393.3L349.0 393.2L349.5 393.6L349.9 393.9L350.3 393.9L350.8 394.3L351.2 394.6L351.7 394.8L352.1 394.7L352.6 394.8L353.0 394.8L353.5 394.6L353.9 394.4L354.4 394.7L354.8 394.9L355.3 394.8L355.7 394.4L356.1 394.4L356.6 395.0L357.0 395.5L357.5 395.9L357.9 395.9L358.4 396.0L358.8 395.8L359.3 395.4L359.7 395.3L360.2 395.1L360.6 395.2L361.0 395.1L361.5 395.4L361.9 395.6L362.4 395.7L362.8 395.1L363.3 395.0L363.7 395.2L364.2 395.5L364.6 395.0L365.1 394.9L365.5 395.1L366.0 395.0L366.4 394.7L366.8 394.3L367.3 394.5L367.7 394.7L368.2 395.0L368.6 394.9L369.1 394.5L369.5 394.4L370.0 394.6L370.4 394.9L370.9 394.7L371.3 394.1L371.7 393.7L372.2 394.1L372.6 394.2L373.1 394.1L373.5 393.6L374.0 393.2L374.4 393.1L374.9 393.1L375.3 393.0L375.8 392.5L376.2 392.3L376.7 392.2L377.1 391.9L377.5 392.0L378.0 392.2L378.4 392.4L378.9 392.1L379.3 391.8" fill="none" stroke="#ee4a90" stroke-width="1" stroke-linejoin="round"/>
<path d="M67.2 385.1L67.6 384.3L68.1 383.7L68.5 383.4L69.0 383.2L69.4 382.9L69.9 382.8L70.3 382.6L70.8 382.3L71.2 382.0L71.7 381.6L72.1 381.2L72.6 380.8L73.0 380.2L73.4 379.8L73.9 379.6L74.3 379.5L74.8 379.5L75.2 379.5L75.7 379.6L76.1 380.0L76.6 380.3L77.0 380.7L77.5 381.1L77.9 381.5L78.3 381.8L78.8 381.9L79.2 382.1L79.7 382.1L80.1 382.1L80.6 381.9L81.0 381.6L81.5 381.2L81.9 380.8L82.4 380.4L82.8 380.1L83.3 379.7L83.7 379.3L84.1 379.1L84.6 378.9L85.0 378.9L85.5 379.0L85.9 379.2L86.4 379.6L86.8 380.0L87.3 380.4L87.7 380.8L88.2 381.2L88.6 381.6L89.0 382.0L89.5 382.4L89.9 382.6L90.4 382.6L90.8 382.6L91.3 382.5L91.7 382.2L92.2 381.9L92.6 381.5L93.1 381.2L93.5 380.6L94.0 380.1L94.4 379.6L94.8 379.2L95.3 378.8L95.7 378.5L96.2 378.3L96.6 378.2L97.1 378.3L97.5 378.4L98.0 378.7L98.4 379.0L98.9 379.4L99.3 379.9L99.8 380.4L100.2 380.9L100.6 381.4L101.1 381.9L101.5 382.4L102.0 382.8L102.4 383.2L102.9 383.4L103.3 383.4L103.8 383.3L104.2 383.2L104.7 383.0L105.1 382.6L105.5 382.2L106.0 381.7L106.4 381.2L106.9 380.6L107.3 380.0L107.8 379.5L108.2 378.9L108.7 378.4L109.1 378.0L109.6 377.7L110.0 377.5L110.5 377.3L110.9 377.3L111.3 377.4L111.8 377.7L112.2 378.0L112.7 378.3L113.1 378.7L113.6 379.3L114.0 379.9L114.5 380.4L114.9 381.0L115.4 381.5L115.8 382.1L116.2 382.6L116.7 383.0L117.1 383.4L117.6 383.6L118.0 383.8L118.5 383.9L118.9 384.0L119.4 384.0L119.8 383.8L120.3 383.5L120.7 383.1L121.2 382.7L121.6 382.2L122.0 381.7L122.5 381.2L122.9 380.6L123.4 380.1L123.8 379.4L124.3 378.8L124.7 378.3L125.2 377.8L125.6 377.4L126.1 377.0L126.5 376.8L127.0 376.7L127.4 376.6L127.8 376.6L128.3 376.7L128.7 377.0L129.2 377.2L129.6 377.5L130.1 377.9L130.5 378.3L131.0 378.9L131.4 379.4L131.9 380.0L132.3 380.6L132.7 381.1L133.2 381.6L133.6 382.1L134.1 382.6L134.5 383.1L135.0 383.6L135.4 384.0L135.9 384.3L136.3 384.5L136.8 384.6L137.2 384.7L137.7 384.6L138.1 384.5L138.5 384.4L139.0 384.2L139.4 383.9L139.9 383.5L140.3 383.1L140.8 382.6L141.2 382.1L141.7 381.6L142.1 381.0L142.6 380.4L143.0 379.9L143.4 379.4L143.9 378.8L144.3 378.2L144.8 377.7L145.2 377.3L145.7 376.9L146.1 376.5L146.6 376.2L147.0 375.9L147.5 375.8L147.9 375.7L148.4 375.6L148.8 375.6L149.2 375.7L149.7 376.0L150.1 376.3L150.6 376.6L151.0 376.9L151.5 377.3L151.9 377.7L152.4 378.1L152.8 378.6L153.3 379.2L153.7 379.8L154.2 380.3L154.6 380.9L155.0 381.5L155.5 382.1L155.9 382.6L156.4 383.1L156.8 383.6L157.3 383.9L157.7 384.3L158.2 384.6L158.6 384.9L159.1 385.1L159.5 385.2L159.9 385.3L160.4 385.4L160.8 385.3L161.3 385.3L161.7 385.2L162.2 385.0L162.6 384.7L163.1 384.3L163.5 384.0L164.0 383.6L164.4 383.3L164.9 382.9L165.3 382.4L165.7 381.9L166.2 381.5L166.6 380.9L167.1 380.4L167.5 379.8L168.0 379.2L168.4 378.7L168.9 378.2L169.3 377.8L169.8 377.4L170.2 377.0L170.6 376.5L171.1 376.2L171.5 375.8L172.0 375.6L172.4 375.4L172.9 375.2L173.3 375.1L173.8 375.0L174.2 375.0L174.7 375.0L175.1 375.0L175.6 375.1L176.0 375.3L176.4 375.5L176.9 375.8L177.3 376.0L177.8 376.4L178.2 376.7L178.7 377.1L179.1 377.5L179.6 377.9L180.0 378.3L180.5 378.7L180.9 379.2L181.4 379.7L181.8 380.2L182.2 380.7L182.7 381.2L183.1 381.7L183.6 382.1L184.0 382.5L184.5 382.9L184.9 383.3L185.4 383.7L185.8 384.1L186.3 384.4L186.7 384.7L187.1 385.0L187.6 385.2L188.0 385.3L188.5 385.4L188.9 385.6L189.4 385.7L189.8 385.7L190.3 385.7L190.7 385.6L191.2 385.6L191.6 385.5L192.1 385.3L192.5 385.1L192.9 384.9L193.4 384.6L193.8 384.4L194.3 384.0L194.7 383.7L195.2 383.3L195.6 382.9L196.1 382.5L196.5 382.2L197.0 381.7L197.4 381.3L197.8 380.9L198.3 380.4L198.7 380.0L199.2 379.5L199.6 379.1L200.1 378.6L200.5 378.3L201.0 377.9L201.4 377.5L201.9 377.1L202.3 376.7L202.8 376.4L203.2 376.1L203.6 375.8L204.1 375.4L204.5 375.2L205.0 375.0L205.4 374.8L205.9 374.6L206.3 374.5L206.8 374.5L207.2 374.5L207.7 374.3L208.1 374.3L208.6 374.3L209.0 374.3L209.4 374.4L209.9 374.5L210.3 374.7L210.8 374.9L211.2 375.1L211.7 375.3L212.1 375.5L212.6 375.8L213.0 376.1L213.5 376.4L213.9 376.7L214.3 377.0L214.8 377.3L215.2 377.7L215.7 378.1L216.1 378.5L216.6 378.9L217.0 379.2L217.5 379.7L217.9 380.0L218.4 380.4L218.8 380.7L219.3 381.2L219.7 381.6L220.1 381.9L220.6 382.3L221.0 382.6L221.5 382.9L221.9 383.2L222.4 383.6L222.8 383.9L223.3 384.2L223.7 384.4L224.2 384.6L224.6 384.9L225.0 385.1L225.5 385.3L225.9 385.5L226.4 385.7L226.8 385.8L227.3 385.9L227.7 385.9L228.2 386.0L228.6 386.0L229.1 386.0L229.5 385.9L230.0 385.9L230.4 385.8L230.8 385.7L231.3 385.6L231.7 385.4L232.2 385.3L232.6 385.1L233.1 384.9L233.5 384.7L234.0 384.5L234.4 384.3L234.9 384.1L235.3 383.8L235.8 383.5L236.2 383.2L236.6 382.9L237.1 382.6L237.5 382.3L238.0 381.9L238.4 381.6L238.9 381.3L239.3 381.0L239.8 380.6L240.2 380.2L240.7 379.8L241.1 379.4L241.5 379.1L242.0 378.8L242.4 378.4L242.9 378.1L243.3 377.8L243.8 377.5L244.2 377.2L244.7 376.9L245.1 376.6L245.6 376.3L246.0 376.0L246.5 375.7L246.9 375.4L247.3 375.3L247.8 375.1L248.2 374.9L248.7 374.7L249.1 374.4L249.6 374.3L250.0 374.2L250.5 374.1L250.9 373.9L251.4 373.9L251.8 373.8L252.2 373.8L252.7 373.8L253.1 373.8L253.6 373.8L254.0 373.8L254.5 373.8L254.9 373.8L255.4 373.9L255.8 373.9L256.3 374.0L256.7 374.2L257.2 374.3L257.6 374.5L258.0 374.6L258.5 374.8L258.9 375.0L259.4 375.2L259.8 375.4L260.3 375.6L260.7 375.8L261.2 376.0L261.6 376.2L262.1 376.4L262.5 376.7L263.0 377.0L263.4 377.2L263.8 377.6L264.3 377.9L264.7 378.2L265.2 378.5L265.6 378.8L266.1 379.0L266.5 379.3L267.0 379.6L267.4 379.9L267.9 380.2L268.3 380.4L268.7 380.8L269.2 381.1L269.6 381.4L270.1 381.7L270.5 381.9L271.0 382.1L271.4 382.4L271.9 382.6L272.3 382.9L272.8 383.2L273.2 383.5L273.7 383.8L274.1 384.0L274.5 384.2L275.0 384.4L275.4 384.5L275.9 384.7L276.3 384.8L276.8 385.0L277.2 385.1L277.7 385.3L278.1 385.4L278.6 385.5L279.0 385.6L279.4 385.6L279.9 385.7L280.3 385.8L280.8 385.9L281.2 385.9L281.7 386.0L282.1 386.0L282.6 386.0L283.0 386.0L283.5 385.9L283.9 385.8L284.4 385.7L284.8 385.7L285.2 385.7L285.7 385.6L286.1 385.5L286.6 385.4L287.0 385.2L287.5 385.2L287.9 385.1L288.4 385.0L288.8 384.8L289.3 384.7L289.7 384.5L290.2 384.4L290.6 384.2L291.0 384.0L291.5 383.7L291.9 383.5L292.4 383.3L292.8 383.1L293.3 382.9L293.7 382.7L294.2 382.5L294.6 382.2L295.1 382.0L295.5 381.7L295.9 381.5L296.4 381.2L296.8 381.0L297.3 380.7L297.7 380.5L298.2 380.2L298.6 379.9L299.1 379.5L299.5 379.4L300.0 379.2L300.4 379.0L300.9 378.8L301.3 378.6L301.7 378.3L302.2 378.0L302.6 377.7L303.1 377.4L303.5 377.2L304.0 377.0L304.4 376.7L304.9 376.5L305.3 376.4L305.8 376.1L306.2 375.7L306.6 375.4L307.1 375.4L307.5 375.3L308.0 375.2L308.4 375.2L308.9 375.1L309.3 374.9L309.8 374.6L310.2 374.4L310.7 374.3L311.1 374.3L311.6 374.1L312.0 374.0L312.4 373.9L312.9 373.8L313.3 373.4L313.8 373.3L314.2 373.4L314.7 373.5L315.1 373.3L315.6 373.4L316.0 373.5L316.5 373.3L316.9 373.0L317.3 373.1L317.8 373.2L318.2 373.1L318.7 373.1L319.1 373.2L319.6 373.3L320.0 373.3L320.5 373.3L320.9 373.3L321.4 373.3L321.8 373.5L322.3 373.5L322.7 373.6L323.1 373.5L323.6 373.6L324.0 373.6L324.5 374.0L324.9 374.3L325.4 374.5L325.8 374.3L326.3 374.2L326.7 374.3L327.2 374.5L327.6 374.9L328.1 375.1L328.5 375.4L328.9 375.5L329.4 375.7L329.8 375.9L330.3 376.0L330.7 376.2L331.2 376.5L331.6 376.8L332.1 376.9L332.5 376.9L333.0 377.0L333.4 377.3L333.8 377.5L334.3 377.5L334.7 377.5L335.2 377.8L335.6 378.3L336.1 378.5L336.5 378.9L337.0 379.0L337.4 378.9L337.9 379.0L338.3 379.3L338.8 379.6L339.2 379.7L339.6 379.8L340.1 379.9L340.5 380.4L341.0 381.0L341.4 380.8L341.9 380.8L342.3 380.9L342.8 381.2L343.2 381.4L343.7 381.6L344.1 381.5L344.5 381.5L345.0 381.9L345.4 382.2L345.9 382.2L346.3 382.5L346.8 382.8L347.2 383.0L347.7 382.9L348.1 383.1L348.6 383.3L349.0 383.5L349.5 383.4L349.9 383.4L350.3 383.5L350.8 383.8L351.2 384.2L351.7 384.6L352.1 384.8L352.6 384.7L353.0 384.6L353.5 384.6L353.9 384.6L354.4 384.7L354.8 384.5L355.3 384.6L355.7 384.8L356.1 385.3L356.6 385.5L357.0 385.5L357.5 385.3L357.9 385.2L358.4 385.4L358.8 385.5L359.3 386.0L359.7 385.8L360.2 385.5L360.6 385.1L361.0 385.3L361.5 385.4L361.9 385.3L362.4 385.0L362.8 385.0L363.3 385.3L363.7 385.3L364.2 384.8L364.6 384.8L365.1 385.2L365.5 385.5L366.0 385.2L366.4 384.8L366.8 384.7L367.3 384.9L367.7 384.8L368.2 384.7L368.6 384.7L369.1 384.6L369.5 384.4L370.0 384.1L370.4 384.0L370.9 384.0L371.3 383.9L371.7 383.8L372.2 383.9L372.6 384.0L373.1 383.8L373.5 383.7L374.0 383.5L374.4 383.3L374.9 383.0L375.3 382.9L375.8 382.7L376.2 382.6L376.7 382.3L377.1 382.1L377.5 382.1L378.0 382.2L378.4 382.2L378.9 382.4L379.3 382.3" fill="none" stroke="#28ccdc" stroke-width="1" stroke-linejoin="round"/>
<path d="M67.2 375.1L67.6 374.2L68.1 373.6L68.5 373.3L69.0 373.1L69.4 373.0L69.9 372.9L70.3 372.7L70.8 372.5L71.2 372.1L71.7 371.8L72.1 371.3L72.6 370.9L73.0 370.5L73.4 370.2L73.9 369.8L74.3 369.6L74.8 369.4L75.2 369.5L75.7 369.6L76.1 369.9L76.6 370.1L77.0 370.5L77.5 370.9L77.9 371.3L78.3 371.7L78.8 372.0L79.2 372.2L79.7 372.3L80.1 372.1L80.6 371.9L81.0 371.7L81.5 371.4L81.9 371.1L82.4 370.6L82.8 370.2L83.3 369.7L83.7 369.3L84.1 369.1L84.6 369.0L85.0 369.0L85.5 369.0L85.9 369.2L86.4 369.5L86.8 369.8L87.3 370.2L87.7 370.7L88.2 371.1L88.6 371.6L89.0 372.0L89.5 372.3L89.9 372.5L90.4 372.7L90.8 372.8L91.3 372.7L91.7 372.5L92.2 372.2L92.6 371.7L93.1 371.2L93.5 370.8L94.0 370.3L94.4 369.8L94.8 369.3L95.3 369.0L95.7 368.6L96.2 368.4L96.6 368.3L97.1 368.2L97.5 368.4L98.0 368.6L98.4 368.9L98.9 369.3L99.3 369.7L99.8 370.2L100.2 370.8L100.6 371.4L101.1 371.9L101.5 372.3L102.0 372.7L102.4 373.0L102.9 373.3L103.3 373.3L103.8 373.3L104.2 373.1L104.7 373.0L105.1 372.7L105.5 372.4L106.0 371.9L106.4 371.4L106.9 370.8L107.3 370.3L107.8 369.7L108.2 369.1L108.7 368.5L109.1 368.1L109.6 367.8L110.0 367.6L110.5 367.5L110.9 367.4L111.3 367.5L111.8 367.6L112.2 367.9L112.7 368.3L113.1 368.7L113.6 369.1L114.0 369.6L114.5 370.2L114.9 370.8L115.4 371.4L115.8 371.9L116.2 372.4L116.7 372.9L117.1 373.2L117.6 373.5L118.0 373.8L118.5 374.0L118.9 374.0L119.4 374.0L119.8 373.8L120.3 373.5L120.7 373.2L121.2 372.9L121.6 372.4L122.0 371.8L122.5 371.3L122.9 370.8L123.4 370.2L123.8 369.6L124.3 369.0L124.7 368.5L125.2 368.0L125.6 367.6L126.1 367.3L126.5 367.0L127.0 366.9L127.4 366.8L127.8 366.7L128.3 366.8L128.7 366.9L129.2 367.1L129.6 367.4L130.1 367.7L130.5 368.1L131.0 368.6L131.4 369.2L131.9 369.8L132.3 370.3L132.7 370.9L133.2 371.5L133.6 372.0L134.1 372.5L134.5 372.9L135.0 373.4L135.4 373.8L135.9 374.1L136.3 374.4L136.8 374.5L137.2 374.7L137.7 374.7L138.1 374.7L138.5 374.5L139.0 374.3L139.4 374.1L139.9 373.8L140.3 373.4L140.8 372.8L141.2 372.3L141.7 371.8L142.1 371.3L142.6 370.7L143.0 370.1L143.4 369.5L143.9 369.0L144.3 368.5L144.8 367.9L145.2 367.4L145.7 367.0L146.1 366.6L146.6 366.4L147.0 366.1L147.5 365.9L147.9 365.8L148.4 365.7L148.8 365.7L149.2 365.8L149.7 366.0L150.1 366.2L150.6 366.4L151.0 366.7L151.5 367.1L151.9 367.5L152.4 368.0L152.8 368.5L153.3 369.0L153.7 369.6L154.2 370.2L154.6 370.7L155.0 371.3L155.5 371.9L155.9 372.4L156.4 372.9L156.8 373.3L157.3 373.7L157.7 374.1L158.2 374.5L158.6 374.8L159.1 375.0L159.5 375.2L159.9 375.3L160.4 375.4L160.8 375.4L161.3 375.3L161.7 375.1L162.2 375.0L162.6 374.9L163.1 374.6L163.5 374.3L164.0 373.9L164.4 373.5L164.9 373.0L165.3 372.6L165.7 372.1L166.2 371.5L166.6 371.0L167.1 370.5L167.5 370.0L168.0 369.5L168.4 369.0L168.9 368.5L169.3 368.0L169.8 367.5L170.2 367.0L170.6 366.6L171.1 366.3L171.5 366.0L172.0 365.8L172.4 365.5L172.9 365.3L173.3 365.2L173.8 365.1L174.2 365.0L174.7 365.0L175.1 365.1L175.6 365.1L176.0 365.2L176.4 365.4L176.9 365.7L177.3 366.0L177.8 366.3L178.2 366.6L178.7 366.9L179.1 367.2L179.6 367.7L180.0 368.2L180.5 368.6L180.9 369.1L181.4 369.5L181.8 370.0L182.2 370.5L182.7 371.0L183.1 371.4L183.6 371.8L184.0 372.3L184.5 372.8L184.9 373.2L185.4 373.5L185.8 373.9L186.3 374.2L186.7 374.5L187.1 374.7L187.6 375.0L188.0 375.2L188.5 375.5L188.9 375.6L189.4 375.7L189.8 375.7L190.3 375.7L190.7 375.6L191.2 375.6L191.6 375.5L192.1 375.4L192.5 375.2L192.9 375.0L193.4 374.7L193.8 374.5L194.3 374.2L194.7 373.8L195.2 373.5L195.6 373.1L196.1 372.8L196.5 372.4L197.0 372.0L197.4 371.5L197.8 371.1L198.3 370.6L198.7 370.2L199.2 369.7L199.6 369.4L200.1 368.9L200.5 368.4L201.0 368.0L201.4 367.6L201.9 367.3L202.3 366.9L202.8 366.5L203.2 366.2L203.6 365.8L204.1 365.5L204.5 365.3L205.0 365.2L205.4 365.0L205.9 364.8L206.3 364.6L206.8 364.5L207.2 364.4L207.7 364.3L208.1 364.2L208.6 364.2L209.0 364.3L209.4 364.5L209.9 364.5L210.3 364.6L210.8 364.8L211.2 364.9L211.7 365.1L212.1 365.3L212.6 365.6L213.0 365.9L213.5 366.2L213.9 366.5L214.3 366.8L214.8 367.1L215.2 367.4L215.7 367.8L216.1 368.1L216.6 368.6L217.0 368.9L217.5 369.3L217.9 369.8L218.4 370.2L218.8 370.7L219.3 371.1L219.7 371.4L220.1 371.8L220.6 372.1L221.0 372.5L221.5 372.8L221.9 373.1L222.4 373.3L222.8 373.6L223.3 374.0L223.7 374.3L224.2 374.6L224.6 374.8L225.0 375.0L225.5 375.2L225.9 375.4L226.4 375.5L226.8 375.7L227.3 375.8L227.7 375.9L228.2 375.9L228.6 375.9L229.1 375.9L229.5 375.9L230.0 375.8L230.4 375.8L230.8 375.8L231.3 375.8L231.7 375.6L232.2 375.5L232.6 375.3L233.1 375.1L233.5 374.9L234.0 374.6L234.4 374.3L234.9 374.1L235.3 373.9L235.8 373.6L236.2 373.4L236.6 373.1L237.1 372.7L237.5 372.4L238.0 372.2L238.4 371.9L238.9 371.5L239.3 371.1L239.8 370.7L240.2 370.4L240.7 370.0L241.1 369.6L241.5 369.3L242.0 369.0L242.4 368.6L242.9 368.2L243.3 367.9L243.8 367.6L244.2 367.4L244.7 367.1L245.1 366.7L245.6 366.4L246.0 366.1L246.5 365.9L246.9 365.6L247.3 365.4L247.8 365.2L248.2 365.0L248.7 364.8L249.1 364.6L249.6 364.4L250.0 364.3L250.5 364.2L250.9 364.0L251.4 363.9L251.8 363.9L252.2 363.8L252.7 363.8L253.1 363.7L253.6 363.7L254.0 363.7L254.5 363.7L254.9 363.7L255.4 363.8L255.8 363.9L256.3 364.0L256.7 364.1L257.2 364.2L257.6 364.4L258.0 364.5L258.5 364.7L258.9 364.8L259.4 365.0L259.8 365.2L260.3 365.4L260.7 365.6L261.2 365.8L261.6 366.1L262.1 366.3L262.5 366.6L263.0 366.8L263.4 367.2L263.8 367.5L264.3 367.7L264.7 368.0L265.2 368.3L265.6 368.6L266.1 368.8L266.5 369.1L267.0 369.4L267.4 369.7L267.9 370.0L268.3 370.2L268.7 370.5L269.2 370.8L269.6 371.1L270.1 371.4L270.5 371.7L271.0 372.0L271.4 372.2L271.9 372.5L272.3 372.7L272.8 373.0L273.2 373.3L273.7 373.6L274.1 373.8L274.5 374.0L275.0 374.2L275.4 374.4L275.9 374.6L276.3 374.7L276.8 374.9L277.2 374.9L277.7 375.1L278.1 375.3L278.6 375.5L279.0 375.5L279.4 375.6L279.9 375.7L280.3 375.8L280.8 375.8L281.2 375.9L281.7 375.9L282.1 376.0L282.6 376.0L283.0 376.0L283.5 376.0L283.9 376.0L284.4 375.9L284.8 375.9L285.2 375.8L285.7 375.7L286.1 375.6L286.6 375.5L287.0 375.3L287.5 375.2L287.9 375.1L288.4 375.1L288.8 375.0L289.3 374.8L289.7 374.6L290.2 374.4L290.6 374.3L291.0 374.1L291.5 373.9L291.9 373.7L292.4 373.5L292.8 373.4L293.3 373.2L293.7 372.9L294.2 372.7L294.6 372.4L295.1 372.2L295.5 371.9L295.9 371.7L296.4 371.5L296.8 371.2L297.3 370.9L297.7 370.7L298.2 370.6L298.6 370.3L299.1 370.0L299.5 369.7L300.0 369.4L300.4 369.2L300.9 368.9L301.3 368.6L301.7 368.3L302.2 368.1L302.6 367.9L303.1 367.6L303.5 367.4L304.0 367.1L304.4 366.9L304.9 366.7L305.3 366.4L305.8 366.3L306.2 366.2L306.6 366.0L307.1 365.7L307.5 365.5L308.0 365.4L308.4 365.3L308.9 365.1L309.3 364.7L309.8 364.5L310.2 364.4L310.7 364.1L311.1 364.0L311.6 363.8L312.0 363.8L312.4 363.8L312.9 363.9L313.3 363.8L313.8 363.5L314.2 363.2L314.7 363.1L315.1 363.0L315.6 363.0L316.0 363.1L316.5 363.1L316.9 363.2L317.3 363.2L317.8 363.3L318.2 363.4L318.7 363.4L319.1 363.4L319.6 363.6L320.0 363.5L320.5 363.4L320.9 363.3L321.4 363.2L321.8 363.4L322.3 363.8L322.7 363.9L323.1 363.7L323.6 363.6L324.0 363.8L324.5 364.0L324.9 364.2L325.4 364.3L325.8 364.5L326.3 364.6L326.7 364.7L327.2 364.8L327.6 365.0L328.1 365.1L328.5 365.4L328.9 365.5L329.4 365.8L329.8 365.7L330.3 366.0L330.7 366.2L331.2 366.6L331.6 366.5L332.1 366.6L332.5 366.6L333.0 367.0L333.4 367.2L333.8 367.4L334.3 367.3L334.7 367.4L335.2 367.6L335.6 368.0L336.1 368.0L336.5 368.2L337.0 368.4L337.4 369.0L337.9 369.2L338.3 369.8L338.8 369.9L339.2 370.1L339.6 369.9L340.1 370.0L340.5 370.2L341.0 370.2L341.4 370.4L341.9 370.5L342.3 370.9L342.8 370.5L343.2 370.8L343.7 371.3L344.1 371.9L344.5 372.1L345.0 372.1L345.4 372.2L345.9 372.5L346.3 372.7L346.8 372.9L347.2 373.0L347.7 373.2L348.1 373.2L348.6 373.3L349.0 373.4L349.5 373.8L349.9 374.0L350.3 374.3L350.8 374.4L351.2 374.2L351.7 373.9L352.1 374.1L352.6 374.7L353.0 374.6L353.5 374.5L353.9 374.3L354.4 374.3L354.8 374.3L355.3 374.6L355.7 375.1L356.1 375.4L356.6 375.5L357.0 375.1L357.5 374.8L357.9 374.6L358.4 375.2L358.8 375.3L359.3 375.0L359.7 374.7L360.2 375.2L360.6 375.2L361.0 375.1L361.5 374.7L361.9 375.2L362.4 375.4L362.8 375.6L363.3 375.4L363.7 375.2L364.2 375.1L364.6 375.0L365.1 374.8L365.5 374.6L366.0 374.6L366.4 374.6L366.8 374.8L367.3 374.5L367.7 374.5L368.2 374.5L368.6 375.0L369.1 374.8L369.5 374.3L370.0 373.8L370.4 374.0L370.9 374.2L371.3 374.1L371.7 373.8L372.2 373.7L372.6 373.6L373.1 373.4L373.5 373.1L374.0 373.2L374.4 373.7L374.9 373.7L375.3 373.2L375.8 373.0L376.2 373.0L376.7 372.7L377.1 372.3L377.5 372.3L378.0 372.7L378.4 372.5L378.9 372.3L379.3 371.9" fill="none" stroke="#7878cc" stroke-width="1" stroke-linejoin="round"/>
<path d="M67.2 365.1L67.6 364.2L68.1 363.7L68.5 363.3L69.0 363.1L69.4 362.9L69.9 362.8L70.3 362.6L70.8 362.5L71.2 362.3L71.7 361.9L72.1 361.5L72.6 361.0L73.0 360.6L73.4 360.2L73.9 359.9L74.3 359.7L74.8 359.5L75.2 359.5L75.7 359.6L76.1 359.8L76.6 360.2L77.0 360.6L77.5 361.0L77.9 361.3L78.3 361.7L78.8 362.0L79.2 362.1L79.7 362.2L80.1 362.1L80.6 362.0L81.0 361.8L81.5 361.5L81.9 361.2L82.4 360.8L82.8 360.3L83.3 359.9L83.7 359.5L84.1 359.3L84.6 359.1L85.0 359.0L85.5 359.0L85.9 359.2L86.4 359.5L86.8 359.8L87.3 360.2L87.7 360.6L88.2 361.1L88.6 361.5L89.0 361.9L89.5 362.3L89.9 362.6L90.4 362.7L90.8 362.8L91.3 362.7L91.7 362.5L92.2 362.3L92.6 361.9L93.1 361.5L93.5 361.0L94.0 360.4L94.4 360.0L94.8 359.5L95.3 359.1L95.7 358.7L96.2 358.5L96.6 358.3L97.1 358.3L97.5 358.4L98.0 358.6L98.4 358.8L98.9 359.2L99.3 359.7L99.8 360.2L100.2 360.7L100.6 361.3L101.1 361.8L101.5 362.3L102.0 362.7L102.4 363.0L102.9 363.2L103.3 363.4L103.8 363.4L104.2 363.4L104.7 363.2L105.1 363.0L105.5 362.5L106.0 362.0L106.4 361.5L106.9 361.0L107.3 360.4L107.8 359.8L108.2 359.3L108.7 358.9L109.1 358.4L109.6 358.0L110.0 357.8L110.5 357.6L110.9 357.5L111.3 357.5L111.8 357.6L112.2 357.8L112.7 358.1L113.1 358.5L113.6 359.0L114.0 359.6L114.5 360.2L114.9 360.8L115.4 361.3L115.8 361.9L116.2 362.4L116.7 362.9L117.1 363.2L117.6 363.6L118.0 363.8L118.5 364.0L118.9 364.1L119.4 364.0L119.8 363.9L120.3 363.7L120.7 363.4L121.2 363.0L121.6 362.6L122.0 362.1L122.5 361.5L122.9 360.9L123.4 360.4L123.8 359.8L124.3 359.2L124.7 358.7L125.2 358.2L125.6 357.8L126.1 357.4L126.5 357.1L127.0 356.9L127.4 356.7L127.8 356.7L128.3 356.7L128.7 356.8L129.2 357.0L129.6 357.3L130.1 357.6L130.5 358.0L131.0 358.5L131.4 359.0L131.9 359.5L132.3 360.1L132.7 360.7L133.2 361.3L133.6 361.8L134.1 362.3L134.5 362.9L135.0 363.3L135.4 363.7L135.9 364.1L136.3 364.3L136.8 364.5L137.2 364.6L137.7 364.7L138.1 364.7L138.5 364.6L139.0 364.4L139.4 364.1L139.9 363.8L140.3 363.4L140.8 363.1L141.2 362.6L141.7 362.1L142.1 361.5L142.6 360.9L143.0 360.3L143.4 359.7L143.9 359.2L144.3 358.6L144.8 358.1L145.2 357.6L145.7 357.2L146.1 356.8L146.6 356.5L147.0 356.2L147.5 356.0L147.9 355.8L148.4 355.7L148.8 355.6L149.2 355.8L149.7 356.0L150.1 356.2L150.6 356.5L151.0 356.7L151.5 357.1L151.9 357.4L152.4 357.9L152.8 358.4L153.3 358.9L153.7 359.4L154.2 360.0L154.6 360.5L155.0 361.1L155.5 361.6L155.9 362.1L156.4 362.7L156.8 363.2L157.3 363.7L157.7 364.1L158.2 364.3L158.6 364.6L159.1 364.9L159.5 365.2L159.9 365.3L160.4 365.5L160.8 365.5L161.3 365.5L161.7 365.3L162.2 365.1L162.6 364.9L163.1 364.7L163.5 364.4L164.0 364.0L164.4 363.7L164.9 363.3L165.3 362.8L165.7 362.3L166.2 361.8L166.6 361.3L167.1 360.7L167.5 360.2L168.0 359.6L168.4 359.2L168.9 358.7L169.3 358.2L169.8 357.7L170.2 357.3L170.6 356.8L171.1 356.5L171.5 356.2L172.0 355.9L172.4 355.6L172.9 355.4L173.3 355.1L173.8 355.0L174.2 355.0L174.7 355.0L175.1 355.0L175.6 355.0L176.0 355.2L176.4 355.4L176.9 355.6L177.3 355.8L177.8 356.1L178.2 356.3L178.7 356.7L179.1 357.1L179.6 357.5L180.0 358.0L180.5 358.4L180.9 358.8L181.4 359.3L181.8 359.8L182.2 360.3L182.7 360.8L183.1 361.3L183.6 361.8L184.0 362.2L184.5 362.6L184.9 363.0L185.4 363.4L185.8 363.8L186.3 364.1L186.7 364.4L187.1 364.7L187.6 365.0L188.0 365.2L188.5 365.4L188.9 365.5L189.4 365.7L189.8 365.7L190.3 365.7L190.7 365.8L191.2 365.8L191.6 365.6L192.1 365.4L192.5 365.2L192.9 365.0L193.4 364.8L193.8 364.6L194.3 364.3L194.7 364.0L195.2 363.7L195.6 363.3L196.1 362.9L196.5 362.5L197.0 362.1L197.4 361.7L197.8 361.3L198.3 360.8L198.7 360.4L199.2 360.0L199.6 359.6L200.1 359.1L200.5 358.7L201.0 358.2L201.4 357.8L201.9 357.4L202.3 357.1L202.8 356.7L203.2 356.4L203.6 356.0L204.1 355.7L204.5 355.4L205.0 355.2L205.4 355.0L205.9 354.8L206.3 354.6L206.8 354.5L207.2 354.4L207.7 354.4L208.1 354.3L208.6 354.4L209.0 354.4L209.4 354.5L209.9 354.5L210.3 354.6L210.8 354.6L211.2 354.8L211.7 355.0L212.1 355.2L212.6 355.4L213.0 355.7L213.5 356.0L213.9 356.3L214.3 356.6L214.8 356.9L215.2 357.4L215.7 357.8L216.1 358.2L216.6 358.4L217.0 358.7L217.5 359.1L217.9 359.6L218.4 360.0L218.8 360.4L219.3 360.8L219.7 361.2L220.1 361.5L220.6 361.9L221.0 362.3L221.5 362.6L221.9 363.0L222.4 363.3L222.8 363.7L223.3 363.9L223.7 364.2L224.2 364.4L224.6 364.7L225.0 364.9L225.5 365.1L225.9 365.3L226.4 365.4L226.8 365.5L227.3 365.6L227.7 365.8L228.2 365.9L228.6 365.9L229.1 365.9L229.5 365.9L230.0 365.8L230.4 365.8L230.8 365.8L231.3 365.8L231.7 365.7L232.2 365.5L232.6 365.3L233.1 365.1L233.5 364.9L234.0 364.7L234.4 364.5L234.9 364.3L235.3 364.0L235.8 363.8L236.2 363.5L236.6 363.2L237.1 362.8L237.5 362.5L238.0 362.2L238.4 361.9L238.9 361.6L239.3 361.3L239.8 361.0L240.2 360.6L240.7 360.2L241.1 359.8L241.5 359.4L242.0 359.1L242.4 358.8L242.9 358.5L243.3 358.2L243.8 357.9L244.2 357.5L244.7 357.1L245.1 356.9L245.6 356.6L246.0 356.3L246.5 356.0L246.9 355.7L247.3 355.4L247.8 355.3L248.2 355.1L248.7 354.9L249.1 354.6L249.6 354.5L250.0 354.4L250.5 354.3L250.9 354.2L251.4 354.0L251.8 353.9L252.2 353.8L252.7 353.8L253.1 353.7L253.6 353.7L254.0 353.7L254.5 353.7L254.9 353.7L255.4 353.8L255.8 353.9L256.3 353.9L256.7 353.9L257.2 354.0L257.6 354.2L258.0 354.3L258.5 354.5L258.9 354.6L259.4 354.9L259.8 355.0L260.3 355.2L260.7 355.4L261.2 355.6L261.6 355.9L262.1 356.1L262.5 356.4L263.0 356.7L263.4 357.0L263.8 357.2L264.3 357.5L264.7 357.9L265.2 358.2L265.6 358.4L266.1 358.7L266.5 359.0L267.0 359.3L267.4 359.6L267.9 359.9L268.3 360.2L268.7 360.4L269.2 360.7L269.6 361.0L270.1 361.3L270.5 361.6L271.0 361.8L271.4 362.1L271.9 362.4L272.3 362.6L272.8 362.9L273.2 363.1L273.7 363.4L274.1 363.6L274.5 363.9L275.0 364.1L275.4 364.3L275.9 364.4L276.3 364.6L276.8 364.7L277.2 364.9L277.7 365.1L278.1 365.3L278.6 365.4L279.0 365.5L279.4 365.6L279.9 365.6L280.3 365.7L280.8 365.7L281.2 365.8L281.7 365.8L282.1 365.9L282.6 366.0L283.0 365.9L283.5 365.9L283.9 365.8L284.4 365.8L284.8 365.8L285.2 365.8L285.7 365.7L286.1 365.6L286.6 365.6L287.0 365.5L287.5 365.4L287.9 365.2L288.4 365.1L288.8 365.0L289.3 364.9L289.7 364.7L290.2 364.5L290.6 364.3L291.0 364.0L291.5 363.8L291.9 363.7L292.4 363.6L292.8 363.4L293.3 363.2L293.7 363.0L294.2 362.7L294.6 362.5L295.1 362.3L295.5 362.0L295.9 361.7L296.4 361.5L296.8 361.3L297.3 360.9L297.7 360.6L298.2 360.5L298.6 360.4L299.1 360.2L299.5 360.0L300.0 359.6L300.4 359.3L300.9 359.1L301.3 359.0L301.7 358.7L302.2 358.3L302.6 358.0L303.1 357.9L303.5 357.6L304.0 357.3L304.4 357.0L304.9 356.8L305.3 356.6L305.8 356.5L306.2 356.3L306.6 356.1L307.1 355.8L307.5 355.6L308.0 355.3L308.4 355.2L308.9 355.1L309.3 354.9L309.8 354.7L310.2 354.5L310.7 354.3L311.1 354.0L311.6 353.9L312.0 353.9L312.4 353.9L312.9 353.8L313.3 353.7L313.8 353.7L314.2 353.5L314.7 353.5L315.1 353.5L315.6 353.5L316.0 353.4L316.5 353.2L316.9 352.9L317.3 352.9L317.8 353.2L318.2 353.4L318.7 353.4L319.1 353.3L319.6 353.3L320.0 353.5L320.5 353.4L320.9 353.4L321.4 353.4L321.8 353.4L322.3 353.3L322.7 353.4L323.1 353.7L323.6 353.8L324.0 353.8L324.5 354.0L324.9 354.1L325.4 354.4L325.8 354.4L326.3 354.4L326.7 354.3L327.2 354.4L327.6 354.5L328.1 354.9L328.5 355.4L328.9 355.7L329.4 355.7L329.8 355.5L330.3 355.4L330.7 355.6L331.2 356.0L331.6 356.2L332.1 356.2L332.5 356.6L333.0 357.1L333.4 357.3L333.8 357.3L334.3 357.5L334.7 357.8L335.2 358.0L335.6 357.8L336.1 357.6L336.5 357.5L337.0 357.6L337.4 358.0L337.9 358.6L338.3 359.0L338.8 359.2L339.2 359.5L339.6 359.8L340.1 359.7L340.5 360.0L341.0 360.5L341.4 360.8L341.9 361.0L342.3 361.1L342.8 361.2L343.2 361.0L343.7 360.9L344.1 361.0L344.5 361.1L345.0 361.7L345.4 362.1L345.9 362.2L346.3 362.2L346.8 362.1L347.2 362.4L347.7 362.7L348.1 363.1L348.6 363.0L349.0 363.0L349.5 363.1L349.9 363.5L350.3 363.9L350.8 364.4L351.2 364.8L351.7 364.5L352.1 364.1L352.6 363.9L353.0 364.3L353.5 364.2L353.9 364.0L354.4 364.4L354.8 364.7L355.3 364.6L355.7 364.3L356.1 364.7L356.6 364.9L357.0 365.0L357.5 364.7L357.9 364.8L358.4 365.0L358.8 365.1L359.3 365.0L359.7 365.2L360.2 365.1L360.6 364.7L361.0 364.4L361.5 364.6L361.9 364.3L362.4 364.3L362.8 364.7L363.3 365.3L363.7 365.4L364.2 364.8L364.6 364.6L365.1 364.8L365.5 365.6L366.0 365.5L366.4 364.9L366.8 364.7L367.3 364.5L367.7 364.5L368.2 364.1L368.6 364.2L369.1 364.3L369.5 364.7L370.0 364.8L370.4 364.5L370.9 364.1L371.3 363.8L371.7 363.7L372.2 363.7L372.6 363.8L373.1 363.9L373.5 363.5L374.0 363.2L374.4 363.2L374.9 363.3L375.3 363.3L375.8 363.1L376.2 363.4L376.7 363.3L377.1 363.4L377.5 362.9L378.0 362.7L378.4 362.3L378.9 361.9L379.3 361.6" fill="none" stroke="#a8c040" stroke-width="1" stroke-linejoin="round"/>
<path d="M67.2 355.1L67.6 354.1L68.1 353.6L68.5 353.3L69.0 353.1L69.4 353.0L69.9 352.9L70.3 352.8L70.8 352.6L71.2 352.3L71.7 352.0L72.1 351.6L72.6 351.2L73.0 350.7L73.4 350.2L73.9 349.9L74.3 349.7L74.8 349.6L75.2 349.5L75.7 349.6L76.1 349.8L76.6 350.1L77.0 350.6L77.5 351.0L77.9 351.3L78.3 351.7L78.8 352.0L79.2 352.2L79.7 352.3L80.1 352.3L80.6 352.2L81.0 351.9L81.5 351.6L81.9 351.3L82.4 350.9L82.8 350.4L83.3 350.0L83.7 349.6L84.1 349.4L84.6 349.1L85.0 349.0L85.5 349.1L85.9 349.2L86.4 349.5L86.8 349.7L87.3 350.1L87.7 350.6L88.2 351.1L88.6 351.5L89.0 351.8L89.5 352.2L89.9 352.5L90.4 352.7L90.8 352.7L91.3 352.7L91.7 352.6L92.2 352.3L92.6 352.0L93.1 351.6L93.5 351.1L94.0 350.6L94.4 350.1L94.8 349.6L95.3 349.1L95.7 348.7L96.2 348.5L96.6 348.4L97.1 348.4L97.5 348.4L98.0 348.5L98.4 348.8L98.9 349.2L99.3 349.6L99.8 350.1L100.2 350.6L100.6 351.2L101.1 351.7L101.5 352.2L102.0 352.6L102.4 353.1L102.9 353.3L103.3 353.5L103.8 353.5L104.2 353.4L104.7 353.2L105.1 352.9L105.5 352.6L106.0 352.2L106.4 351.7L106.9 351.1L107.3 350.5L107.8 349.9L108.2 349.4L108.7 348.9L109.1 348.5L109.6 348.1L110.0 347.8L110.5 347.6L110.9 347.5L111.3 347.5L111.8 347.6L112.2 347.8L112.7 348.1L113.1 348.6L113.6 349.0L114.0 349.5L114.5 350.0L114.9 350.6L115.4 351.2L115.8 351.7L116.2 352.3L116.7 352.7L117.1 353.1L117.6 353.5L118.0 353.9L118.5 354.0L118.9 354.1L119.4 354.1L119.8 354.0L120.3 353.8L120.7 353.5L121.2 353.1L121.6 352.7L122.0 352.3L122.5 351.7L122.9 351.1L123.4 350.5L123.8 350.0L124.3 349.4L124.7 348.9L125.2 348.3L125.6 347.9L126.1 347.5L126.5 347.2L127.0 346.9L127.4 346.8L127.8 346.7L128.3 346.6L128.7 346.7L129.2 346.9L129.6 347.2L130.1 347.5L130.5 347.9L131.0 348.4L131.4 349.0L131.9 349.5L132.3 350.0L132.7 350.5L133.2 351.1L133.6 351.7L134.1 352.2L134.5 352.8L135.0 353.3L135.4 353.7L135.9 354.0L136.3 354.3L136.8 354.5L137.2 354.6L137.7 354.6L138.1 354.6L138.5 354.6L139.0 354.5L139.4 354.2L139.9 353.9L140.3 353.5L140.8 353.1L141.2 352.6L141.7 352.2L142.1 351.6L142.6 351.1L143.0 350.5L143.4 349.9L143.9 349.3L144.3 348.8L144.8 348.3L145.2 347.8L145.7 347.4L146.1 346.9L146.6 346.6L147.0 346.3L147.5 346.1L147.9 346.0L148.4 345.8L148.8 345.8L149.2 345.7L149.7 345.9L150.1 346.0L150.6 346.3L151.0 346.6L151.5 347.0L151.9 347.4L152.4 347.8L152.8 348.3L153.3 348.8L153.7 349.3L154.2 349.8L154.6 350.4L155.0 351.0L155.5 351.5L155.9 352.1L156.4 352.6L156.8 353.1L157.3 353.6L157.7 354.0L158.2 354.4L158.6 354.7L159.1 354.9L159.5 355.1L159.9 355.2L160.4 355.4L160.8 355.5L161.3 355.5L161.7 355.3L162.2 355.2L162.6 355.0L163.1 354.8L163.5 354.5L164.0 354.2L164.4 353.8L164.9 353.5L165.3 352.9L165.7 352.4L166.2 351.9L166.6 351.4L167.1 350.9L167.5 350.3L168.0 349.8L168.4 349.3L168.9 348.8L169.3 348.3L169.8 347.8L170.2 347.4L170.6 347.0L171.1 346.6L171.5 346.3L172.0 346.0L172.4 345.7L172.9 345.5L173.3 345.3L173.8 345.1L174.2 345.1L174.7 345.0L175.1 345.0L175.6 345.0L176.0 345.1L176.4 345.3L176.9 345.5L177.3 345.7L177.8 346.0L178.2 346.3L178.7 346.7L179.1 347.1L179.6 347.4L180.0 347.8L180.5 348.3L180.9 348.7L181.4 349.1L181.8 349.6L182.2 350.1L182.7 350.6L183.1 351.0L183.6 351.5L184.0 352.0L184.5 352.4L184.9 352.9L185.4 353.3L185.8 353.6L186.3 354.0L186.7 354.4L187.1 354.7L187.6 354.9L188.0 355.2L188.5 355.4L188.9 355.5L189.4 355.6L189.8 355.6L190.3 355.7L190.7 355.7L191.2 355.7L191.6 355.5L192.1 355.5L192.5 355.4L192.9 355.1L193.4 354.9L193.8 354.6L194.3 354.4L194.7 354.2L195.2 353.8L195.6 353.4L196.1 353.1L196.5 352.7L197.0 352.3L197.4 351.8L197.8 351.4L198.3 351.0L198.7 350.6L199.2 350.1L199.6 349.7L200.1 349.3L200.5 348.8L201.0 348.4L201.4 348.0L201.9 347.6L202.3 347.1L202.8 346.8L203.2 346.4L203.6 346.1L204.1 345.8L204.5 345.6L205.0 345.3L205.4 345.0L205.9 344.8L206.3 344.6L206.8 344.6L207.2 344.5L207.7 344.4L208.1 344.4L208.6 344.4L209.0 344.4L209.4 344.4L209.9 344.4L210.3 344.5L210.8 344.7L211.2 344.8L211.7 344.9L212.1 345.1L212.6 345.4L213.0 345.6L213.5 345.9L213.9 346.2L214.3 346.6L214.8 347.0L215.2 347.3L215.7 347.6L216.1 347.9L216.6 348.3L217.0 348.7L217.5 349.1L217.9 349.4L218.4 349.8L218.8 350.2L219.3 350.6L219.7 351.0L220.1 351.3L220.6 351.8L221.0 352.2L221.5 352.5L221.9 352.9L222.4 353.3L222.8 353.5L223.3 353.8L223.7 354.1L224.2 354.4L224.6 354.6L225.0 354.8L225.5 355.0L225.9 355.2L226.4 355.4L226.8 355.5L227.3 355.6L227.7 355.7L228.2 355.9L228.6 356.0L229.1 356.0L229.5 356.0L230.0 355.9L230.4 355.9L230.8 355.8L231.3 355.7L231.7 355.6L232.2 355.5L232.6 355.3L233.1 355.2L233.5 355.1L234.0 354.9L234.4 354.6L234.9 354.4L235.3 354.1L235.8 353.8L236.2 353.5L236.6 353.3L237.1 353.0L237.5 352.7L238.0 352.4L238.4 352.1L238.9 351.7L239.3 351.4L239.8 351.1L240.2 350.7L240.7 350.3L241.1 349.9L241.5 349.6L242.0 349.3L242.4 349.0L242.9 348.6L243.3 348.2L243.8 347.9L244.2 347.6L244.7 347.3L245.1 346.9L245.6 346.7L246.0 346.4L246.5 346.1L246.9 345.9L247.3 345.6L247.8 345.4L248.2 345.1L248.7 345.0L249.1 344.7L249.6 344.5L250.0 344.3L250.5 344.2L250.9 344.1L251.4 344.1L251.8 344.0L252.2 343.9L252.7 343.8L253.1 343.8L253.6 343.8L254.0 343.8L254.5 343.8L254.9 343.8L255.4 343.8L255.8 343.8L256.3 343.9L256.7 344.0L257.2 344.1L257.6 344.3L258.0 344.4L258.5 344.5L258.9 344.7L259.4 344.9L259.8 345.0L260.3 345.2L260.7 345.3L261.2 345.6L261.6 345.8L262.1 346.0L262.5 346.3L263.0 346.5L263.4 346.8L263.8 347.0L264.3 347.3L264.7 347.6L265.2 348.0L265.6 348.3L266.1 348.6L266.5 348.8L267.0 349.1L267.4 349.4L267.9 349.7L268.3 349.9L268.7 350.2L269.2 350.5L269.6 350.9L270.1 351.2L270.5 351.4L271.0 351.7L271.4 351.9L271.9 352.1L272.3 352.4L272.8 352.7L273.2 353.0L273.7 353.3L274.1 353.6L274.5 353.8L275.0 354.0L275.4 354.1L275.9 354.3L276.3 354.5L276.8 354.7L277.2 354.9L277.7 355.0L278.1 355.2L278.6 355.3L279.0 355.3L279.4 355.4L279.9 355.5L280.3 355.6L280.8 355.7L281.2 355.9L281.7 355.9L282.1 355.9L282.6 356.0L283.0 356.0L283.5 356.0L283.9 355.9L284.4 355.9L284.8 355.8L285.2 355.8L285.7 355.7L286.1 355.7L286.6 355.6L287.0 355.5L287.5 355.4L287.9 355.2L288.4 355.0L288.8 354.9L289.3 354.9L289.7 354.7L290.2 354.4L290.6 354.3L291.0 354.1L291.5 354.0L291.9 353.8L292.4 353.6L292.8 353.4L293.3 353.2L293.7 353.0L294.2 352.8L294.6 352.6L295.1 352.3L295.5 352.1L295.9 351.9L296.4 351.6L296.8 351.4L297.3 351.2L297.7 350.9L298.2 350.6L298.6 350.4L299.1 350.1L299.5 349.8L300.0 349.5L300.4 349.3L300.9 349.1L301.3 348.8L301.7 348.5L302.2 348.2L302.6 348.1L303.1 348.0L303.5 347.9L304.0 347.6L304.4 347.3L304.9 347.0L305.3 346.7L305.8 346.3L306.2 346.2L306.6 346.1L307.1 345.8L307.5 345.5L308.0 345.4L308.4 345.2L308.9 345.0L309.3 344.9L309.8 344.8L310.2 344.6L310.7 344.4L311.1 344.2L311.6 344.1L312.0 344.0L312.4 344.1L312.9 343.9L313.3 343.7L313.8 343.6L314.2 343.6L314.7 343.5L315.1 343.4L315.6 343.3L316.0 343.3L316.5 343.2L316.9 343.1L317.3 343.1L317.8 343.2L318.2 343.2L318.7 343.1L319.1 343.0L319.6 343.1L320.0 343.2L320.5 343.3L320.9 343.2L321.4 343.0L321.8 342.9L322.3 343.3L322.7 343.6L323.1 343.6L323.6 343.5L324.0 343.5L324.5 343.7L324.9 343.9L325.4 344.2L325.8 344.4L326.3 344.6L326.7 344.7L327.2 344.8L327.6 344.7L328.1 344.6L328.5 344.9L328.9 345.2L329.4 345.6L329.8 345.6L330.3 345.6L330.7 345.7L331.2 346.0L331.6 346.4L332.1 346.5L332.5 346.4L333.0 346.6L333.4 346.8L333.8 347.0L334.3 347.3L334.7 347.4L335.2 347.7L335.6 347.8L336.1 348.1L336.5 348.0L337.0 348.1L337.4 348.4L337.9 348.8L338.3 348.9L338.8 349.2L339.2 349.5L339.6 349.8L340.1 349.9L340.5 350.2L341.0 350.4L341.4 350.6L341.9 350.6L342.3 350.6L342.8 350.3L343.2 350.5L343.7 351.1L344.1 351.6L344.5 351.7L345.0 351.6L345.4 351.8L345.9 352.1L346.3 352.0L346.8 352.1L347.2 352.5L347.7 352.9L348.1 353.1L348.6 353.5L349.0 353.7L349.5 353.6L349.9 353.1L350.3 353.1L350.8 353.4L351.2 354.0L351.7 354.4L352.1 354.6L352.6 354.6L353.0 354.6L353.5 354.5L353.9 354.2L354.4 354.2L354.8 354.4L355.3 354.8L355.7 354.8L356.1 354.9L356.6 355.3L357.0 355.3L357.5 355.0L357.9 354.7L358.4 355.1L358.8 355.6L359.3 355.9L359.7 355.7L360.2 355.2L360.6 354.9L361.0 355.0L361.5 355.2L361.9 355.1L362.4 355.3L362.8 355.2L363.3 355.3L363.7 355.2L364.2 355.1L364.6 354.9L365.1 354.9L365.5 355.0L366.0 355.0L366.4 355.0L366.8 355.3L367.3 355.4L367.7 355.2L368.2 354.2L368.6 354.1L369.1 354.4L369.5 354.7L370.0 354.3L370.4 353.8L370.9 353.4L371.3 353.9L371.7 354.5L372.2 354.6L372.6 354.3L373.1 353.7L373.5 353.6L374.0 353.5L374.4 353.5L374.9 353.1L375.3 352.7L375.8 352.7L376.2 352.9L376.7 353.2L377.1 353.1L377.5 352.9L378.0 352.4L378.4 352.4L378.9 352.3L379.3 352.3" fill="none" stroke="#a8a8a8" stroke-width="1" stroke-linejoin="round"/>
<path d="M67.2 345.1L67.6 344.1L68.1 343.6L68.5 343.3L69.0 343.1L69.4 343.0L69.9 343.0L70.3 342.9L70.8 342.7L71.2 342.5L71.7 342.2L72.1 341.8L72.6 341.3L73.0 340.8L73.4 340.4L73.9 340.1L74.3 339.8L74.8 339.6L75.2 339.6L75.7 339.7L76.1 339.9L76.6 340.2L77.0 340.5L77.5 341.0L77.9 341.4L78.3 341.7L78.8 341.9L79.2 342.2L79.7 342.3L80.1 342.3L80.6 342.2L81.0 342.0L81.5 341.7L81.9 341.4L82.4 341.0L82.8 340.6L83.3 340.2L83.7 339.9L84.1 339.6L84.6 339.3L85.0 339.2L85.5 339.1L85.9 339.2L86.4 339.4L86.8 339.7L87.3 340.1L87.7 340.5L88.2 341.0L88.6 341.5L89.0 341.9L89.5 342.2L89.9 342.5L90.4 342.7L90.8 342.8L91.3 342.8L91.7 342.7L92.2 342.4L92.6 342.0L93.1 341.6L93.5 341.2L94.0 340.7L94.4 340.2L94.8 339.6L95.3 339.2L95.7 338.9L96.2 338.6L96.6 338.4L97.1 338.4L97.5 338.4L98.0 338.5L98.4 338.8L98.9 339.2L99.3 339.6L99.8 340.0L100.2 340.6L100.6 341.1L101.1 341.7L101.5 342.1L102.0 342.6L102.4 343.0L102.9 343.3L103.3 343.4L103.8 343.4L104.2 343.3L104.7 343.2L105.1 343.0L105.5 342.7L106.0 342.3L106.4 341.9L106.9 341.3L107.3 340.7L107.8 340.1L108.2 339.5L108.7 339.0L109.1 338.6L109.6 338.2L110.0 337.9L110.5 337.7L110.9 337.5L111.3 337.5L111.8 337.6L112.2 337.8L112.7 338.1L113.1 338.5L113.6 338.9L114.0 339.4L114.5 340.0L114.9 340.6L115.4 341.1L115.8 341.6L116.2 342.3L116.7 342.8L117.1 343.2L117.6 343.5L118.0 343.8L118.5 344.0L118.9 344.2L119.4 344.2L119.8 344.1L120.3 343.9L120.7 343.7L121.2 343.3L121.6 342.8L122.0 342.3L122.5 341.8L122.9 341.3L123.4 340.7L123.8 340.2L124.3 339.6L124.7 339.0L125.2 338.5L125.6 338.0L126.1 337.6L126.5 337.3L127.0 337.0L127.4 336.9L127.8 336.8L128.3 336.8L128.7 336.8L129.2 336.9L129.6 337.1L130.1 337.5L130.5 337.9L131.0 338.4L131.4 338.9L131.9 339.4L132.3 339.9L132.7 340.5L133.2 341.1L133.6 341.8L134.1 342.3L134.5 342.8L135.0 343.3L135.4 343.7L135.9 344.1L136.3 344.4L136.8 344.5L137.2 344.6L137.7 344.7L138.1 344.7L138.5 344.7L139.0 344.5L139.4 344.3L139.9 344.0L140.3 343.7L140.8 343.3L141.2 342.9L141.7 342.3L142.1 341.8L142.6 341.2L143.0 340.7L143.4 340.1L143.9 339.5L144.3 338.9L144.8 338.4L145.2 337.9L145.7 337.4L146.1 337.0L146.6 336.6L147.0 336.3L147.5 336.1L147.9 335.9L148.4 335.8L148.8 335.8L149.2 335.9L149.7 336.0L150.1 336.1L150.6 336.3L151.0 336.5L151.5 336.9L151.9 337.3L152.4 337.7L152.8 338.2L153.3 338.7L153.7 339.2L154.2 339.7L154.6 340.3L155.0 340.8L155.5 341.4L155.9 341.9L156.4 342.5L156.8 343.0L157.3 343.4L157.7 343.8L158.2 344.2L158.6 344.5L159.1 344.9L159.5 345.1L159.9 345.2L160.4 345.4L160.8 345.4L161.3 345.4L161.7 345.4L162.2 345.3L162.6 345.1L163.1 344.9L163.5 344.6L164.0 344.3L164.4 343.9L164.9 343.5L165.3 343.1L165.7 342.6L166.2 342.1L166.6 341.6L167.1 341.1L167.5 340.5L168.0 340.0L168.4 339.4L168.9 338.9L169.3 338.4L169.8 338.0L170.2 337.6L170.6 337.2L171.1 336.8L171.5 336.4L172.0 336.0L172.4 335.7L172.9 335.5L173.3 335.3L173.8 335.2L174.2 335.1L174.7 335.1L175.1 335.0L175.6 335.0L176.0 335.1L176.4 335.3L176.9 335.4L177.3 335.7L177.8 335.9L178.2 336.2L178.7 336.5L179.1 336.9L179.6 337.3L180.0 337.7L180.5 338.2L180.9 338.6L181.4 339.1L181.8 339.5L182.2 340.0L182.7 340.5L183.1 341.0L183.6 341.5L184.0 341.9L184.5 342.4L184.9 342.8L185.4 343.2L185.8 343.6L186.3 344.0L186.7 344.3L187.1 344.6L187.6 344.9L188.0 345.1L188.5 345.3L188.9 345.5L189.4 345.6L189.8 345.7L190.3 345.8L190.7 345.7L191.2 345.6L191.6 345.6L192.1 345.6L192.5 345.4L192.9 345.2L193.4 345.0L193.8 344.8L194.3 344.6L194.7 344.3L195.2 343.9L195.6 343.5L196.1 343.2L196.5 342.8L197.0 342.4L197.4 342.0L197.8 341.6L198.3 341.0L198.7 340.6L199.2 340.2L199.6 339.7L200.1 339.4L200.5 339.1L201.0 338.7L201.4 338.2L201.9 337.7L202.3 337.3L202.8 336.9L203.2 336.5L203.6 336.2L204.1 336.0L204.5 335.7L205.0 335.4L205.4 335.2L205.9 335.0L206.3 334.8L206.8 334.6L207.2 334.5L207.7 334.4L208.1 334.4L208.6 334.3L209.0 334.3L209.4 334.3L209.9 334.4L210.3 334.5L210.8 334.7L211.2 334.8L211.7 335.0L212.1 335.1L212.6 335.3L213.0 335.6L213.5 335.9L213.9 336.2L214.3 336.4L214.8 336.7L215.2 337.1L215.7 337.5L216.1 337.9L216.6 338.2L217.0 338.6L217.5 339.0L217.9 339.4L218.4 339.7L218.8 340.0L219.3 340.4L219.7 340.9L220.1 341.3L220.6 341.7L221.0 342.1L221.5 342.4L221.9 342.7L222.4 343.1L222.8 343.4L223.3 343.7L223.7 344.0L224.2 344.3L224.6 344.6L225.0 344.8L225.5 345.0L225.9 345.2L226.4 345.4L226.8 345.6L227.3 345.6L227.7 345.7L228.2 345.8L228.6 345.8L229.1 345.9L229.5 345.9L230.0 345.9L230.4 345.9L230.8 345.8L231.3 345.7L231.7 345.6L232.2 345.5L232.6 345.3L233.1 345.2L233.5 345.1L234.0 344.8L234.4 344.6L234.9 344.5L235.3 344.3L235.8 344.0L236.2 343.7L236.6 343.4L237.1 343.1L237.5 342.8L238.0 342.5L238.4 342.1L238.9 341.8L239.3 341.4L239.8 341.1L240.2 340.7L240.7 340.4L241.1 340.1L241.5 339.7L242.0 339.4L242.4 339.0L242.9 338.7L243.3 338.3L243.8 338.0L244.2 337.7L244.7 337.4L245.1 337.1L245.6 336.8L246.0 336.5L246.5 336.2L246.9 336.0L247.3 335.7L247.8 335.5L248.2 335.2L248.7 335.1L249.1 334.9L249.6 334.6L250.0 334.4L250.5 334.3L250.9 334.3L251.4 334.1L251.8 334.0L252.2 333.9L252.7 333.8L253.1 333.8L253.6 333.7L254.0 333.7L254.5 333.7L254.9 333.7L255.4 333.8L255.8 333.9L256.3 334.0L256.7 334.0L257.2 334.1L257.6 334.1L258.0 334.2L258.5 334.4L258.9 334.6L259.4 334.7L259.8 334.8L260.3 335.1L260.7 335.3L261.2 335.5L261.6 335.7L262.1 335.9L262.5 336.2L263.0 336.4L263.4 336.7L263.8 337.0L264.3 337.3L264.7 337.5L265.2 337.7L265.6 338.0L266.1 338.4L266.5 338.7L267.0 338.9L267.4 339.3L267.9 339.6L268.3 339.8L268.7 340.1L269.2 340.5L269.6 340.8L270.1 341.1L270.5 341.4L271.0 341.6L271.4 341.8L271.9 342.0L272.3 342.3L272.8 342.6L273.2 342.9L273.7 343.1L274.1 343.4L274.5 343.6L275.0 343.8L275.4 344.0L275.9 344.2L276.3 344.4L276.8 344.5L277.2 344.7L277.7 344.9L278.1 345.1L278.6 345.3L279.0 345.4L279.4 345.4L279.9 345.5L280.3 345.6L280.8 345.7L281.2 345.8L281.7 345.9L282.1 345.9L282.6 345.9L283.0 345.9L283.5 345.9L283.9 345.8L284.4 345.9L284.8 345.9L285.2 345.8L285.7 345.8L286.1 345.7L286.6 345.6L287.0 345.5L287.5 345.5L287.9 345.4L288.4 345.2L288.8 345.0L289.3 344.9L289.7 344.7L290.2 344.6L290.6 344.5L291.0 344.3L291.5 344.1L291.9 343.9L292.4 343.7L292.8 343.5L293.3 343.3L293.7 343.1L294.2 342.9L294.6 342.7L295.1 342.5L295.5 342.2L295.9 341.9L296.4 341.7L296.8 341.5L297.3 341.2L297.7 340.9L298.2 340.7L298.6 340.5L299.1 340.1L299.5 339.8L300.0 339.6L300.4 339.4L300.9 339.1L301.3 339.0L301.7 338.7L302.2 338.4L302.6 338.1L303.1 337.9L303.5 337.6L304.0 337.4L304.4 337.2L304.9 337.0L305.3 336.7L305.8 336.5L306.2 336.2L306.6 336.3L307.1 336.1L307.5 335.8L308.0 335.6L308.4 335.5L308.9 335.3L309.3 335.0L309.8 334.8L310.2 334.5L310.7 334.3L311.1 334.2L311.6 334.0L312.0 333.9L312.4 333.7L312.9 333.6L313.3 333.6L313.8 333.8L314.2 333.6L314.7 333.4L315.1 333.3L315.6 333.4L316.0 333.5L316.5 333.4L316.9 333.1L317.3 333.0L317.8 333.0L318.2 333.1L318.7 333.0L319.1 332.9L319.6 332.9L320.0 333.0L320.5 333.1L320.9 333.1L321.4 333.1L321.8 333.3L322.3 333.4L322.7 333.5L323.1 333.5L323.6 333.5L324.0 333.5L324.5 333.5L324.9 333.8L325.4 334.2L325.8 334.4L326.3 334.3L326.7 334.1L327.2 334.0L327.6 334.4L328.1 334.7L328.5 334.7L328.9 334.9L329.4 335.2L329.8 335.4L330.3 335.4L330.7 335.7L331.2 335.8L331.6 335.9L332.1 336.0L332.5 336.2L333.0 336.5L333.4 336.6L333.8 336.7L334.3 336.7L334.7 337.1L335.2 337.5L335.6 338.0L336.1 338.2L336.5 338.5L337.0 338.6L337.4 338.6L337.9 338.7L338.3 338.7L338.8 339.3L339.2 339.5L339.6 339.9L340.1 339.6L340.5 339.8L341.0 340.2L341.4 340.3L341.9 340.1L342.3 340.1L342.8 340.4L343.2 340.9L343.7 341.6L344.1 341.8L344.5 341.7L345.0 341.6L345.4 342.1L345.9 341.8L346.3 341.7L346.8 342.0L347.2 342.5L347.7 342.8L348.1 342.8L348.6 343.2L349.0 343.3L349.5 343.4L349.9 343.2L350.3 343.2L350.8 343.6L351.2 343.9L351.7 343.9L352.1 344.3L352.6 344.4L353.0 344.3L353.5 344.0L353.9 344.2L354.4 344.2L354.8 344.2L355.3 344.2L355.7 344.3L356.1 344.4L356.6 344.4L357.0 344.7L357.5 344.8L357.9 345.0L358.4 345.1L358.8 345.5L359.3 345.5L359.7 345.3L360.2 344.9L360.6 344.8L361.0 345.0L361.5 345.1L361.9 344.9L362.4 344.9L362.8 344.9L363.3 345.1L363.7 344.9L364.2 344.7L364.6 344.8L365.1 345.2L365.5 345.4L366.0 344.9L366.4 344.6L366.8 344.6L367.3 344.7L367.7 344.8L368.2 344.5L368.6 344.5L369.1 344.0L369.5 343.9L370.0 343.5L370.4 343.8L370.9 344.0L371.3 343.9L371.7 343.6L372.2 343.3L372.6 343.2L373.1 343.1L373.5 343.2L374.0 343.2L374.4 342.8L374.9 342.5L375.3 342.8L375.8 343.1L376.2 343.0L376.7 342.5L377.1 342.3L377.5 342.2L378.0 342.0L378.4 341.9L378.9 341.5L379.3 341.6" fill="none" stroke="#cc8888" stroke-width="1" stroke-linejoin="round"/>
<path d="M67.2 335.1L67.6 334.2L68.1 333.6L68.5 333.3L69.0 333.1L69.4 333.0L69.9 333.0L70.3 332.9L70.8 332.7L71.2 332.4L71.7 332.2L72.1 331.7L72.6 331.3L73.0 330.9L73.4 330.5L73.9 330.1L74.3 329.9L74.8 329.7L75.2 329.7L75.7 329.8L76.1 329.9L76.6 330.1L77.0 330.5L77.5 330.9L77.9 331.3L78.3 331.8L78.8 332.1L79.2 332.3L79.7 332.3L80.1 332.4L80.6 332.3L81.0 332.1L81.5 331.9L81.9 331.5L82.4 331.1L82.8 330.7L83.3 330.3L83.7 329.9L84.1 329.5L84.6 329.2L85.0 329.0L85.5 329.1L85.9 329.2L86.4 329.5L86.8 329.7L87.3 330.1L87.7 330.5L88.2 331.0L88.6 331.5L89.0 331.9L89.5 332.3L89.9 332.6L90.4 332.8L90.8 332.9L91.3 332.9L91.7 332.7L92.2 332.5L92.6 332.2L93.1 331.8L93.5 331.3L94.0 330.8L94.4 330.3L94.8 329.8L95.3 329.4L95.7 329.0L96.2 328.7L96.6 328.5L97.1 328.4L97.5 328.4L98.0 328.5L98.4 328.8L98.9 329.1L99.3 329.6L99.8 330.0L100.2 330.6L100.6 331.1L101.1 331.6L101.5 332.0L102.0 332.5L102.4 332.9L102.9 333.2L103.3 333.5L103.8 333.6L104.2 333.6L104.7 333.4L105.1 333.1L105.5 332.8L106.0 332.4L106.4 331.9L106.9 331.4L107.3 330.8L107.8 330.3L108.2 329.7L108.7 329.1L109.1 328.6L109.6 328.3L110.0 327.9L110.5 327.7L110.9 327.6L111.3 327.6L111.8 327.7L112.2 327.8L112.7 328.0L113.1 328.4L113.6 328.9L114.0 329.4L114.5 330.0L114.9 330.5L115.4 331.0L115.8 331.6L116.2 332.1L116.7 332.6L117.1 333.1L117.6 333.5L118.0 333.8L118.5 334.0L118.9 334.1L119.4 334.1L119.8 334.1L120.3 333.9L120.7 333.7L121.2 333.3L121.6 332.8L122.0 332.4L122.5 331.9L122.9 331.3L123.4 330.7L123.8 330.1L124.3 329.7L124.7 329.2L125.2 328.6L125.6 328.0L126.1 327.6L126.5 327.3L127.0 327.0L127.4 326.9L127.8 326.7L128.3 326.7L128.7 326.7L129.2 326.9L129.6 327.2L130.1 327.5L130.5 327.8L131.0 328.3L131.4 328.8L131.9 329.4L132.3 329.9L132.7 330.4L133.2 331.0L133.6 331.6L134.1 332.2L134.5 332.7L135.0 333.1L135.4 333.6L135.9 334.0L136.3 334.3L136.8 334.5L137.2 334.6L137.7 334.7L138.1 334.7L138.5 334.7L139.0 334.6L139.4 334.4L139.9 334.1L140.3 333.7L140.8 333.3L141.2 332.9L141.7 332.4L142.1 332.0L142.6 331.4L143.0 330.8L143.4 330.1L143.9 329.6L144.3 329.0L144.8 328.5L145.2 328.0L145.7 327.5L146.1 327.1L146.6 326.8L147.0 326.4L147.5 326.2L147.9 325.9L148.4 325.8L148.8 325.7L149.2 325.8L149.7 325.9L150.1 326.1L150.6 326.3L151.0 326.5L151.5 326.8L151.9 327.2L152.4 327.6L152.8 328.1L153.3 328.6L153.7 329.1L154.2 329.6L154.6 330.2L155.0 330.8L155.5 331.4L155.9 331.9L156.4 332.4L156.8 332.9L157.3 333.4L157.7 333.8L158.2 334.2L158.6 334.5L159.1 334.8L159.5 335.0L159.9 335.2L160.4 335.4L160.8 335.5L161.3 335.5L161.7 335.4L162.2 335.3L162.6 335.1L163.1 334.9L163.5 334.7L164.0 334.4L164.4 334.0L164.9 333.6L165.3 333.2L165.7 332.7L166.2 332.2L166.6 331.7L167.1 331.2L167.5 330.7L168.0 330.3L168.4 329.7L168.9 329.2L169.3 328.6L169.8 328.1L170.2 327.7L170.6 327.2L171.1 326.8L171.5 326.5L172.0 326.1L172.4 325.8L172.9 325.5L173.3 325.4L173.8 325.3L174.2 325.2L174.7 325.1L175.1 325.1L175.6 325.0L176.0 325.1L176.4 325.2L176.9 325.4L177.3 325.6L177.8 325.9L178.2 326.2L178.7 326.5L179.1 326.8L179.6 327.2L180.0 327.5L180.5 328.0L180.9 328.5L181.4 329.0L181.8 329.5L182.2 330.0L182.7 330.5L183.1 330.9L183.6 331.3L184.0 331.8L184.5 332.3L184.9 332.7L185.4 333.2L185.8 333.5L186.3 333.9L186.7 334.3L187.1 334.6L187.6 334.8L188.0 335.0L188.5 335.3L188.9 335.4L189.4 335.6L189.8 335.7L190.3 335.7L190.7 335.7L191.2 335.6L191.6 335.6L192.1 335.6L192.5 335.4L192.9 335.2L193.4 335.0L193.8 334.8L194.3 334.6L194.7 334.3L195.2 334.0L195.6 333.7L196.1 333.3L196.5 332.9L197.0 332.5L197.4 332.1L197.8 331.7L198.3 331.3L198.7 330.8L199.2 330.3L199.6 329.9L200.1 329.4L200.5 329.0L201.0 328.5L201.4 328.1L201.9 327.8L202.3 327.4L202.8 327.0L203.2 326.6L203.6 326.3L204.1 326.0L204.5 325.7L205.0 325.4L205.4 325.2L205.9 325.0L206.3 324.9L206.8 324.7L207.2 324.5L207.7 324.4L208.1 324.3L208.6 324.3L209.0 324.3L209.4 324.3L209.9 324.4L210.3 324.5L210.8 324.6L211.2 324.7L211.7 324.9L212.1 325.1L212.6 325.3L213.0 325.5L213.5 325.8L213.9 326.1L214.3 326.4L214.8 326.7L215.2 327.0L215.7 327.3L216.1 327.7L216.6 328.1L217.0 328.5L217.5 328.9L217.9 329.3L218.4 329.7L218.8 330.1L219.3 330.4L219.7 330.8L220.1 331.2L220.6 331.6L221.0 332.0L221.5 332.4L221.9 332.7L222.4 333.0L222.8 333.3L223.3 333.6L223.7 333.9L224.2 334.3L224.6 334.5L225.0 334.7L225.5 334.9L225.9 335.0L226.4 335.2L226.8 335.4L227.3 335.5L227.7 335.7L228.2 335.7L228.6 335.8L229.1 335.9L229.5 335.9L230.0 335.9L230.4 335.9L230.8 335.8L231.3 335.7L231.7 335.6L232.2 335.5L232.6 335.4L233.1 335.3L233.5 335.2L234.0 335.0L234.4 334.8L234.9 334.5L235.3 334.3L235.8 334.0L236.2 333.8L236.6 333.5L237.1 333.2L237.5 332.9L238.0 332.6L238.4 332.3L238.9 331.9L239.3 331.5L239.8 331.2L240.2 330.9L240.7 330.5L241.1 330.2L241.5 329.8L242.0 329.5L242.4 329.2L242.9 328.8L243.3 328.4L243.8 328.1L244.2 327.8L244.7 327.5L245.1 327.1L245.6 326.8L246.0 326.6L246.5 326.3L246.9 326.1L247.3 325.7L247.8 325.4L248.2 325.2L248.7 325.0L249.1 324.8L249.6 324.7L250.0 324.6L250.5 324.4L250.9 324.2L251.4 324.0L251.8 323.9L252.2 323.8L252.7 323.8L253.1 323.7L253.6 323.6L254.0 323.6L254.5 323.7L254.9 323.8L255.4 323.8L255.8 323.8L256.3 323.8L256.7 323.9L257.2 324.1L257.6 324.1L258.0 324.2L258.5 324.4L258.9 324.6L259.4 324.7L259.8 324.8L260.3 325.0L260.7 325.1L261.2 325.4L261.6 325.7L262.1 326.0L262.5 326.2L263.0 326.4L263.4 326.6L263.8 326.8L264.3 327.2L264.7 327.5L265.2 327.7L265.6 328.0L266.1 328.3L266.5 328.6L267.0 328.9L267.4 329.2L267.9 329.4L268.3 329.7L268.7 330.1L269.2 330.4L269.6 330.7L270.1 330.9L270.5 331.2L271.0 331.5L271.4 331.8L271.9 332.1L272.3 332.4L272.8 332.6L273.2 332.9L273.7 333.1L274.1 333.4L274.5 333.6L275.0 333.8L275.4 333.9L275.9 334.1L276.3 334.3L276.8 334.5L277.2 334.7L277.7 334.9L278.1 335.0L278.6 335.2L279.0 335.3L279.4 335.5L279.9 335.6L280.3 335.6L280.8 335.6L281.2 335.7L281.7 335.7L282.1 335.9L282.6 335.9L283.0 335.9L283.5 335.9L283.9 335.9L284.4 335.8L284.8 335.9L285.2 335.8L285.7 335.7L286.1 335.6L286.6 335.6L287.0 335.5L287.5 335.4L287.9 335.3L288.4 335.2L288.8 335.1L289.3 335.0L289.7 334.8L290.2 334.7L290.6 334.4L291.0 334.3L291.5 334.1L291.9 333.9L292.4 333.7L292.8 333.6L293.3 333.3L293.7 333.0L294.2 332.9L294.6 332.7L295.1 332.5L295.5 332.2L295.9 332.0L296.4 331.8L296.8 331.5L297.3 331.3L297.7 331.1L298.2 330.8L298.6 330.5L299.1 330.2L299.5 330.1L300.0 329.8L300.4 329.5L300.9 329.2L301.3 328.9L301.7 328.6L302.2 328.4L302.6 328.1L303.1 327.9L303.5 327.8L304.0 327.8L304.4 327.4L304.9 327.0L305.3 326.8L305.8 326.7L306.2 326.4L306.6 326.2L307.1 326.1L307.5 325.9L308.0 325.6L308.4 325.4L308.9 325.1L309.3 324.9L309.8 324.7L310.2 324.7L310.7 324.6L311.1 324.5L311.6 324.3L312.0 324.1L312.4 323.9L312.9 323.8L313.3 323.7L313.8 323.7L314.2 323.4L314.7 323.2L315.1 323.2L315.6 323.2L316.0 323.1L316.5 323.1L316.9 323.1L317.3 323.1L317.8 323.2L318.2 323.3L318.7 323.3L319.1 323.1L319.6 323.1L320.0 323.2L320.5 323.3L320.9 323.4L321.4 323.2L321.8 323.2L322.3 323.1L322.7 323.2L323.1 323.2L323.6 323.5L324.0 323.5L324.5 323.5L324.9 323.5L325.4 323.6L325.8 323.9L326.3 324.1L326.7 324.2L327.2 324.4L327.6 324.6L328.1 324.5L328.5 324.3L328.9 324.6L329.4 325.1L329.8 325.4L330.3 325.5L330.7 325.5L331.2 325.6L331.6 325.6L332.1 325.8L332.5 325.8L333.0 326.1L333.4 326.3L333.8 326.6L334.3 326.8L334.7 327.1L335.2 327.4L335.6 327.8L336.1 328.1L336.5 328.2L337.0 328.2L337.4 328.1L337.9 328.6L338.3 328.8L338.8 329.0L339.2 328.7L339.6 328.7L340.1 328.9L340.5 329.5L341.0 329.7L341.4 329.9L341.9 330.1L342.3 330.5L342.8 330.7L343.2 330.8L343.7 331.1L344.1 331.1L344.5 331.3L345.0 331.3L345.4 331.6L345.9 331.5L346.3 331.8L346.8 332.0L347.2 332.6L347.7 332.6L348.1 332.3L348.6 332.2L349.0 332.8L349.5 333.0L349.9 333.3L350.3 333.3L350.8 333.2L351.2 333.2L351.7 333.3L352.1 333.7L352.6 334.0L353.0 334.5L353.5 334.4L353.9 334.5L354.4 334.6L354.8 334.6L355.3 334.6L355.7 335.0L356.1 335.2L356.6 334.8L357.0 334.4L357.5 334.5L357.9 334.6L358.4 335.0L358.8 335.0L359.3 334.9L359.7 334.7L360.2 334.9L360.6 335.1L361.0 335.3L361.5 335.4L361.9 335.4L362.4 335.5L362.8 335.4L363.3 335.1L363.7 334.9L364.2 334.5L364.6 334.6L365.1 334.6L365.5 334.9L366.0 334.9L366.4 334.8L366.8 334.6L367.3 334.6L367.7 334.7L368.2 334.6L368.6 334.2L369.1 333.7L369.5 334.0L370.0 334.1L370.4 334.1L370.9 333.7L371.3 333.9L371.7 333.9L372.2 334.1L372.6 333.8L373.1 333.8L373.5 333.7L374.0 333.8L374.4 333.5L374.9 333.1L375.3 332.8L375.8 332.6L376.2 332.6L376.7 332.7L377.1 332.9L377.5 332.5L378.0 332.2L378.4 332.1L378.9 332.4L379.3 332.3" fill="none" stroke="#70b890" stroke-width="1" stroke-linejoin="round"/>
<line x1="61.90" y1="518.90" x2="67.10" y2="518.90" stroke="#7a7a7a" stroke-width="1.60"/>
<line x1="61.90" y1="468.80" x2="67.10" y2="468.80" stroke="#7a7a7a" stroke-width="1.60"/>
<line x1="61.90" y1="418.70" x2="67.10" y2="418.70" stroke="#7a7a7a" stroke-width="1.60"/>
<line x1="61.90" y1="368.60" x2="67.10" y2="368.60" stroke="#7a7a7a" stroke-width="1.60"/>
<line x1="61.90" y1="318.50" x2="67.10" y2="318.50" stroke="#7a7a7a" stroke-width="1.60"/>
<line x1="64.10" y1="543.95" x2="67.10" y2="543.95" stroke="#7a7a7a" stroke-width="1.60"/>
<line x1="64.10" y1="493.85" x2="67.10" y2="493.85" stroke="#7a7a7a" stroke-width="1.60"/>
<line x1="64.10" y1="443.75" x2="67.10" y2="443.75" stroke="#7a7a7a" stroke-width="1.60"/>
<line x1="64.10" y1="393.65" x2="67.10" y2="393.65" stroke="#7a7a7a" stroke-width="1.60"/>
<line x1="64.10" y1="343.55" x2="67.10" y2="343.55" stroke="#7a7a7a" stroke-width="1.60"/>
<line x1="111.79" y1="549.00" x2="111.79" y2="553.80" stroke="#6a6a6a" stroke-width="1.30"/>
<line x1="200.97" y1="549.00" x2="200.97" y2="553.80" stroke="#6a6a6a" stroke-width="1.30"/>
<line x1="290.15" y1="549.00" x2="290.15" y2="553.80" stroke="#6a6a6a" stroke-width="1.30"/>
<line x1="379.33" y1="549.00" x2="379.33" y2="553.80" stroke="#6a6a6a" stroke-width="1.30"/>
<line x1="67.20" y1="549.00" x2="67.20" y2="551.60" stroke="#6a6a6a" stroke-width="1.30"/>
<line x1="156.38" y1="549.00" x2="156.38" y2="551.60" stroke="#6a6a6a" stroke-width="1.30"/>
<line x1="245.56" y1="549.00" x2="245.56" y2="551.60" stroke="#6a6a6a" stroke-width="1.30"/>
<line x1="334.74" y1="549.00" x2="334.74" y2="551.60" stroke="#6a6a6a" stroke-width="1.30"/>
<line x1="354.30" y1="533.80" x2="354.30" y2="334.00" stroke="#3a3a3a" stroke-width="1.10"/>
<path d="M352.5 335.0 L354.3 328.9 L356.1 335.0 Z" fill="#111"/>
<path d="M455.6 303.6 V551.5 H764.4 V303.6 Z" fill="none" stroke="#454545" stroke-width="1.1"/>
<line x1="450.60" y1="551.50" x2="455.60" y2="551.50" stroke="#454545" stroke-width="1.10"/>
<line x1="450.60" y1="475.10" x2="455.60" y2="475.10" stroke="#454545" stroke-width="1.10"/>
<line x1="450.60" y1="398.70" x2="455.60" y2="398.70" stroke="#454545" stroke-width="1.10"/>
<line x1="450.60" y1="322.30" x2="455.60" y2="322.30" stroke="#454545" stroke-width="1.10"/>
<line x1="453.10" y1="513.30" x2="455.60" y2="513.30" stroke="#454545" stroke-width="1.10"/>
<line x1="453.10" y1="436.90" x2="455.60" y2="436.90" stroke="#454545" stroke-width="1.10"/>
<line x1="453.10" y1="360.50" x2="455.60" y2="360.50" stroke="#454545" stroke-width="1.10"/>
<line x1="455.60" y1="551.50" x2="455.60" y2="556.40" stroke="#454545" stroke-width="1.10"/>
<line x1="550.35" y1="551.50" x2="550.35" y2="556.40" stroke="#454545" stroke-width="1.10"/>
<line x1="645.10" y1="551.50" x2="645.10" y2="556.40" stroke="#454545" stroke-width="1.10"/>
<line x1="739.85" y1="551.50" x2="739.85" y2="556.40" stroke="#454545" stroke-width="1.10"/>
<line x1="502.98" y1="551.50" x2="502.98" y2="554.00" stroke="#454545" stroke-width="1.10"/>
<line x1="597.73" y1="551.50" x2="597.73" y2="554.00" stroke="#454545" stroke-width="1.10"/>
<line x1="692.48" y1="551.50" x2="692.48" y2="554.00" stroke="#454545" stroke-width="1.10"/>
<line x1="460.34" y1="513.30" x2="460.34" y2="537.75" stroke="#444" stroke-width="1.00"/>
<line x1="457.54" y1="513.30" x2="463.14" y2="513.30" stroke="#444" stroke-width="1.00"/>
<line x1="457.54" y1="537.75" x2="463.14" y2="537.75" stroke="#444" stroke-width="1.00"/>
<line x1="469.81" y1="441.10" x2="469.81" y2="450.27" stroke="#444" stroke-width="1.00"/>
<line x1="467.01" y1="441.10" x2="472.61" y2="441.10" stroke="#444" stroke-width="1.00"/>
<line x1="467.01" y1="450.27" x2="472.61" y2="450.27" stroke="#444" stroke-width="1.00"/>
<line x1="474.55" y1="422.15" x2="474.55" y2="449.66" stroke="#444" stroke-width="1.00"/>
<line x1="471.75" y1="422.15" x2="477.35" y2="422.15" stroke="#444" stroke-width="1.00"/>
<line x1="471.75" y1="449.66" x2="477.35" y2="449.66" stroke="#444" stroke-width="1.00"/>
<line x1="479.29" y1="410.16" x2="479.29" y2="433.08" stroke="#444" stroke-width="1.00"/>
<line x1="476.49" y1="410.16" x2="482.09" y2="410.16" stroke="#444" stroke-width="1.00"/>
<line x1="476.49" y1="433.08" x2="482.09" y2="433.08" stroke="#444" stroke-width="1.00"/>
<line x1="484.03" y1="404.43" x2="484.03" y2="420.47" stroke="#444" stroke-width="1.00"/>
<line x1="481.23" y1="404.43" x2="486.83" y2="404.43" stroke="#444" stroke-width="1.00"/>
<line x1="481.23" y1="420.47" x2="486.83" y2="420.47" stroke="#444" stroke-width="1.00"/>
<line x1="488.76" y1="401.37" x2="488.76" y2="417.42" stroke="#444" stroke-width="1.00"/>
<line x1="485.96" y1="401.37" x2="491.56" y2="401.37" stroke="#444" stroke-width="1.00"/>
<line x1="485.96" y1="417.42" x2="491.56" y2="417.42" stroke="#444" stroke-width="1.00"/>
<line x1="493.50" y1="381.89" x2="493.50" y2="407.87" stroke="#444" stroke-width="1.00"/>
<line x1="490.70" y1="381.89" x2="496.30" y2="381.89" stroke="#444" stroke-width="1.00"/>
<line x1="490.70" y1="407.87" x2="496.30" y2="407.87" stroke="#444" stroke-width="1.00"/>
<line x1="498.24" y1="392.59" x2="498.24" y2="406.34" stroke="#444" stroke-width="1.00"/>
<line x1="495.44" y1="392.59" x2="501.04" y2="392.59" stroke="#444" stroke-width="1.00"/>
<line x1="495.44" y1="406.34" x2="501.04" y2="406.34" stroke="#444" stroke-width="1.00"/>
<line x1="502.98" y1="375.40" x2="502.98" y2="405.19" stroke="#444" stroke-width="1.00"/>
<line x1="500.18" y1="375.40" x2="505.78" y2="375.40" stroke="#444" stroke-width="1.00"/>
<line x1="500.18" y1="405.19" x2="505.78" y2="405.19" stroke="#444" stroke-width="1.00"/>
<line x1="526.66" y1="369.67" x2="526.66" y2="392.59" stroke="#444" stroke-width="1.00"/>
<line x1="523.86" y1="369.67" x2="529.46" y2="369.67" stroke="#444" stroke-width="1.00"/>
<line x1="523.86" y1="392.59" x2="529.46" y2="392.59" stroke="#444" stroke-width="1.00"/>
<line x1="550.35" y1="349.65" x2="550.35" y2="376.39" stroke="#444" stroke-width="1.00"/>
<line x1="547.55" y1="349.65" x2="553.15" y2="349.65" stroke="#444" stroke-width="1.00"/>
<line x1="547.55" y1="376.39" x2="553.15" y2="376.39" stroke="#444" stroke-width="1.00"/>
<line x1="574.04" y1="331.47" x2="574.04" y2="384.95" stroke="#444" stroke-width="1.00"/>
<line x1="571.24" y1="331.47" x2="576.84" y2="331.47" stroke="#444" stroke-width="1.00"/>
<line x1="571.24" y1="384.95" x2="576.84" y2="384.95" stroke="#444" stroke-width="1.00"/>
<line x1="597.73" y1="341.78" x2="597.73" y2="379.22" stroke="#444" stroke-width="1.00"/>
<line x1="594.93" y1="341.78" x2="600.52" y2="341.78" stroke="#444" stroke-width="1.00"/>
<line x1="594.93" y1="379.22" x2="600.52" y2="379.22" stroke="#444" stroke-width="1.00"/>
<line x1="621.41" y1="366.23" x2="621.41" y2="377.69" stroke="#444" stroke-width="1.00"/>
<line x1="618.61" y1="366.23" x2="624.21" y2="366.23" stroke="#444" stroke-width="1.00"/>
<line x1="618.61" y1="377.69" x2="624.21" y2="377.69" stroke="#444" stroke-width="1.00"/>
<line x1="645.10" y1="366.61" x2="645.10" y2="381.89" stroke="#444" stroke-width="1.00"/>
<line x1="642.30" y1="366.61" x2="647.90" y2="366.61" stroke="#444" stroke-width="1.00"/>
<line x1="642.30" y1="381.89" x2="647.90" y2="381.89" stroke="#444" stroke-width="1.00"/>
<line x1="668.79" y1="342.93" x2="668.79" y2="379.60" stroke="#444" stroke-width="1.00"/>
<line x1="665.99" y1="342.93" x2="671.59" y2="342.93" stroke="#444" stroke-width="1.00"/>
<line x1="665.99" y1="379.60" x2="671.59" y2="379.60" stroke="#444" stroke-width="1.00"/>
<line x1="692.48" y1="356.30" x2="692.48" y2="378.45" stroke="#444" stroke-width="1.00"/>
<line x1="689.68" y1="356.30" x2="695.27" y2="356.30" stroke="#444" stroke-width="1.00"/>
<line x1="689.68" y1="378.45" x2="695.27" y2="378.45" stroke="#444" stroke-width="1.00"/>
<line x1="716.16" y1="345.22" x2="716.16" y2="383.42" stroke="#444" stroke-width="1.00"/>
<line x1="713.36" y1="345.22" x2="718.96" y2="345.22" stroke="#444" stroke-width="1.00"/>
<line x1="713.36" y1="383.42" x2="718.96" y2="383.42" stroke="#444" stroke-width="1.00"/>
<line x1="739.85" y1="349.04" x2="739.85" y2="371.96" stroke="#444" stroke-width="1.00"/>
<line x1="737.05" y1="349.04" x2="742.65" y2="349.04" stroke="#444" stroke-width="1.00"/>
<line x1="737.05" y1="371.96" x2="742.65" y2="371.96" stroke="#444" stroke-width="1.00"/>
<rect x="455.6" y="547.9" width="3.4" height="3.6" fill="#000"/>
<rect x="456.94" y="522.12" width="6.80" height="6.80" fill="#000"/>
<rect x="461.68" y="455.66" width="6.80" height="6.80" fill="#000"/>
<rect x="466.41" y="442.29" width="6.80" height="6.80" fill="#000"/>
<rect x="471.15" y="432.51" width="6.80" height="6.80" fill="#000"/>
<rect x="475.89" y="418.22" width="6.80" height="6.80" fill="#000"/>
<rect x="480.63" y="409.05" width="6.80" height="6.80" fill="#000"/>
<rect x="485.36" y="406.00" width="6.80" height="6.80" fill="#000"/>
<rect x="490.10" y="391.48" width="6.80" height="6.80" fill="#000"/>
<rect x="494.84" y="396.06" width="6.80" height="6.80" fill="#000"/>
<rect x="499.58" y="386.90" width="6.80" height="6.80" fill="#000"/>
<rect x="523.26" y="377.73" width="6.80" height="6.80" fill="#000"/>
<rect x="546.95" y="359.62" width="6.80" height="6.80" fill="#000"/>
<rect x="570.64" y="354.81" width="6.80" height="6.80" fill="#000"/>
<rect x="594.33" y="357.10" width="6.80" height="6.80" fill="#000"/>
<rect x="618.01" y="368.56" width="6.80" height="6.80" fill="#000"/>
<rect x="641.70" y="370.85" width="6.80" height="6.80" fill="#000"/>
<rect x="665.39" y="357.86" width="6.80" height="6.80" fill="#000"/>
<rect x="689.08" y="363.98" width="6.80" height="6.80" fill="#000"/>
<rect x="712.76" y="360.92" width="6.80" height="6.80" fill="#000"/>
<rect x="736.45" y="357.10" width="6.80" height="6.80" fill="#000"/>
<path d="M455.6 551.5L455.8 549.2L456.1 546.8L456.3 544.5L456.5 542.1L456.8 539.7L457.0 537.3L457.3 534.9L457.5 532.4L457.7 530.0L458.0 527.5L458.2 525.0L458.4 522.5L458.7 519.8L458.9 517.1L459.2 514.5L459.4 511.8L459.6 509.2L459.9 506.8L460.1 504.4L460.3 502.2L460.6 499.9L460.8 497.6L461.0 495.4L461.3 493.2L461.5 491.0L461.8 488.8L462.0 486.7L462.2 484.7L462.5 482.7L462.7 480.7L462.9 478.9L463.2 477.1L463.4 475.3L463.7 473.7L463.9 472.2L464.1 470.7L464.4 469.3L464.6 467.9L464.8 466.6L465.1 465.2L465.3 463.9L465.5 462.7L465.8 461.4L466.0 460.2L466.3 459.0L466.5 457.9L466.7 456.8L467.0 455.7L467.2 454.6L467.4 453.5L467.7 452.5L467.9 451.5L468.2 450.5L468.4 449.6L468.6 448.7L468.9 447.8L469.1 446.9L469.3 446.0L469.6 445.2L469.8 444.4L470.0 443.6L470.3 442.9L470.5 442.1L470.8 441.4L471.0 440.7L471.2 440.1L471.5 439.4L471.7 438.8L471.9 438.1L472.2 437.5L472.4 436.9L472.7 436.4L472.9 435.8L473.1 435.2L473.4 434.7L473.6 434.1L473.8 433.6L474.1 433.0L474.3 432.5L474.6 431.9L474.8 431.3L475.0 430.8L475.3 430.2L475.5 429.7L475.7 429.1L476.0 428.6L476.2 428.0L476.4 427.5L476.7 427.0L476.9 426.4L477.2 425.9L477.4 425.4L477.6 424.9L477.9 424.3L478.1 423.8L478.3 423.3L478.6 422.8L478.8 422.3L479.1 421.8L479.3 421.3L479.5 420.8L479.8 420.3L480.0 419.8L480.2 419.3L480.5 418.8L480.7 418.3L480.9 417.8L481.2 417.3L481.4 416.8L481.7 416.2L481.9 415.7L482.1 415.3L482.4 414.8L482.6 414.3L482.8 413.8L483.1 413.3L483.3 412.9L483.6 412.4L483.8 412.0L484.0 411.6L485.0 410.0L485.9 408.5L486.9 407.1L487.8 405.7L488.8 404.4L489.7 403.1L490.7 401.9L491.6 400.8L492.6 399.8L493.5 398.8L494.4 397.8L495.4 396.9L496.3 396.1L497.3 395.3L498.2 394.5L499.2 393.8L500.1 393.2L501.1 392.7L502.0 392.1L503.0 391.6L503.9 391.0L504.9 390.5L505.8 390.0L506.8 389.5L507.7 389.0L508.7 388.5L509.6 388.0L510.6 387.6L511.5 387.2L512.5 386.7L513.4 386.3L514.3 385.9L515.3 385.5L516.2 385.1L517.2 384.8L518.1 384.4L519.1 384.1L520.0 383.8L521.0 383.5L521.9 383.2L522.9 382.9L523.8 382.6L524.8 382.4L525.7 382.1L526.7 381.9L527.6 381.7L528.6 381.5L529.5 381.2L530.5 381.0L531.4 380.8L532.3 380.6L533.3 380.4L534.2 380.2L535.2 380.0L536.1 379.8L537.1 379.6L538.0 379.4L539.0 379.3L539.9 379.1L540.9 378.9L541.8 378.7L542.8 378.5L543.7 378.4L544.7 378.2L545.6 378.0L546.6 377.8L547.5 377.7L548.5 377.5L549.4 377.4L550.4 377.2L551.3 377.0L552.2 376.9L553.2 376.7L554.1 376.6L555.1 376.4L556.0 376.3L557.0 376.1L557.9 376.0L558.9 375.9L559.8 375.7L560.8 375.6L561.7 375.5L562.7 375.3L563.6 375.2L564.6 375.1L565.5 374.9L566.5 374.8L567.4 374.7L568.4 374.6L569.3 374.5L570.2 374.3L571.2 374.2L572.1 374.1L573.1 374.0L574.0 373.9L575.0 373.8L575.9 373.7L576.9 373.6L577.8 373.5L578.8 373.4L579.7 373.3L580.7 373.2L581.6 373.1L582.6 373.0L583.5 372.9L584.5 372.8L585.4 372.7L586.4 372.6L587.3 372.6L588.2 372.5L589.2 372.4L590.1 372.3L591.1 372.2L592.0 372.2L593.0 372.1L593.9 372.0L594.9 371.9L595.8 371.9L596.8 371.8L597.7 371.7L598.7 371.7L599.6 371.6L600.6 371.5L601.5 371.5L602.5 371.4L603.4 371.3L604.4 371.3L605.3 371.2L606.3 371.2L607.2 371.1L608.1 371.1L609.1 371.0L610.0 370.9L611.0 370.9L611.9 370.8L612.9 370.8L613.8 370.7L614.8 370.7L615.7 370.7L616.7 370.6L617.6 370.6L618.6 370.5L619.5 370.5L620.5 370.4L621.4 370.4L622.4 370.3L623.3 370.3L624.3 370.3L625.2 370.2L626.2 370.2L627.1 370.1L628.0 370.1L629.0 370.1L629.9 370.0L630.9 370.0L631.8 369.9L632.8 369.9L633.7 369.9L634.7 369.8L635.6 369.8L636.6 369.8L637.5 369.7L638.5 369.7L639.4 369.6L640.4 369.6L641.3 369.6L642.3 369.5L643.2 369.5L644.2 369.5L645.1 369.4L646.0 369.4L647.0 369.4L647.9 369.3L648.9 369.3L649.8 369.2L650.8 369.2L651.7 369.2L652.7 369.1L653.6 369.1L654.6 369.1L655.5 369.0L656.5 369.0L657.4 369.0L658.4 368.9L659.3 368.9L660.3 368.9L661.2 368.8L662.2 368.8L663.1 368.8L664.0 368.7L665.0 368.7L665.9 368.7L666.9 368.6L667.8 368.6L668.8 368.6L669.7 368.5L670.7 368.5L671.6 368.5L672.6 368.4L673.5 368.4L674.5 368.4L675.4 368.3L676.4 368.3L677.3 368.3L678.3 368.2L679.2 368.2L680.2 368.2L681.1 368.1L682.1 368.1L683.0 368.1L683.9 368.0L684.9 368.0L685.8 368.0L686.8 367.9L687.7 367.9L688.7 367.9L689.6 367.9L690.6 367.8L691.5 367.8L692.5 367.8L693.4 367.7L694.4 367.7L695.3 367.7L696.3 367.6L697.2 367.6L698.2 367.6L699.1 367.6L700.1 367.5L701.0 367.5L702.0 367.5L702.9 367.5L703.8 367.4L704.8 367.4L705.7 367.4L706.7 367.4L707.6 367.3L708.6 367.3L709.5 367.3L710.5 367.2L711.4 367.2L712.4 367.2L713.3 367.2L714.3 367.2L715.2 367.1L716.2 367.1L717.1 367.1L718.1 367.1L719.0 367.0L720.0 367.0L720.9 367.0L721.8 367.0L722.8 366.9L723.7 366.9L724.7 366.9L725.6 366.9L726.6 366.9L727.5 366.8L728.5 366.8L729.4 366.8L730.4 366.8L731.3 366.8L732.3 366.7L733.2 366.7L734.2 366.7L735.1 366.7L736.1 366.7L737.0 366.7L738.0 366.6L738.9 366.6L739.9 366.6" fill="none" stroke="#ff3030" stroke-width="1" />
<text transform="translate(155.01 297.71) scale(1.0243 1)" font-family='"Liberation Sans", sans-serif' font-size="18.51" fill="#1a1a1a" stroke="#1a1a1a" stroke-width="0.15">Wavelength (nm)</text>
<text transform="translate(26.34 166.80) rotate(-90) scale(1.0125 1)" font-family='"Liberation Sans", sans-serif' font-size="18.40" fill="#1a1a1a" stroke="#1a1a1a" stroke-width="0.15">intensity</text>
<text transform="translate(14.30 38.60) scale(0.9493 1)" font-family='"Liberation Sans", sans-serif' font-size="25.22" fill="#1a1a1a" stroke="#1a1a1a" stroke-width="0.15">A</text>
<text transform="translate(73.37 40.84) scale(0.9849 1)" font-family='"Liberation Sans", sans-serif' font-size="15.63" fill="#1a1a1a" stroke="#1a1a1a" stroke-width="0.15">10 mM</text>
<text transform="translate(75.39 74.45) scale(1.0216 1)" font-family='"Liberation Sans", sans-serif' font-size="14.93" fill="#1a1a1a" stroke="#1a1a1a" stroke-width="0.15">8 mM</text>
<text transform="translate(75.23 107.45) scale(1.0456 1)" font-family='"Liberation Sans", sans-serif' font-size="14.65" fill="#1a1a1a" stroke="#1a1a1a" stroke-width="0.15">6 mM</text>
<text transform="translate(75.70 136.90) scale(1.0180 1)" font-family='"Liberation Sans", sans-serif' font-size="14.86" fill="#1a1a1a" stroke="#1a1a1a" stroke-width="0.15">4 mM</text>
<text transform="translate(75.02 165.80) scale(1.0508 1)" font-family='"Liberation Sans", sans-serif' font-size="14.86" fill="#1a1a1a" stroke="#1a1a1a" stroke-width="0.15">2 mM</text>
<text transform="translate(75.18 197.85) scale(1.0413 1)" font-family='"Liberation Sans", sans-serif' font-size="14.93" fill="#1a1a1a" stroke="#1a1a1a" stroke-width="0.15">0 mM</text>
<text transform="translate(542.75 285.25) scale(1.0948 1)" font-family='"Liberation Serif", serif' font-size="16.89" fill="#1a1a1a" stroke="#1a1a1a" stroke-width="0.3">Frucose (<tspan letter-spacing="0.06em">m</tspan>M/L)</text>
<text transform="translate(411.64 171.43) rotate(-90) scale(1.0433 1)" font-family='"Liberation Serif", serif' font-size="17.44" fill="#1a1a1a" stroke="#1a1a1a" stroke-width="0.3">&#916;OPL(nm)</text>
<text transform="translate(396.95 29.50) scale(1.0118 1)" font-family='"Liberation Sans", sans-serif' font-size="25.36" fill="#1a1a1a" stroke="#1a1a1a" stroke-width="0.15">B</text>
<text transform="translate(155.01 594.01) scale(1.0590 1)" font-family='"Liberation Sans", sans-serif' font-size="17.55" fill="#1a1a1a" stroke="#1a1a1a" stroke-width="0.15">Wavelength(nm)</text>
<text transform="translate(24.50 454.10) rotate(-90) scale(1.0289 1)" font-family='"Liberation Sans", sans-serif' font-size="18.09" fill="#1a1a1a" stroke="#1a1a1a" stroke-width="0.15">intensity</text>
<text transform="translate(10.80 328.86) scale(0.9952 1)" font-family='"Liberation Sans", sans-serif' font-size="24.08" fill="#1a1a1a" stroke="#1a1a1a" stroke-width="0.15">C</text>
<text transform="translate(601.19 589.61) scale(1.0358 1)" font-family='"Liberation Serif", serif' font-size="20.44" fill="#1a1a1a" stroke="#1a1a1a" stroke-width="0.3">t (s)</text>
<text transform="translate(409.87 492.66) rotate(-90) scale(0.9984 1)" font-family='"Liberation Serif", serif' font-size="21.56" fill="#1a1a1a" stroke="#1a1a1a" stroke-width="0.3">&#916; OPL (nm)</text>
<text transform="translate(520.64 432.79) scale(1.0894 1)" font-family='"Liberation Serif", serif' font-size="21.06" fill="#1a1a1a" stroke="#1a1a1a" stroke-width="0.3">&#964;=7s</text>
<text transform="translate(392.34 320.30) scale(0.9814 1)" font-family='"Liberation Sans", sans-serif' font-size="28.84" fill="#1a1a1a" stroke="#1a1a1a" stroke-width="0.15">D</text>
<text transform="translate(43.87 202.65) scale(0.9778 1)" font-family='"Liberation Sans", sans-serif' font-size="14.65" fill="#1a1a1a" stroke="#1a1a1a" stroke-width="0.15">80</text>
<text transform="translate(35.85 131.10) scale(0.9778 1)" font-family='"Liberation Sans", sans-serif' font-size="14.65" fill="#1a1a1a" stroke="#1a1a1a" stroke-width="0.15">100</text>
<text transform="translate(35.85 59.55) scale(0.9778 1)" font-family='"Liberation Sans", sans-serif' font-size="14.65" fill="#1a1a1a" stroke="#1a1a1a" stroke-width="0.15">120</text>
<text transform="translate(101.43 270.86) scale(1.0086 1)" font-family='"Liberation Sans", sans-serif' font-size="14.23" fill="#1a1a1a" stroke="#1a1a1a" stroke-width="0.15">400</text>
<text transform="translate(191.36 270.86) scale(1.0086 1)" font-family='"Liberation Sans", sans-serif' font-size="14.23" fill="#1a1a1a" stroke="#1a1a1a" stroke-width="0.15">600</text>
<text transform="translate(281.57 270.86) scale(1.0086 1)" font-family='"Liberation Sans", sans-serif' font-size="14.23" fill="#1a1a1a" stroke="#1a1a1a" stroke-width="0.15">800</text>
<text transform="translate(367.48 270.86) scale(1.0086 1)" font-family='"Liberation Sans", sans-serif' font-size="14.23" fill="#1a1a1a" stroke="#1a1a1a" stroke-width="0.15">1000</text>
<text transform="translate(440.24 241.71) scale(0.9899 1)" font-family='"Liberation Serif", serif' font-size="14.41" fill="#1a1a1a" stroke="#1a1a1a" stroke-width="0.3">0</text>
<text transform="translate(425.97 197.39) scale(0.9899 1)" font-family='"Liberation Serif", serif' font-size="14.41" fill="#1a1a1a" stroke="#1a1a1a" stroke-width="0.3">300</text>
<text transform="translate(425.97 153.07) scale(0.9899 1)" font-family='"Liberation Serif", serif' font-size="14.41" fill="#1a1a1a" stroke="#1a1a1a" stroke-width="0.3">600</text>
<text transform="translate(425.97 108.75) scale(0.9899 1)" font-family='"Liberation Serif", serif' font-size="14.41" fill="#1a1a1a" stroke="#1a1a1a" stroke-width="0.3">900</text>
<text transform="translate(418.84 64.44) scale(0.9899 1)" font-family='"Liberation Serif", serif' font-size="14.41" fill="#1a1a1a" stroke="#1a1a1a" stroke-width="0.3">1200</text>
<text transform="translate(418.84 20.12) scale(0.9899 1)" font-family='"Liberation Serif", serif' font-size="14.41" fill="#1a1a1a" stroke="#1a1a1a" stroke-width="0.3">1500</text>
<text transform="translate(477.98 263.62) scale(1.0259 1)" font-family='"Liberation Serif", serif' font-size="14.12" fill="#1a1a1a" stroke="#1a1a1a" stroke-width="0.3">0</text>
<text transform="translate(529.87 263.76) scale(1.0259 1)" font-family='"Liberation Serif", serif' font-size="14.12" fill="#1a1a1a" stroke="#1a1a1a" stroke-width="0.3">2</text>
<text transform="translate(581.62 263.76) scale(1.0259 1)" font-family='"Liberation Serif", serif' font-size="14.12" fill="#1a1a1a" stroke="#1a1a1a" stroke-width="0.3">4</text>
<text transform="translate(633.37 263.62) scale(1.0259 1)" font-family='"Liberation Serif", serif' font-size="14.12" fill="#1a1a1a" stroke="#1a1a1a" stroke-width="0.3">6</text>
<text transform="translate(685.26 263.62) scale(1.0259 1)" font-family='"Liberation Serif", serif' font-size="14.12" fill="#1a1a1a" stroke="#1a1a1a" stroke-width="0.3">8</text>
<text transform="translate(733.10 263.62) scale(1.0259 1)" font-family='"Liberation Serif", serif' font-size="14.12" fill="#1a1a1a" stroke="#1a1a1a" stroke-width="0.3">10</text>
<text transform="translate(34.53 522.36) scale(1.0036 1)" font-family='"Liberation Sans", sans-serif' font-size="14.23" fill="#1a1a1a" stroke="#1a1a1a" stroke-width="0.15">100</text>
<text transform="translate(34.53 472.26) scale(1.0036 1)" font-family='"Liberation Sans", sans-serif' font-size="14.23" fill="#1a1a1a" stroke="#1a1a1a" stroke-width="0.15">150</text>
<text transform="translate(34.53 422.16) scale(1.0036 1)" font-family='"Liberation Sans", sans-serif' font-size="14.23" fill="#1a1a1a" stroke="#1a1a1a" stroke-width="0.15">200</text>
<text transform="translate(34.53 372.06) scale(1.0036 1)" font-family='"Liberation Sans", sans-serif' font-size="14.23" fill="#1a1a1a" stroke="#1a1a1a" stroke-width="0.15">250</text>
<text transform="translate(34.53 321.96) scale(1.0036 1)" font-family='"Liberation Sans", sans-serif' font-size="14.23" fill="#1a1a1a" stroke="#1a1a1a" stroke-width="0.15">300</text>
<text transform="translate(99.39 566.66) scale(1.0933 1)" font-family='"Liberation Sans", sans-serif' font-size="13.52" fill="#1a1a1a" stroke="#1a1a1a" stroke-width="0.15">400</text>
<text transform="translate(188.35 566.66) scale(1.0933 1)" font-family='"Liberation Sans", sans-serif' font-size="13.52" fill="#1a1a1a" stroke="#1a1a1a" stroke-width="0.15">600</text>
<text transform="translate(277.61 566.66) scale(1.0933 1)" font-family='"Liberation Sans", sans-serif' font-size="13.52" fill="#1a1a1a" stroke="#1a1a1a" stroke-width="0.15">800</text>
<text transform="translate(362.43 566.66) scale(1.0933 1)" font-family='"Liberation Sans", sans-serif' font-size="13.52" fill="#1a1a1a" stroke="#1a1a1a" stroke-width="0.15">1000</text>
<text transform="translate(329.00 518.89) scale(1.0000 1)" font-family='"Liberation Sans", sans-serif' font-size="10.50" fill="#222" stroke="#222" stroke-width="0.15">time</text>
<text transform="translate(439.18 555.30) scale(1.0507 1)" font-family='"Liberation Serif", serif' font-size="15.15" fill="#1a1a1a" stroke="#1a1a1a" stroke-width="0.3">0</text>
<text transform="translate(423.26 478.90) scale(1.0507 1)" font-family='"Liberation Serif", serif' font-size="15.15" fill="#1a1a1a" stroke="#1a1a1a" stroke-width="0.3">100</text>
<text transform="translate(423.26 402.50) scale(1.0507 1)" font-family='"Liberation Serif", serif' font-size="15.15" fill="#1a1a1a" stroke="#1a1a1a" stroke-width="0.3">200</text>
<text transform="translate(423.26 326.10) scale(1.0507 1)" font-family='"Liberation Serif", serif' font-size="15.15" fill="#1a1a1a" stroke="#1a1a1a" stroke-width="0.3">300</text>
<text transform="translate(452.60 567.89) scale(0.9505 1)" font-family='"Liberation Sans", sans-serif' font-size="11.27" fill="#333" stroke="#333" stroke-width="0.15">0</text>
<text transform="translate(541.19 567.89) scale(0.9505 1)" font-family='"Liberation Sans", sans-serif' font-size="11.27" fill="#333" stroke="#333" stroke-width="0.15">100</text>
<text transform="translate(636.10 567.89) scale(0.9505 1)" font-family='"Liberation Sans", sans-serif' font-size="11.27" fill="#333" stroke="#333" stroke-width="0.15">200</text>
<text transform="translate(730.91 567.89) scale(0.9505 1)" font-family='"Liberation Sans", sans-serif' font-size="11.27" fill="#333" stroke="#333" stroke-width="0.15">300</text>
</svg></body></html>
